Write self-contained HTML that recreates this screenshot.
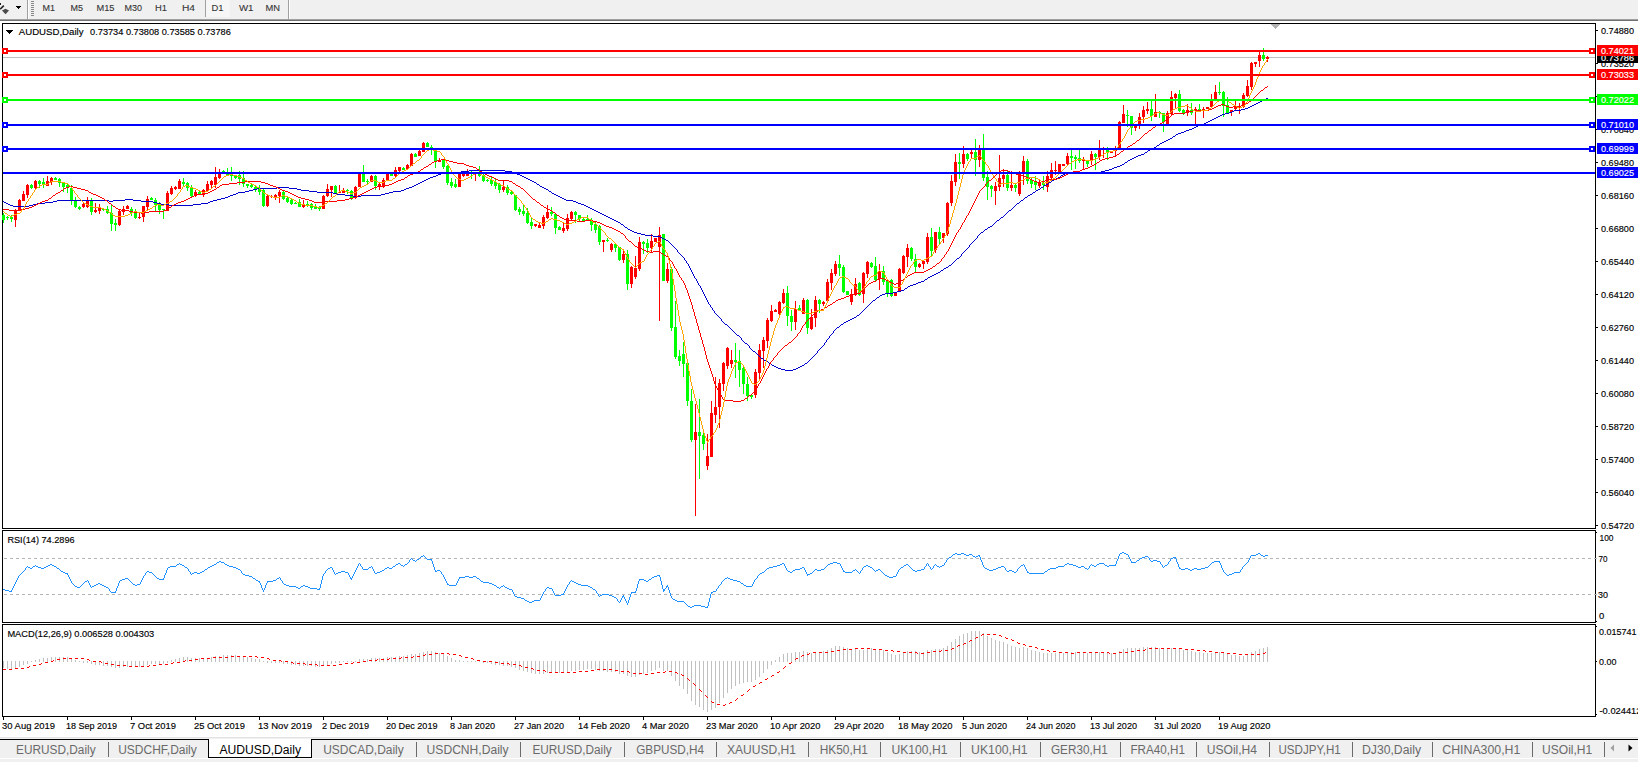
<!DOCTYPE html>
<html><head><meta charset="utf-8"><style>
html,body{margin:0;padding:0;background:#fff;overflow:hidden}
svg{display:block}
text{font-family:"Liberation Sans", sans-serif;stroke-width:0.15px;paint-order:stroke}
</style></head><body>
<svg width="1638" height="762" viewBox="0 0 1638 762" shape-rendering="crispEdges">
<rect x="0" y="0" width="1638" height="19" fill="#f0f0f0"/>
<rect x="0" y="19" width="1638" height="1" fill="#a0a0a0"/>
<rect x="0" y="20" width="1638" height="1" fill="#707070"/>
<path d="M0 2.5 L1.9 4.2 L0 4.8 Z" fill="#222"/>
<path d="M3.8 5.6 L0.2 9.2" stroke="#222" stroke-width="1.6" fill="none" shape-rendering="auto"/>
<path d="M2 10.6 L5.5 8.8 L9 10.6 L5.5 14.2 Z" fill="#4a4a4a" shape-rendering="auto"/>
<path d="M16 6 L21 6 L18.5 9 Z" fill="#000"/>
<rect x="27" y="0" width="1" height="19" fill="#a0a0a0"/>
<rect x="28" y="0" width="1" height="19" fill="#ffffff"/>
<rect x="31" y="1" width="3" height="1" fill="#888"/>
<rect x="31" y="3" width="3" height="1" fill="#888"/>
<rect x="31" y="5" width="3" height="1" fill="#888"/>
<rect x="31" y="7" width="3" height="1" fill="#888"/>
<rect x="31" y="9" width="3" height="1" fill="#888"/>
<rect x="31" y="11" width="3" height="1" fill="#888"/>
<rect x="31" y="13" width="3" height="1" fill="#888"/>
<rect x="31" y="15" width="3" height="1" fill="#888"/>
<rect x="205" y="0" width="1" height="17" fill="#a0a0a0"/>
<rect x="206" y="0" width="24" height="17" fill="#f6f6f6"/>
<rect x="288" y="0" width="1" height="19" fill="#a0a0a0"/>
<rect x="289" y="0" width="1" height="19" fill="#ffffff"/>
<text x="42.5" y="11" font-size="9.5" fill="#333" stroke="#333" textLength="12.5" lengthAdjust="spacingAndGlyphs" style="stroke-width:0.1px">M1</text>
<text x="70.5" y="11" font-size="9.5" fill="#333" stroke="#333" textLength="12.5" lengthAdjust="spacingAndGlyphs" style="stroke-width:0.1px">M5</text>
<text x="96.5" y="11" font-size="9.5" fill="#333" stroke="#333" textLength="18.0" lengthAdjust="spacingAndGlyphs" style="stroke-width:0.1px">M15</text>
<text x="124.5" y="11" font-size="9.5" fill="#333" stroke="#333" textLength="17.5" lengthAdjust="spacingAndGlyphs" style="stroke-width:0.1px">M30</text>
<text x="155" y="11" font-size="9.5" fill="#333" stroke="#333" textLength="12" lengthAdjust="spacingAndGlyphs" style="stroke-width:0.1px">H1</text>
<text x="182" y="11" font-size="9.5" fill="#333" stroke="#333" textLength="13" lengthAdjust="spacingAndGlyphs" style="stroke-width:0.1px">H4</text>
<text x="211.5" y="11" font-size="9.5" fill="#333" stroke="#333" textLength="12.0" lengthAdjust="spacingAndGlyphs" style="stroke-width:0.1px">D1</text>
<text x="239" y="11" font-size="9.5" fill="#333" stroke="#333" textLength="14.5" lengthAdjust="spacingAndGlyphs" style="stroke-width:0.1px">W1</text>
<text x="265.5" y="11" font-size="9.5" fill="#333" stroke="#333" textLength="14.5" lengthAdjust="spacingAndGlyphs" style="stroke-width:0.1px">MN</text>
<rect x="0" y="21" width="1638" height="716" fill="#ffffff"/>
<rect x="2" y="23" width="1594" height="1" fill="#000"/>
<rect x="2" y="528" width="1594" height="1" fill="#000"/>
<rect x="2" y="23" width="1" height="506" fill="#000"/>
<rect x="1595" y="23" width="1" height="506" fill="#000"/>
<rect x="2" y="530" width="1594" height="1" fill="#000"/>
<rect x="2" y="622" width="1594" height="1" fill="#000"/>
<rect x="2" y="530" width="1" height="93" fill="#000"/>
<rect x="1595" y="530" width="1" height="93" fill="#000"/>
<rect x="2" y="624" width="1594" height="1" fill="#000"/>
<rect x="2" y="716" width="1594" height="1" fill="#000"/>
<rect x="2" y="624" width="1" height="93" fill="#000"/>
<rect x="1595" y="624" width="1" height="93" fill="#000"/>
<rect x="1596" y="30" width="2" height="1" fill="#000"/>
<text x="1601" y="34" font-size="9.5" fill="#000" stroke="#000" textLength="33" lengthAdjust="spacingAndGlyphs" >0.74880</text>
<rect x="1596" y="63" width="2" height="1" fill="#000"/>
<text x="1601" y="67" font-size="9.5" fill="#000" stroke="#000" textLength="33" lengthAdjust="spacingAndGlyphs" >0.73520</text>
<rect x="1596" y="96" width="2" height="1" fill="#000"/>
<text x="1601" y="100" font-size="9.5" fill="#000" stroke="#000" textLength="33" lengthAdjust="spacingAndGlyphs" >0.72160</text>
<rect x="1596" y="129" width="2" height="1" fill="#000"/>
<text x="1601" y="133" font-size="9.5" fill="#000" stroke="#000" textLength="33" lengthAdjust="spacingAndGlyphs" >0.70840</text>
<rect x="1596" y="162" width="2" height="1" fill="#000"/>
<text x="1601" y="166" font-size="9.5" fill="#000" stroke="#000" textLength="33" lengthAdjust="spacingAndGlyphs" >0.69480</text>
<rect x="1596" y="195" width="2" height="1" fill="#000"/>
<text x="1601" y="199" font-size="9.5" fill="#000" stroke="#000" textLength="33" lengthAdjust="spacingAndGlyphs" >0.68160</text>
<rect x="1596" y="228" width="2" height="1" fill="#000"/>
<text x="1601" y="232" font-size="9.5" fill="#000" stroke="#000" textLength="33" lengthAdjust="spacingAndGlyphs" >0.66800</text>
<rect x="1596" y="261" width="2" height="1" fill="#000"/>
<text x="1601" y="265" font-size="9.5" fill="#000" stroke="#000" textLength="33" lengthAdjust="spacingAndGlyphs" >0.65440</text>
<rect x="1596" y="294" width="2" height="1" fill="#000"/>
<text x="1601" y="298" font-size="9.5" fill="#000" stroke="#000" textLength="33" lengthAdjust="spacingAndGlyphs" >0.64120</text>
<rect x="1596" y="327" width="2" height="1" fill="#000"/>
<text x="1601" y="331" font-size="9.5" fill="#000" stroke="#000" textLength="33" lengthAdjust="spacingAndGlyphs" >0.62760</text>
<rect x="1596" y="360" width="2" height="1" fill="#000"/>
<text x="1601" y="364" font-size="9.5" fill="#000" stroke="#000" textLength="33" lengthAdjust="spacingAndGlyphs" >0.61440</text>
<rect x="1596" y="393" width="2" height="1" fill="#000"/>
<text x="1601" y="397" font-size="9.5" fill="#000" stroke="#000" textLength="33" lengthAdjust="spacingAndGlyphs" >0.60080</text>
<rect x="1596" y="426" width="2" height="1" fill="#000"/>
<text x="1601" y="430" font-size="9.5" fill="#000" stroke="#000" textLength="33" lengthAdjust="spacingAndGlyphs" >0.58720</text>
<rect x="1596" y="459" width="2" height="1" fill="#000"/>
<text x="1601" y="463" font-size="9.5" fill="#000" stroke="#000" textLength="33" lengthAdjust="spacingAndGlyphs" >0.57400</text>
<rect x="1596" y="492" width="2" height="1" fill="#000"/>
<text x="1601" y="496" font-size="9.5" fill="#000" stroke="#000" textLength="33" lengthAdjust="spacingAndGlyphs" >0.56040</text>
<rect x="1596" y="525" width="2" height="1" fill="#000"/>
<text x="1601" y="529" font-size="9.5" fill="#000" stroke="#000" textLength="33" lengthAdjust="spacingAndGlyphs" >0.54720</text>
<rect x="1596" y="532" width="1" height="1" fill="#000"/>
<rect x="1596" y="558" width="1" height="1" fill="#000"/>
<rect x="1596" y="594" width="1" height="1" fill="#000"/>
<rect x="1596" y="621" width="1" height="1" fill="#000"/>
<text x="1599.5" y="541" font-size="9.5" fill="#000" stroke="#000" textLength="14" lengthAdjust="spacingAndGlyphs" >100</text>
<text x="1598.5" y="562" font-size="9.5" fill="#000" stroke="#000" textLength="9" lengthAdjust="spacingAndGlyphs" >70</text>
<text x="1598" y="598" font-size="9.5" fill="#000" stroke="#000" textLength="10" lengthAdjust="spacingAndGlyphs" >30</text>
<text x="1599" y="619" font-size="9.5" fill="#000" stroke="#000" textLength="5.3" lengthAdjust="spacingAndGlyphs" >0</text>
<rect x="1596" y="626" width="1" height="1" fill="#000"/>
<rect x="1596" y="661" width="1" height="1" fill="#000"/>
<rect x="1596" y="714" width="1" height="1" fill="#000"/>
<text x="1599.1" y="635" font-size="9.5" fill="#000" stroke="#000" textLength="37.5" lengthAdjust="spacingAndGlyphs" >0.015741</text>
<text x="1599.1" y="665" font-size="9.5" fill="#000" stroke="#000" textLength="17.4" lengthAdjust="spacingAndGlyphs" >0.00</text>
<text x="1599.5" y="713.5" font-size="9.5" fill="#000" stroke="#000" textLength="42" lengthAdjust="spacingAndGlyphs" >-0.024412</text>
<rect x="3" y="717" width="1" height="3" fill="#000"/>
<text x="2" y="729" font-size="9.5" fill="#000" stroke="#000" textLength="53" lengthAdjust="spacingAndGlyphs" >30 Aug 2019</text>
<rect x="67" y="717" width="1" height="3" fill="#000"/>
<text x="66" y="729" font-size="9.5" fill="#000" stroke="#000" textLength="51" lengthAdjust="spacingAndGlyphs" >18 Sep 2019</text>
<rect x="131" y="717" width="1" height="3" fill="#000"/>
<text x="130" y="729" font-size="9.5" fill="#000" stroke="#000" textLength="46" lengthAdjust="spacingAndGlyphs" >7 Oct 2019</text>
<rect x="195" y="717" width="1" height="3" fill="#000"/>
<text x="194" y="729" font-size="9.5" fill="#000" stroke="#000" textLength="51" lengthAdjust="spacingAndGlyphs" >25 Oct 2019</text>
<rect x="259" y="717" width="1" height="3" fill="#000"/>
<text x="258" y="729" font-size="9.5" fill="#000" stroke="#000" textLength="54" lengthAdjust="spacingAndGlyphs" >13 Nov 2019</text>
<rect x="323" y="717" width="1" height="3" fill="#000"/>
<text x="322" y="729" font-size="9.5" fill="#000" stroke="#000" textLength="47" lengthAdjust="spacingAndGlyphs" >2 Dec 2019</text>
<rect x="387" y="717" width="1" height="3" fill="#000"/>
<text x="386" y="729" font-size="9.5" fill="#000" stroke="#000" textLength="51.5" lengthAdjust="spacingAndGlyphs" >20 Dec 2019</text>
<rect x="451" y="717" width="1" height="3" fill="#000"/>
<text x="450" y="729" font-size="9.5" fill="#000" stroke="#000" textLength="45" lengthAdjust="spacingAndGlyphs" >8 Jan 2020</text>
<rect x="515" y="717" width="1" height="3" fill="#000"/>
<text x="514" y="729" font-size="9.5" fill="#000" stroke="#000" textLength="50" lengthAdjust="spacingAndGlyphs" >27 Jan 2020</text>
<rect x="579" y="717" width="1" height="3" fill="#000"/>
<text x="578" y="729" font-size="9.5" fill="#000" stroke="#000" textLength="52" lengthAdjust="spacingAndGlyphs" >14 Feb 2020</text>
<rect x="643" y="717" width="1" height="3" fill="#000"/>
<text x="642" y="729" font-size="9.5" fill="#000" stroke="#000" textLength="47" lengthAdjust="spacingAndGlyphs" >4 Mar 2020</text>
<rect x="707" y="717" width="1" height="3" fill="#000"/>
<text x="706" y="729" font-size="9.5" fill="#000" stroke="#000" textLength="52" lengthAdjust="spacingAndGlyphs" >23 Mar 2020</text>
<rect x="771" y="717" width="1" height="3" fill="#000"/>
<text x="770" y="729" font-size="9.5" fill="#000" stroke="#000" textLength="50.5" lengthAdjust="spacingAndGlyphs" >10 Apr 2020</text>
<rect x="835" y="717" width="1" height="3" fill="#000"/>
<text x="834" y="729" font-size="9.5" fill="#000" stroke="#000" textLength="50" lengthAdjust="spacingAndGlyphs" >29 Apr 2020</text>
<rect x="899" y="717" width="1" height="3" fill="#000"/>
<text x="898" y="729" font-size="9.5" fill="#000" stroke="#000" textLength="54.5" lengthAdjust="spacingAndGlyphs" >18 May 2020</text>
<rect x="963" y="717" width="1" height="3" fill="#000"/>
<text x="962" y="729" font-size="9.5" fill="#000" stroke="#000" textLength="45" lengthAdjust="spacingAndGlyphs" >5 Jun 2020</text>
<rect x="1027" y="717" width="1" height="3" fill="#000"/>
<text x="1026" y="729" font-size="9.5" fill="#000" stroke="#000" textLength="49.5" lengthAdjust="spacingAndGlyphs" >24 Jun 2020</text>
<rect x="1091" y="717" width="1" height="3" fill="#000"/>
<text x="1090" y="729" font-size="9.5" fill="#000" stroke="#000" textLength="47" lengthAdjust="spacingAndGlyphs" >13 Jul 2020</text>
<rect x="1155" y="717" width="1" height="3" fill="#000"/>
<text x="1154" y="729" font-size="9.5" fill="#000" stroke="#000" textLength="47" lengthAdjust="spacingAndGlyphs" >31 Jul 2020</text>
<rect x="1219" y="717" width="1" height="3" fill="#000"/>
<text x="1218" y="729" font-size="9.5" fill="#000" stroke="#000" textLength="52.5" lengthAdjust="spacingAndGlyphs" >19 Aug 2020</text>
<rect x="0" y="737" width="1638" height="1" fill="#e3e3e3"/>
<rect x="0" y="738" width="1638" height="1" fill="#f0f0f0"/>
<rect x="0" y="739" width="1638" height="1" fill="#000"/>
<rect x="0" y="740" width="1638" height="18" fill="#f0f0f0"/>
<rect x="0" y="758" width="1638" height="1" fill="#ffffff"/>
<rect x="0" y="759" width="1638" height="3" fill="#f0f0f0"/>
<rect x="208" y="739" width="104" height="19" fill="#ffffff"/>
<rect x="208" y="739" width="1" height="19" fill="#000"/>
<rect x="311" y="739" width="1" height="19" fill="#000"/>
<rect x="208" y="757" width="104" height="1" fill="#000"/>
<text x="16" y="754" font-size="12" fill="#6a6a6a" stroke="#6a6a6a" textLength="79.6" lengthAdjust="spacingAndGlyphs" style="stroke-width:0">EURUSD,Daily</text>
<text x="118.2" y="754" font-size="12" fill="#6a6a6a" stroke="#6a6a6a" textLength="78.6" lengthAdjust="spacingAndGlyphs" style="stroke-width:0">USDCHF,Daily</text>
<text x="219.5" y="754" font-size="12" fill="#000" stroke="#000" textLength="81.5" lengthAdjust="spacingAndGlyphs" style="stroke-width:0">AUDUSD,Daily</text>
<text x="323.2" y="754" font-size="12" fill="#6a6a6a" stroke="#6a6a6a" textLength="80.6" lengthAdjust="spacingAndGlyphs" style="stroke-width:0">USDCAD,Daily</text>
<text x="426.6" y="754" font-size="12" fill="#6a6a6a" stroke="#6a6a6a" textLength="82.0" lengthAdjust="spacingAndGlyphs" style="stroke-width:0">USDCNH,Daily</text>
<text x="532.5" y="754" font-size="12" fill="#6a6a6a" stroke="#6a6a6a" textLength="79.2" lengthAdjust="spacingAndGlyphs" style="stroke-width:0">EURUSD,Daily</text>
<text x="636.2" y="754" font-size="12" fill="#6a6a6a" stroke="#6a6a6a" textLength="67.8" lengthAdjust="spacingAndGlyphs" style="stroke-width:0">GBPUSD,H4</text>
<text x="726.9" y="754" font-size="12" fill="#6a6a6a" stroke="#6a6a6a" textLength="69.1" lengthAdjust="spacingAndGlyphs" style="stroke-width:0">XAUUSD,H1</text>
<text x="819.7" y="754" font-size="12" fill="#6a6a6a" stroke="#6a6a6a" textLength="48.3" lengthAdjust="spacingAndGlyphs" style="stroke-width:0">HK50,H1</text>
<text x="891.5" y="754" font-size="12" fill="#6a6a6a" stroke="#6a6a6a" textLength="56.0" lengthAdjust="spacingAndGlyphs" style="stroke-width:0">UK100,H1</text>
<text x="971.1" y="754" font-size="12" fill="#6a6a6a" stroke="#6a6a6a" textLength="56.5" lengthAdjust="spacingAndGlyphs" style="stroke-width:0">UK100,H1</text>
<text x="1051" y="754" font-size="12" fill="#6a6a6a" stroke="#6a6a6a" textLength="56.7" lengthAdjust="spacingAndGlyphs" style="stroke-width:0">GER30,H1</text>
<text x="1130.5" y="754" font-size="12" fill="#6a6a6a" stroke="#6a6a6a" textLength="54.4" lengthAdjust="spacingAndGlyphs" style="stroke-width:0">FRA40,H1</text>
<text x="1206.7" y="754" font-size="12" fill="#6a6a6a" stroke="#6a6a6a" textLength="50.4" lengthAdjust="spacingAndGlyphs" style="stroke-width:0">USOil,H4</text>
<text x="1278.5" y="754" font-size="12" fill="#6a6a6a" stroke="#6a6a6a" textLength="62.3" lengthAdjust="spacingAndGlyphs" style="stroke-width:0">USDJPY,H1</text>
<text x="1362" y="754" font-size="12" fill="#6a6a6a" stroke="#6a6a6a" textLength="59" lengthAdjust="spacingAndGlyphs" style="stroke-width:0">DJ30,Daily</text>
<text x="1442.3" y="754" font-size="12" fill="#6a6a6a" stroke="#6a6a6a" textLength="78.0" lengthAdjust="spacingAndGlyphs" style="stroke-width:0">CHINA300,H1</text>
<text x="1542" y="754" font-size="12" fill="#6a6a6a" stroke="#6a6a6a" textLength="50.3" lengthAdjust="spacingAndGlyphs" style="stroke-width:0">USOil,H1</text>
<rect x="108" y="742" width="1" height="15" fill="#6a6a6a"/>
<rect x="416" y="742" width="1" height="15" fill="#6a6a6a"/>
<rect x="520" y="742" width="1" height="15" fill="#6a6a6a"/>
<rect x="624" y="742" width="1" height="15" fill="#6a6a6a"/>
<rect x="716" y="742" width="1" height="15" fill="#6a6a6a"/>
<rect x="808" y="742" width="1" height="15" fill="#6a6a6a"/>
<rect x="880" y="742" width="1" height="15" fill="#6a6a6a"/>
<rect x="960" y="742" width="1" height="15" fill="#6a6a6a"/>
<rect x="1040" y="742" width="1" height="15" fill="#6a6a6a"/>
<rect x="1120" y="742" width="1" height="15" fill="#6a6a6a"/>
<rect x="1196" y="742" width="1" height="15" fill="#6a6a6a"/>
<rect x="1269" y="742" width="1" height="15" fill="#6a6a6a"/>
<rect x="1352" y="742" width="1" height="15" fill="#6a6a6a"/>
<rect x="1432" y="742" width="1" height="15" fill="#6a6a6a"/>
<rect x="1532" y="742" width="1" height="15" fill="#6a6a6a"/>
<rect x="1604" y="742" width="1" height="15" fill="#6a6a6a"/>
<path d="M1614 744.5 L1614 751.5 L1610.5 748 Z" fill="#a0a0a0" shape-rendering="auto"/>
<path d="M1628.5 744.5 L1628.5 751.5 L1632.5 748 Z" fill="#000" shape-rendering="auto"/>
<path d="M6 30 L13 30 L9.5 34 Z" fill="#000"/>
<text x="18.8" y="35" font-size="9.5" fill="#000" stroke="#000" textLength="64.7" lengthAdjust="spacingAndGlyphs" >AUDUSD,Daily</text>
<text x="90.1" y="35" font-size="9.5" fill="#000" stroke="#000" textLength="140.7" lengthAdjust="spacingAndGlyphs" >0.73734 0.73808 0.73585 0.73786</text>
<text x="7.4" y="543" font-size="9.5" fill="#000" stroke="#000" textLength="67.2" lengthAdjust="spacingAndGlyphs" >RSI(14) 74.2896</text>
<text x="7.4" y="637" font-size="9.5" fill="#000" stroke="#000" textLength="146.8" lengthAdjust="spacingAndGlyphs" >MACD(12,26,9) 0.006528 0.004303</text>
<path d="M1270 24 L1281 24 L1275.5 29 Z" fill="#b4b4b4"/>
<rect x="3" y="57" width="1592" height="1" fill="#c0c0c0"/>
<g id="candles">
<rect x="3" y="213" width="1" height="10" fill="#00ff00"/>
<rect x="2" y="215" width="3" height="5" fill="#00ff00"/>
<rect x="7" y="216" width="1" height="4" fill="#00ff00"/>
<rect x="6" y="217" width="3" height="1" fill="#00ff00"/>
<rect x="11" y="215" width="1" height="7" fill="#00ff00"/>
<rect x="10" y="217" width="3" height="2" fill="#00ff00"/>
<rect x="15" y="209" width="1" height="18" fill="#ff0000"/>
<rect x="14" y="210" width="3" height="10" fill="#ff0000"/>
<rect x="19" y="199" width="1" height="12" fill="#ff0000"/>
<rect x="18" y="200" width="3" height="10" fill="#ff0000"/>
<rect x="23" y="191" width="1" height="10" fill="#ff0000"/>
<rect x="22" y="194" width="3" height="7" fill="#ff0000"/>
<rect x="27" y="184" width="1" height="14" fill="#ff0000"/>
<rect x="26" y="185" width="3" height="10" fill="#ff0000"/>
<rect x="31" y="184" width="1" height="5" fill="#00ff00"/>
<rect x="30" y="185" width="3" height="3" fill="#00ff00"/>
<rect x="35" y="180" width="1" height="9" fill="#ff0000"/>
<rect x="34" y="181" width="3" height="7" fill="#ff0000"/>
<rect x="39" y="180" width="1" height="8" fill="#00ff00"/>
<rect x="38" y="181" width="3" height="3" fill="#00ff00"/>
<rect x="43" y="178" width="1" height="10" fill="#00ff00"/>
<rect x="42" y="182" width="3" height="3" fill="#00ff00"/>
<rect x="47" y="176" width="1" height="10" fill="#ff0000"/>
<rect x="46" y="181" width="3" height="5" fill="#ff0000"/>
<rect x="51" y="177" width="1" height="8" fill="#ff0000"/>
<rect x="50" y="178" width="3" height="4" fill="#ff0000"/>
<rect x="55" y="177" width="1" height="3" fill="#00ff00"/>
<rect x="54" y="178" width="3" height="2" fill="#00ff00"/>
<rect x="59" y="178" width="1" height="9" fill="#00ff00"/>
<rect x="58" y="179" width="3" height="4" fill="#00ff00"/>
<rect x="63" y="182" width="1" height="10" fill="#00ff00"/>
<rect x="62" y="183" width="3" height="4" fill="#00ff00"/>
<rect x="67" y="183" width="1" height="10" fill="#00ff00"/>
<rect x="66" y="185" width="3" height="3" fill="#00ff00"/>
<rect x="71" y="185" width="1" height="20" fill="#00ff00"/>
<rect x="70" y="188" width="3" height="12" fill="#00ff00"/>
<rect x="75" y="197" width="1" height="11" fill="#00ff00"/>
<rect x="74" y="200" width="3" height="7" fill="#00ff00"/>
<rect x="79" y="206" width="1" height="4" fill="#00ff00"/>
<rect x="78" y="207" width="3" height="2" fill="#00ff00"/>
<rect x="83" y="203" width="1" height="5" fill="#ff0000"/>
<rect x="82" y="204" width="3" height="3" fill="#ff0000"/>
<rect x="87" y="197" width="1" height="11" fill="#ff0000"/>
<rect x="86" y="201" width="3" height="6" fill="#ff0000"/>
<rect x="91" y="198" width="1" height="17" fill="#00ff00"/>
<rect x="90" y="201" width="3" height="11" fill="#00ff00"/>
<rect x="95" y="203" width="1" height="10" fill="#ff0000"/>
<rect x="94" y="210" width="3" height="2" fill="#ff0000"/>
<rect x="99" y="204" width="1" height="10" fill="#ff0000"/>
<rect x="98" y="208" width="3" height="3" fill="#ff0000"/>
<rect x="103" y="208" width="1" height="3" fill="#00ff00"/>
<rect x="102" y="209" width="3" height="1" fill="#00ff00"/>
<rect x="107" y="206" width="1" height="8" fill="#00ff00"/>
<rect x="106" y="209" width="3" height="4" fill="#00ff00"/>
<rect x="111" y="205" width="1" height="26" fill="#00ff00"/>
<rect x="110" y="213" width="3" height="11" fill="#00ff00"/>
<rect x="115" y="219" width="1" height="12" fill="#00ff00"/>
<rect x="114" y="223" width="3" height="2" fill="#00ff00"/>
<rect x="119" y="210" width="1" height="16" fill="#ff0000"/>
<rect x="118" y="211" width="3" height="14" fill="#ff0000"/>
<rect x="123" y="206" width="1" height="9" fill="#ff0000"/>
<rect x="122" y="209" width="3" height="3" fill="#ff0000"/>
<rect x="127" y="205" width="1" height="4" fill="#ff0000"/>
<rect x="126" y="206" width="3" height="3" fill="#ff0000"/>
<rect x="131" y="207" width="1" height="9" fill="#00ff00"/>
<rect x="130" y="209" width="3" height="4" fill="#00ff00"/>
<rect x="135" y="209" width="1" height="10" fill="#00ff00"/>
<rect x="134" y="213" width="3" height="5" fill="#00ff00"/>
<rect x="139" y="212" width="1" height="7" fill="#ff0000"/>
<rect x="138" y="217" width="3" height="1" fill="#ff0000"/>
<rect x="143" y="206" width="1" height="16" fill="#ff0000"/>
<rect x="142" y="206" width="3" height="11" fill="#ff0000"/>
<rect x="147" y="196" width="1" height="14" fill="#ff0000"/>
<rect x="146" y="199" width="3" height="8" fill="#ff0000"/>
<rect x="151" y="197" width="1" height="3" fill="#00ff00"/>
<rect x="150" y="198" width="3" height="2" fill="#00ff00"/>
<rect x="155" y="198" width="1" height="13" fill="#00ff00"/>
<rect x="154" y="200" width="3" height="5" fill="#00ff00"/>
<rect x="159" y="202" width="1" height="12" fill="#00ff00"/>
<rect x="158" y="204" width="3" height="6" fill="#00ff00"/>
<rect x="163" y="209" width="1" height="10" fill="#00ff00"/>
<rect x="162" y="209" width="3" height="1" fill="#00ff00"/>
<rect x="167" y="191" width="1" height="20" fill="#ff0000"/>
<rect x="166" y="193" width="3" height="18" fill="#ff0000"/>
<rect x="171" y="186" width="1" height="9" fill="#ff0000"/>
<rect x="170" y="188" width="3" height="6" fill="#ff0000"/>
<rect x="175" y="186" width="1" height="4" fill="#ff0000"/>
<rect x="174" y="187" width="3" height="2" fill="#ff0000"/>
<rect x="179" y="179" width="1" height="10" fill="#ff0000"/>
<rect x="178" y="181" width="3" height="8" fill="#ff0000"/>
<rect x="183" y="178" width="1" height="8" fill="#00ff00"/>
<rect x="182" y="182" width="3" height="2" fill="#00ff00"/>
<rect x="187" y="182" width="1" height="9" fill="#00ff00"/>
<rect x="186" y="183" width="3" height="5" fill="#00ff00"/>
<rect x="191" y="185" width="1" height="12" fill="#00ff00"/>
<rect x="190" y="188" width="3" height="8" fill="#00ff00"/>
<rect x="195" y="190" width="1" height="7" fill="#ff0000"/>
<rect x="194" y="192" width="3" height="4" fill="#ff0000"/>
<rect x="199" y="191" width="1" height="3" fill="#00ff00"/>
<rect x="198" y="192" width="3" height="2" fill="#00ff00"/>
<rect x="203" y="189" width="1" height="8" fill="#ff0000"/>
<rect x="202" y="190" width="3" height="5" fill="#ff0000"/>
<rect x="207" y="181" width="1" height="10" fill="#ff0000"/>
<rect x="206" y="184" width="3" height="7" fill="#ff0000"/>
<rect x="211" y="180" width="1" height="8" fill="#ff0000"/>
<rect x="210" y="181" width="3" height="4" fill="#ff0000"/>
<rect x="215" y="167" width="1" height="21" fill="#ff0000"/>
<rect x="214" y="177" width="3" height="8" fill="#ff0000"/>
<rect x="219" y="169" width="1" height="10" fill="#ff0000"/>
<rect x="218" y="172" width="3" height="6" fill="#ff0000"/>
<rect x="223" y="170" width="1" height="3" fill="#00ff00"/>
<rect x="222" y="171" width="3" height="2" fill="#00ff00"/>
<rect x="227" y="168" width="1" height="8" fill="#00ff00"/>
<rect x="226" y="174" width="3" height="1" fill="#00ff00"/>
<rect x="231" y="167" width="1" height="14" fill="#00ff00"/>
<rect x="230" y="175" width="3" height="1" fill="#00ff00"/>
<rect x="235" y="175" width="1" height="4" fill="#00ff00"/>
<rect x="234" y="176" width="3" height="2" fill="#00ff00"/>
<rect x="239" y="171" width="1" height="14" fill="#00ff00"/>
<rect x="238" y="175" width="3" height="4" fill="#00ff00"/>
<rect x="243" y="171" width="1" height="16" fill="#00ff00"/>
<rect x="242" y="178" width="3" height="6" fill="#00ff00"/>
<rect x="247" y="184" width="1" height="4" fill="#00ff00"/>
<rect x="246" y="184" width="3" height="2" fill="#00ff00"/>
<rect x="251" y="183" width="1" height="5" fill="#00ff00"/>
<rect x="250" y="185" width="3" height="2" fill="#00ff00"/>
<rect x="255" y="185" width="1" height="7" fill="#00ff00"/>
<rect x="254" y="187" width="3" height="3" fill="#00ff00"/>
<rect x="259" y="185" width="1" height="10" fill="#00ff00"/>
<rect x="258" y="189" width="3" height="3" fill="#00ff00"/>
<rect x="263" y="189" width="1" height="18" fill="#00ff00"/>
<rect x="262" y="190" width="3" height="16" fill="#00ff00"/>
<rect x="267" y="195" width="1" height="12" fill="#ff0000"/>
<rect x="266" y="196" width="3" height="10" fill="#ff0000"/>
<rect x="271" y="195" width="1" height="3" fill="#ff0000"/>
<rect x="270" y="196" width="3" height="1" fill="#ff0000"/>
<rect x="275" y="194" width="1" height="6" fill="#ff0000"/>
<rect x="274" y="195" width="3" height="2" fill="#ff0000"/>
<rect x="279" y="190" width="1" height="13" fill="#ff0000"/>
<rect x="278" y="192" width="3" height="4" fill="#ff0000"/>
<rect x="283" y="190" width="1" height="10" fill="#00ff00"/>
<rect x="282" y="192" width="3" height="7" fill="#00ff00"/>
<rect x="287" y="196" width="1" height="7" fill="#00ff00"/>
<rect x="286" y="198" width="3" height="4" fill="#00ff00"/>
<rect x="291" y="199" width="1" height="6" fill="#00ff00"/>
<rect x="290" y="200" width="3" height="4" fill="#00ff00"/>
<rect x="295" y="202" width="1" height="2" fill="#00ff00"/>
<rect x="294" y="203" width="3" height="1" fill="#00ff00"/>
<rect x="299" y="199" width="1" height="8" fill="#00ff00"/>
<rect x="298" y="202" width="3" height="5" fill="#00ff00"/>
<rect x="303" y="200" width="1" height="8" fill="#ff0000"/>
<rect x="302" y="204" width="3" height="3" fill="#ff0000"/>
<rect x="307" y="201" width="1" height="6" fill="#00ff00"/>
<rect x="306" y="204" width="3" height="1" fill="#00ff00"/>
<rect x="311" y="203" width="1" height="7" fill="#00ff00"/>
<rect x="310" y="204" width="3" height="4" fill="#00ff00"/>
<rect x="315" y="204" width="1" height="5" fill="#00ff00"/>
<rect x="314" y="207" width="3" height="2" fill="#00ff00"/>
<rect x="319" y="206" width="1" height="5" fill="#00ff00"/>
<rect x="318" y="207" width="3" height="2" fill="#00ff00"/>
<rect x="323" y="195" width="1" height="14" fill="#ff0000"/>
<rect x="322" y="196" width="3" height="13" fill="#ff0000"/>
<rect x="327" y="184" width="1" height="13" fill="#ff0000"/>
<rect x="326" y="189" width="3" height="7" fill="#ff0000"/>
<rect x="331" y="186" width="1" height="11" fill="#ff0000"/>
<rect x="330" y="186" width="3" height="4" fill="#ff0000"/>
<rect x="335" y="185" width="1" height="9" fill="#00ff00"/>
<rect x="334" y="186" width="3" height="8" fill="#00ff00"/>
<rect x="339" y="185" width="1" height="8" fill="#ff0000"/>
<rect x="338" y="192" width="3" height="1" fill="#ff0000"/>
<rect x="343" y="188" width="1" height="5" fill="#ff0000"/>
<rect x="342" y="190" width="3" height="3" fill="#ff0000"/>
<rect x="347" y="189" width="1" height="5" fill="#00ff00"/>
<rect x="346" y="190" width="3" height="1" fill="#00ff00"/>
<rect x="351" y="190" width="1" height="10" fill="#00ff00"/>
<rect x="350" y="191" width="3" height="7" fill="#00ff00"/>
<rect x="355" y="186" width="1" height="13" fill="#ff0000"/>
<rect x="354" y="187" width="3" height="11" fill="#ff0000"/>
<rect x="359" y="174" width="1" height="13" fill="#ff0000"/>
<rect x="358" y="174" width="3" height="13" fill="#ff0000"/>
<rect x="363" y="165" width="1" height="17" fill="#00ff00"/>
<rect x="362" y="174" width="3" height="8" fill="#00ff00"/>
<rect x="367" y="179" width="1" height="5" fill="#00ff00"/>
<rect x="366" y="181" width="3" height="1" fill="#00ff00"/>
<rect x="371" y="175" width="1" height="7" fill="#ff0000"/>
<rect x="370" y="176" width="3" height="6" fill="#ff0000"/>
<rect x="375" y="175" width="1" height="15" fill="#00ff00"/>
<rect x="374" y="176" width="3" height="10" fill="#00ff00"/>
<rect x="379" y="183" width="1" height="7" fill="#ff0000"/>
<rect x="378" y="184" width="3" height="2" fill="#ff0000"/>
<rect x="383" y="178" width="1" height="10" fill="#ff0000"/>
<rect x="382" y="180" width="3" height="6" fill="#ff0000"/>
<rect x="387" y="174" width="1" height="7" fill="#ff0000"/>
<rect x="386" y="174" width="3" height="6" fill="#ff0000"/>
<rect x="391" y="174" width="1" height="2" fill="#00ff00"/>
<rect x="390" y="174" width="3" height="2" fill="#00ff00"/>
<rect x="395" y="167" width="1" height="10" fill="#ff0000"/>
<rect x="394" y="170" width="3" height="6" fill="#ff0000"/>
<rect x="399" y="167" width="1" height="5" fill="#ff0000"/>
<rect x="398" y="167" width="3" height="4" fill="#ff0000"/>
<rect x="403" y="167" width="1" height="3" fill="#00ff00"/>
<rect x="402" y="168" width="3" height="2" fill="#00ff00"/>
<rect x="407" y="164" width="1" height="6" fill="#ff0000"/>
<rect x="406" y="165" width="3" height="4" fill="#ff0000"/>
<rect x="411" y="153" width="1" height="13" fill="#ff0000"/>
<rect x="410" y="154" width="3" height="12" fill="#ff0000"/>
<rect x="415" y="153" width="1" height="4" fill="#00ff00"/>
<rect x="414" y="154" width="3" height="3" fill="#00ff00"/>
<rect x="419" y="150" width="1" height="6" fill="#ff0000"/>
<rect x="418" y="151" width="3" height="5" fill="#ff0000"/>
<rect x="423" y="142" width="1" height="10" fill="#ff0000"/>
<rect x="422" y="143" width="3" height="9" fill="#ff0000"/>
<rect x="427" y="142" width="1" height="5" fill="#00ff00"/>
<rect x="426" y="143" width="3" height="4" fill="#00ff00"/>
<rect x="431" y="145" width="1" height="10" fill="#00ff00"/>
<rect x="430" y="147" width="3" height="1" fill="#00ff00"/>
<rect x="435" y="150" width="1" height="18" fill="#00ff00"/>
<rect x="434" y="150" width="3" height="11" fill="#00ff00"/>
<rect x="439" y="158" width="1" height="4" fill="#ff0000"/>
<rect x="438" y="160" width="3" height="2" fill="#ff0000"/>
<rect x="443" y="159" width="1" height="10" fill="#00ff00"/>
<rect x="442" y="160" width="3" height="7" fill="#00ff00"/>
<rect x="447" y="165" width="1" height="20" fill="#00ff00"/>
<rect x="446" y="166" width="3" height="17" fill="#00ff00"/>
<rect x="451" y="178" width="1" height="10" fill="#00ff00"/>
<rect x="450" y="182" width="3" height="4" fill="#00ff00"/>
<rect x="455" y="179" width="1" height="9" fill="#00ff00"/>
<rect x="454" y="184" width="3" height="3" fill="#00ff00"/>
<rect x="459" y="173" width="1" height="14" fill="#ff0000"/>
<rect x="458" y="174" width="3" height="13" fill="#ff0000"/>
<rect x="463" y="172" width="1" height="5" fill="#ff0000"/>
<rect x="462" y="173" width="3" height="3" fill="#ff0000"/>
<rect x="467" y="169" width="1" height="7" fill="#ff0000"/>
<rect x="466" y="171" width="3" height="5" fill="#ff0000"/>
<rect x="471" y="170" width="1" height="9" fill="#00ff00"/>
<rect x="470" y="172" width="3" height="2" fill="#00ff00"/>
<rect x="475" y="172" width="1" height="9" fill="#ff0000"/>
<rect x="474" y="172" width="3" height="2" fill="#ff0000"/>
<rect x="479" y="166" width="1" height="11" fill="#00ff00"/>
<rect x="478" y="172" width="3" height="4" fill="#00ff00"/>
<rect x="483" y="172" width="1" height="10" fill="#00ff00"/>
<rect x="482" y="175" width="3" height="6" fill="#00ff00"/>
<rect x="487" y="179" width="1" height="3" fill="#00ff00"/>
<rect x="486" y="180" width="3" height="1" fill="#00ff00"/>
<rect x="491" y="177" width="1" height="9" fill="#00ff00"/>
<rect x="490" y="180" width="3" height="4" fill="#00ff00"/>
<rect x="495" y="179" width="1" height="10" fill="#00ff00"/>
<rect x="494" y="182" width="3" height="4" fill="#00ff00"/>
<rect x="499" y="183" width="1" height="10" fill="#00ff00"/>
<rect x="498" y="184" width="3" height="6" fill="#00ff00"/>
<rect x="503" y="180" width="1" height="12" fill="#ff0000"/>
<rect x="502" y="187" width="3" height="3" fill="#ff0000"/>
<rect x="507" y="185" width="1" height="10" fill="#00ff00"/>
<rect x="506" y="187" width="3" height="6" fill="#00ff00"/>
<rect x="511" y="191" width="1" height="4" fill="#00ff00"/>
<rect x="510" y="192" width="3" height="2" fill="#00ff00"/>
<rect x="515" y="195" width="1" height="16" fill="#00ff00"/>
<rect x="514" y="195" width="3" height="15" fill="#00ff00"/>
<rect x="519" y="207" width="1" height="8" fill="#00ff00"/>
<rect x="518" y="209" width="3" height="3" fill="#00ff00"/>
<rect x="523" y="205" width="1" height="11" fill="#00ff00"/>
<rect x="522" y="211" width="3" height="3" fill="#00ff00"/>
<rect x="527" y="208" width="1" height="16" fill="#00ff00"/>
<rect x="526" y="213" width="3" height="10" fill="#00ff00"/>
<rect x="531" y="217" width="1" height="12" fill="#00ff00"/>
<rect x="530" y="222" width="3" height="4" fill="#00ff00"/>
<rect x="535" y="224" width="1" height="3" fill="#ff0000"/>
<rect x="534" y="224" width="3" height="2" fill="#ff0000"/>
<rect x="539" y="223" width="1" height="5" fill="#ff0000"/>
<rect x="538" y="225" width="3" height="3" fill="#ff0000"/>
<rect x="543" y="215" width="1" height="14" fill="#ff0000"/>
<rect x="542" y="217" width="3" height="9" fill="#ff0000"/>
<rect x="547" y="205" width="1" height="14" fill="#ff0000"/>
<rect x="546" y="212" width="3" height="6" fill="#ff0000"/>
<rect x="551" y="207" width="1" height="9" fill="#00ff00"/>
<rect x="550" y="212" width="3" height="2" fill="#00ff00"/>
<rect x="555" y="213" width="1" height="21" fill="#00ff00"/>
<rect x="554" y="214" width="3" height="14" fill="#00ff00"/>
<rect x="559" y="226" width="1" height="4" fill="#00ff00"/>
<rect x="558" y="227" width="3" height="3" fill="#00ff00"/>
<rect x="563" y="223" width="1" height="10" fill="#ff0000"/>
<rect x="562" y="228" width="3" height="3" fill="#ff0000"/>
<rect x="567" y="214" width="1" height="17" fill="#ff0000"/>
<rect x="566" y="218" width="3" height="11" fill="#ff0000"/>
<rect x="571" y="211" width="1" height="10" fill="#ff0000"/>
<rect x="570" y="212" width="3" height="7" fill="#ff0000"/>
<rect x="575" y="211" width="1" height="12" fill="#00ff00"/>
<rect x="574" y="212" width="3" height="3" fill="#00ff00"/>
<rect x="579" y="215" width="1" height="6" fill="#00ff00"/>
<rect x="578" y="215" width="3" height="4" fill="#00ff00"/>
<rect x="583" y="217" width="1" height="4" fill="#00ff00"/>
<rect x="582" y="219" width="3" height="2" fill="#00ff00"/>
<rect x="587" y="215" width="1" height="6" fill="#00ff00"/>
<rect x="586" y="219" width="3" height="1" fill="#00ff00"/>
<rect x="591" y="218" width="1" height="13" fill="#00ff00"/>
<rect x="590" y="220" width="3" height="5" fill="#00ff00"/>
<rect x="595" y="222" width="1" height="11" fill="#00ff00"/>
<rect x="594" y="224" width="3" height="6" fill="#00ff00"/>
<rect x="599" y="225" width="1" height="20" fill="#00ff00"/>
<rect x="598" y="226" width="3" height="16" fill="#00ff00"/>
<rect x="603" y="240" width="1" height="12" fill="#ff0000"/>
<rect x="602" y="240" width="3" height="2" fill="#ff0000"/>
<rect x="607" y="238" width="1" height="4" fill="#00ff00"/>
<rect x="606" y="240" width="3" height="1" fill="#00ff00"/>
<rect x="611" y="243" width="1" height="9" fill="#ff0000"/>
<rect x="610" y="244" width="3" height="6" fill="#ff0000"/>
<rect x="615" y="243" width="1" height="9" fill="#00ff00"/>
<rect x="614" y="244" width="3" height="4" fill="#00ff00"/>
<rect x="619" y="247" width="1" height="14" fill="#00ff00"/>
<rect x="618" y="247" width="3" height="13" fill="#00ff00"/>
<rect x="623" y="251" width="1" height="12" fill="#ff0000"/>
<rect x="622" y="254" width="3" height="6" fill="#ff0000"/>
<rect x="627" y="250" width="1" height="40" fill="#00ff00"/>
<rect x="626" y="254" width="3" height="30" fill="#00ff00"/>
<rect x="631" y="266" width="1" height="22" fill="#ff0000"/>
<rect x="630" y="267" width="3" height="17" fill="#ff0000"/>
<rect x="635" y="256" width="1" height="23" fill="#ff0000"/>
<rect x="634" y="268" width="3" height="9" fill="#ff0000"/>
<rect x="639" y="237" width="1" height="34" fill="#ff0000"/>
<rect x="638" y="242" width="3" height="27" fill="#ff0000"/>
<rect x="643" y="241" width="1" height="13" fill="#00ff00"/>
<rect x="642" y="242" width="3" height="2" fill="#00ff00"/>
<rect x="647" y="239" width="1" height="14" fill="#00ff00"/>
<rect x="646" y="243" width="3" height="5" fill="#00ff00"/>
<rect x="651" y="234" width="1" height="19" fill="#ff0000"/>
<rect x="650" y="241" width="3" height="7" fill="#ff0000"/>
<rect x="655" y="238" width="1" height="4" fill="#ff0000"/>
<rect x="654" y="238" width="3" height="4" fill="#ff0000"/>
<rect x="659" y="227" width="1" height="94" fill="#ff0000"/>
<rect x="658" y="235" width="3" height="12" fill="#ff0000"/>
<rect x="663" y="234" width="1" height="47" fill="#00ff00"/>
<rect x="662" y="234" width="3" height="47" fill="#00ff00"/>
<rect x="667" y="263" width="1" height="20" fill="#ff0000"/>
<rect x="666" y="269" width="3" height="12" fill="#ff0000"/>
<rect x="671" y="267" width="1" height="64" fill="#00ff00"/>
<rect x="670" y="269" width="3" height="59" fill="#00ff00"/>
<rect x="675" y="301" width="1" height="58" fill="#00ff00"/>
<rect x="674" y="327" width="3" height="30" fill="#00ff00"/>
<rect x="679" y="350" width="1" height="16" fill="#00ff00"/>
<rect x="678" y="356" width="3" height="5" fill="#00ff00"/>
<rect x="683" y="342" width="1" height="35" fill="#00ff00"/>
<rect x="682" y="354" width="3" height="10" fill="#00ff00"/>
<rect x="687" y="363" width="1" height="43" fill="#00ff00"/>
<rect x="686" y="363" width="3" height="38" fill="#00ff00"/>
<rect x="691" y="389" width="1" height="53" fill="#00ff00"/>
<rect x="690" y="401" width="3" height="39" fill="#00ff00"/>
<rect x="695" y="404" width="1" height="112" fill="#ff0000"/>
<rect x="694" y="432" width="3" height="8" fill="#ff0000"/>
<rect x="699" y="399" width="1" height="80" fill="#00ff00"/>
<rect x="698" y="432" width="3" height="4" fill="#00ff00"/>
<rect x="703" y="432" width="1" height="18" fill="#00ff00"/>
<rect x="702" y="435" width="3" height="9" fill="#00ff00"/>
<rect x="707" y="434" width="1" height="36" fill="#ff0000"/>
<rect x="706" y="456" width="3" height="10" fill="#ff0000"/>
<rect x="711" y="401" width="1" height="56" fill="#ff0000"/>
<rect x="710" y="413" width="3" height="44" fill="#ff0000"/>
<rect x="715" y="377" width="1" height="46" fill="#ff0000"/>
<rect x="714" y="407" width="3" height="8" fill="#ff0000"/>
<rect x="719" y="379" width="1" height="49" fill="#ff0000"/>
<rect x="718" y="383" width="3" height="24" fill="#ff0000"/>
<rect x="723" y="362" width="1" height="29" fill="#ff0000"/>
<rect x="722" y="363" width="3" height="21" fill="#ff0000"/>
<rect x="727" y="347" width="1" height="22" fill="#ff0000"/>
<rect x="726" y="348" width="3" height="18" fill="#ff0000"/>
<rect x="731" y="350" width="1" height="18" fill="#ff0000"/>
<rect x="730" y="360" width="3" height="4" fill="#ff0000"/>
<rect x="735" y="343" width="1" height="35" fill="#00ff00"/>
<rect x="734" y="360" width="3" height="2" fill="#00ff00"/>
<rect x="739" y="350" width="1" height="37" fill="#00ff00"/>
<rect x="738" y="361" width="3" height="9" fill="#00ff00"/>
<rect x="743" y="367" width="1" height="27" fill="#00ff00"/>
<rect x="742" y="368" width="3" height="16" fill="#00ff00"/>
<rect x="747" y="377" width="1" height="24" fill="#00ff00"/>
<rect x="746" y="384" width="3" height="12" fill="#00ff00"/>
<rect x="751" y="395" width="1" height="4" fill="#00ff00"/>
<rect x="750" y="395" width="3" height="2" fill="#00ff00"/>
<rect x="755" y="369" width="1" height="29" fill="#ff0000"/>
<rect x="754" y="372" width="3" height="23" fill="#ff0000"/>
<rect x="759" y="344" width="1" height="35" fill="#ff0000"/>
<rect x="758" y="350" width="3" height="23" fill="#ff0000"/>
<rect x="763" y="337" width="1" height="31" fill="#ff0000"/>
<rect x="762" y="340" width="3" height="11" fill="#ff0000"/>
<rect x="767" y="318" width="1" height="30" fill="#ff0000"/>
<rect x="766" y="320" width="3" height="21" fill="#ff0000"/>
<rect x="771" y="305" width="1" height="17" fill="#ff0000"/>
<rect x="770" y="311" width="3" height="10" fill="#ff0000"/>
<rect x="775" y="309" width="1" height="3" fill="#ff0000"/>
<rect x="774" y="310" width="3" height="2" fill="#ff0000"/>
<rect x="779" y="301" width="1" height="14" fill="#ff0000"/>
<rect x="778" y="302" width="3" height="12" fill="#ff0000"/>
<rect x="783" y="289" width="1" height="15" fill="#ff0000"/>
<rect x="782" y="293" width="3" height="10" fill="#ff0000"/>
<rect x="787" y="286" width="1" height="40" fill="#00ff00"/>
<rect x="786" y="293" width="3" height="23" fill="#00ff00"/>
<rect x="791" y="310" width="1" height="21" fill="#00ff00"/>
<rect x="790" y="316" width="3" height="6" fill="#00ff00"/>
<rect x="795" y="301" width="1" height="29" fill="#ff0000"/>
<rect x="794" y="309" width="3" height="13" fill="#ff0000"/>
<rect x="799" y="305" width="1" height="6" fill="#00ff00"/>
<rect x="798" y="308" width="3" height="2" fill="#00ff00"/>
<rect x="803" y="298" width="1" height="16" fill="#ff0000"/>
<rect x="802" y="300" width="3" height="14" fill="#ff0000"/>
<rect x="807" y="299" width="1" height="35" fill="#00ff00"/>
<rect x="806" y="300" width="3" height="28" fill="#00ff00"/>
<rect x="811" y="309" width="1" height="21" fill="#ff0000"/>
<rect x="810" y="317" width="3" height="12" fill="#ff0000"/>
<rect x="815" y="296" width="1" height="31" fill="#ff0000"/>
<rect x="814" y="300" width="3" height="18" fill="#ff0000"/>
<rect x="819" y="299" width="1" height="14" fill="#00ff00"/>
<rect x="818" y="300" width="3" height="4" fill="#00ff00"/>
<rect x="823" y="301" width="1" height="5" fill="#ff0000"/>
<rect x="822" y="302" width="3" height="2" fill="#ff0000"/>
<rect x="827" y="279" width="1" height="23" fill="#ff0000"/>
<rect x="826" y="282" width="3" height="19" fill="#ff0000"/>
<rect x="831" y="269" width="1" height="21" fill="#ff0000"/>
<rect x="830" y="273" width="3" height="10" fill="#ff0000"/>
<rect x="835" y="261" width="1" height="15" fill="#ff0000"/>
<rect x="834" y="264" width="3" height="10" fill="#ff0000"/>
<rect x="839" y="255" width="1" height="21" fill="#00ff00"/>
<rect x="838" y="264" width="3" height="4" fill="#00ff00"/>
<rect x="843" y="265" width="1" height="28" fill="#00ff00"/>
<rect x="842" y="267" width="3" height="25" fill="#00ff00"/>
<rect x="847" y="291" width="1" height="4" fill="#00ff00"/>
<rect x="846" y="291" width="3" height="4" fill="#00ff00"/>
<rect x="851" y="289" width="1" height="16" fill="#ff0000"/>
<rect x="850" y="294" width="3" height="8" fill="#ff0000"/>
<rect x="855" y="278" width="1" height="18" fill="#ff0000"/>
<rect x="854" y="284" width="3" height="11" fill="#ff0000"/>
<rect x="859" y="282" width="1" height="14" fill="#00ff00"/>
<rect x="858" y="283" width="3" height="12" fill="#00ff00"/>
<rect x="863" y="272" width="1" height="31" fill="#ff0000"/>
<rect x="862" y="273" width="3" height="21" fill="#ff0000"/>
<rect x="867" y="261" width="1" height="17" fill="#ff0000"/>
<rect x="866" y="262" width="3" height="12" fill="#ff0000"/>
<rect x="871" y="262" width="1" height="6" fill="#00ff00"/>
<rect x="870" y="263" width="3" height="4" fill="#00ff00"/>
<rect x="875" y="257" width="1" height="25" fill="#00ff00"/>
<rect x="874" y="266" width="3" height="14" fill="#00ff00"/>
<rect x="879" y="264" width="1" height="26" fill="#ff0000"/>
<rect x="878" y="271" width="3" height="8" fill="#ff0000"/>
<rect x="883" y="266" width="1" height="19" fill="#00ff00"/>
<rect x="882" y="271" width="3" height="11" fill="#00ff00"/>
<rect x="887" y="279" width="1" height="18" fill="#00ff00"/>
<rect x="886" y="280" width="3" height="14" fill="#00ff00"/>
<rect x="891" y="279" width="1" height="18" fill="#00ff00"/>
<rect x="890" y="280" width="3" height="16" fill="#00ff00"/>
<rect x="895" y="293" width="1" height="3" fill="#ff0000"/>
<rect x="894" y="293" width="3" height="3" fill="#ff0000"/>
<rect x="899" y="268" width="1" height="24" fill="#ff0000"/>
<rect x="898" y="269" width="3" height="23" fill="#ff0000"/>
<rect x="903" y="255" width="1" height="19" fill="#ff0000"/>
<rect x="902" y="256" width="3" height="17" fill="#ff0000"/>
<rect x="907" y="244" width="1" height="23" fill="#ff0000"/>
<rect x="906" y="248" width="3" height="9" fill="#ff0000"/>
<rect x="911" y="247" width="1" height="14" fill="#00ff00"/>
<rect x="910" y="248" width="3" height="11" fill="#00ff00"/>
<rect x="915" y="254" width="1" height="18" fill="#00ff00"/>
<rect x="914" y="259" width="3" height="8" fill="#00ff00"/>
<rect x="919" y="263" width="1" height="5" fill="#ff0000"/>
<rect x="918" y="264" width="3" height="3" fill="#ff0000"/>
<rect x="923" y="260" width="1" height="9" fill="#ff0000"/>
<rect x="922" y="261" width="3" height="3" fill="#ff0000"/>
<rect x="927" y="233" width="1" height="31" fill="#ff0000"/>
<rect x="926" y="237" width="3" height="25" fill="#ff0000"/>
<rect x="931" y="228" width="1" height="28" fill="#00ff00"/>
<rect x="930" y="237" width="3" height="14" fill="#00ff00"/>
<rect x="935" y="232" width="1" height="21" fill="#ff0000"/>
<rect x="934" y="232" width="3" height="18" fill="#ff0000"/>
<rect x="939" y="227" width="1" height="17" fill="#00ff00"/>
<rect x="938" y="232" width="3" height="7" fill="#00ff00"/>
<rect x="943" y="233" width="1" height="10" fill="#ff0000"/>
<rect x="942" y="233" width="3" height="5" fill="#ff0000"/>
<rect x="947" y="202" width="1" height="34" fill="#ff0000"/>
<rect x="946" y="203" width="3" height="31" fill="#ff0000"/>
<rect x="951" y="175" width="1" height="31" fill="#ff0000"/>
<rect x="950" y="181" width="3" height="22" fill="#ff0000"/>
<rect x="955" y="154" width="1" height="32" fill="#ff0000"/>
<rect x="954" y="162" width="3" height="20" fill="#ff0000"/>
<rect x="959" y="153" width="1" height="26" fill="#00ff00"/>
<rect x="958" y="162" width="3" height="2" fill="#00ff00"/>
<rect x="963" y="146" width="1" height="22" fill="#ff0000"/>
<rect x="962" y="154" width="3" height="10" fill="#ff0000"/>
<rect x="967" y="153" width="1" height="8" fill="#00ff00"/>
<rect x="966" y="154" width="3" height="5" fill="#00ff00"/>
<rect x="971" y="150" width="1" height="8" fill="#ff0000"/>
<rect x="970" y="152" width="3" height="2" fill="#ff0000"/>
<rect x="975" y="139" width="1" height="37" fill="#00ff00"/>
<rect x="974" y="152" width="3" height="8" fill="#00ff00"/>
<rect x="979" y="145" width="1" height="22" fill="#ff0000"/>
<rect x="978" y="150" width="3" height="10" fill="#ff0000"/>
<rect x="983" y="134" width="1" height="47" fill="#00ff00"/>
<rect x="982" y="150" width="3" height="28" fill="#00ff00"/>
<rect x="987" y="171" width="1" height="29" fill="#00ff00"/>
<rect x="986" y="177" width="3" height="10" fill="#00ff00"/>
<rect x="991" y="185" width="1" height="12" fill="#00ff00"/>
<rect x="990" y="186" width="3" height="3" fill="#00ff00"/>
<rect x="995" y="182" width="1" height="23" fill="#ff0000"/>
<rect x="994" y="186" width="3" height="5" fill="#ff0000"/>
<rect x="999" y="155" width="1" height="36" fill="#ff0000"/>
<rect x="998" y="178" width="3" height="9" fill="#ff0000"/>
<rect x="1003" y="169" width="1" height="18" fill="#ff0000"/>
<rect x="1002" y="175" width="3" height="4" fill="#ff0000"/>
<rect x="1007" y="170" width="1" height="21" fill="#00ff00"/>
<rect x="1006" y="175" width="3" height="13" fill="#00ff00"/>
<rect x="1011" y="171" width="1" height="20" fill="#ff0000"/>
<rect x="1010" y="185" width="3" height="3" fill="#ff0000"/>
<rect x="1015" y="183" width="1" height="9" fill="#00ff00"/>
<rect x="1014" y="185" width="3" height="3" fill="#00ff00"/>
<rect x="1019" y="171" width="1" height="25" fill="#ff0000"/>
<rect x="1018" y="173" width="3" height="21" fill="#ff0000"/>
<rect x="1023" y="156" width="1" height="29" fill="#ff0000"/>
<rect x="1022" y="161" width="3" height="13" fill="#ff0000"/>
<rect x="1027" y="159" width="1" height="25" fill="#00ff00"/>
<rect x="1026" y="161" width="3" height="20" fill="#00ff00"/>
<rect x="1031" y="177" width="1" height="11" fill="#00ff00"/>
<rect x="1030" y="180" width="3" height="4" fill="#00ff00"/>
<rect x="1035" y="176" width="1" height="14" fill="#00ff00"/>
<rect x="1034" y="182" width="3" height="3" fill="#00ff00"/>
<rect x="1039" y="180" width="1" height="8" fill="#ff0000"/>
<rect x="1038" y="183" width="3" height="3" fill="#ff0000"/>
<rect x="1043" y="176" width="1" height="14" fill="#00ff00"/>
<rect x="1042" y="183" width="3" height="2" fill="#00ff00"/>
<rect x="1047" y="171" width="1" height="21" fill="#ff0000"/>
<rect x="1046" y="176" width="3" height="11" fill="#ff0000"/>
<rect x="1051" y="163" width="1" height="18" fill="#ff0000"/>
<rect x="1050" y="170" width="3" height="8" fill="#ff0000"/>
<rect x="1055" y="161" width="1" height="14" fill="#ff0000"/>
<rect x="1054" y="170" width="3" height="1" fill="#ff0000"/>
<rect x="1059" y="164" width="1" height="8" fill="#ff0000"/>
<rect x="1058" y="164" width="3" height="8" fill="#ff0000"/>
<rect x="1063" y="164" width="1" height="2" fill="#ff0000"/>
<rect x="1062" y="164" width="3" height="2" fill="#ff0000"/>
<rect x="1067" y="153" width="1" height="12" fill="#ff0000"/>
<rect x="1066" y="156" width="3" height="8" fill="#ff0000"/>
<rect x="1071" y="150" width="1" height="20" fill="#00ff00"/>
<rect x="1070" y="156" width="3" height="2" fill="#00ff00"/>
<rect x="1075" y="155" width="1" height="14" fill="#00ff00"/>
<rect x="1074" y="157" width="3" height="2" fill="#00ff00"/>
<rect x="1079" y="150" width="1" height="13" fill="#00ff00"/>
<rect x="1078" y="158" width="3" height="3" fill="#00ff00"/>
<rect x="1083" y="157" width="1" height="12" fill="#ff0000"/>
<rect x="1082" y="160" width="3" height="1" fill="#ff0000"/>
<rect x="1087" y="160" width="1" height="7" fill="#00ff00"/>
<rect x="1086" y="161" width="3" height="3" fill="#00ff00"/>
<rect x="1091" y="151" width="1" height="14" fill="#ff0000"/>
<rect x="1090" y="154" width="3" height="6" fill="#ff0000"/>
<rect x="1095" y="153" width="1" height="17" fill="#00ff00"/>
<rect x="1094" y="154" width="3" height="3" fill="#00ff00"/>
<rect x="1099" y="140" width="1" height="20" fill="#ff0000"/>
<rect x="1098" y="148" width="3" height="9" fill="#ff0000"/>
<rect x="1103" y="147" width="1" height="11" fill="#ff0000"/>
<rect x="1102" y="148" width="3" height="2" fill="#ff0000"/>
<rect x="1107" y="147" width="1" height="13" fill="#00ff00"/>
<rect x="1106" y="148" width="3" height="4" fill="#00ff00"/>
<rect x="1111" y="151" width="1" height="2" fill="#ff0000"/>
<rect x="1110" y="151" width="3" height="2" fill="#ff0000"/>
<rect x="1115" y="146" width="1" height="11" fill="#ff0000"/>
<rect x="1114" y="150" width="3" height="1" fill="#ff0000"/>
<rect x="1119" y="121" width="1" height="29" fill="#ff0000"/>
<rect x="1118" y="122" width="3" height="27" fill="#ff0000"/>
<rect x="1123" y="105" width="1" height="18" fill="#ff0000"/>
<rect x="1122" y="114" width="3" height="9" fill="#ff0000"/>
<rect x="1127" y="110" width="1" height="17" fill="#00ff00"/>
<rect x="1126" y="115" width="3" height="1" fill="#00ff00"/>
<rect x="1131" y="116" width="1" height="19" fill="#00ff00"/>
<rect x="1130" y="116" width="3" height="12" fill="#00ff00"/>
<rect x="1135" y="124" width="1" height="7" fill="#ff0000"/>
<rect x="1134" y="126" width="3" height="2" fill="#ff0000"/>
<rect x="1139" y="113" width="1" height="16" fill="#ff0000"/>
<rect x="1138" y="117" width="3" height="9" fill="#ff0000"/>
<rect x="1143" y="106" width="1" height="17" fill="#ff0000"/>
<rect x="1142" y="110" width="3" height="7" fill="#ff0000"/>
<rect x="1147" y="102" width="1" height="12" fill="#ff0000"/>
<rect x="1146" y="109" width="3" height="2" fill="#ff0000"/>
<rect x="1151" y="100" width="1" height="21" fill="#00ff00"/>
<rect x="1150" y="109" width="3" height="7" fill="#00ff00"/>
<rect x="1155" y="94" width="1" height="23" fill="#ff0000"/>
<rect x="1154" y="112" width="3" height="5" fill="#ff0000"/>
<rect x="1159" y="111" width="1" height="7" fill="#00ff00"/>
<rect x="1158" y="112" width="3" height="1" fill="#00ff00"/>
<rect x="1163" y="113" width="1" height="19" fill="#00ff00"/>
<rect x="1162" y="113" width="3" height="9" fill="#00ff00"/>
<rect x="1167" y="111" width="1" height="13" fill="#ff0000"/>
<rect x="1166" y="113" width="3" height="11" fill="#ff0000"/>
<rect x="1171" y="91" width="1" height="24" fill="#ff0000"/>
<rect x="1170" y="97" width="3" height="17" fill="#ff0000"/>
<rect x="1175" y="93" width="1" height="15" fill="#ff0000"/>
<rect x="1174" y="94" width="3" height="4" fill="#ff0000"/>
<rect x="1179" y="90" width="1" height="22" fill="#00ff00"/>
<rect x="1178" y="94" width="3" height="17" fill="#00ff00"/>
<rect x="1183" y="109" width="1" height="6" fill="#00ff00"/>
<rect x="1182" y="110" width="3" height="3" fill="#00ff00"/>
<rect x="1187" y="104" width="1" height="12" fill="#ff0000"/>
<rect x="1186" y="110" width="3" height="3" fill="#ff0000"/>
<rect x="1191" y="103" width="1" height="12" fill="#00ff00"/>
<rect x="1190" y="110" width="3" height="3" fill="#00ff00"/>
<rect x="1195" y="107" width="1" height="17" fill="#ff0000"/>
<rect x="1194" y="109" width="3" height="2" fill="#ff0000"/>
<rect x="1199" y="104" width="1" height="7" fill="#00ff00"/>
<rect x="1198" y="109" width="3" height="2" fill="#00ff00"/>
<rect x="1203" y="107" width="1" height="11" fill="#ff0000"/>
<rect x="1202" y="109" width="3" height="1" fill="#ff0000"/>
<rect x="1207" y="107" width="1" height="2" fill="#ff0000"/>
<rect x="1206" y="107" width="3" height="2" fill="#ff0000"/>
<rect x="1211" y="94" width="1" height="14" fill="#ff0000"/>
<rect x="1210" y="99" width="3" height="8" fill="#ff0000"/>
<rect x="1215" y="85" width="1" height="15" fill="#ff0000"/>
<rect x="1214" y="92" width="3" height="7" fill="#ff0000"/>
<rect x="1219" y="82" width="1" height="13" fill="#00ff00"/>
<rect x="1218" y="92" width="3" height="1" fill="#00ff00"/>
<rect x="1223" y="91" width="1" height="26" fill="#00ff00"/>
<rect x="1222" y="92" width="3" height="14" fill="#00ff00"/>
<rect x="1227" y="97" width="1" height="17" fill="#00ff00"/>
<rect x="1226" y="105" width="3" height="8" fill="#00ff00"/>
<rect x="1231" y="110" width="1" height="6" fill="#ff0000"/>
<rect x="1230" y="110" width="3" height="2" fill="#ff0000"/>
<rect x="1235" y="101" width="1" height="9" fill="#ff0000"/>
<rect x="1234" y="107" width="3" height="2" fill="#ff0000"/>
<rect x="1239" y="103" width="1" height="11" fill="#ff0000"/>
<rect x="1238" y="107" width="3" height="1" fill="#ff0000"/>
<rect x="1243" y="93" width="1" height="15" fill="#ff0000"/>
<rect x="1242" y="95" width="3" height="12" fill="#ff0000"/>
<rect x="1247" y="80" width="1" height="17" fill="#ff0000"/>
<rect x="1246" y="86" width="3" height="10" fill="#ff0000"/>
<rect x="1251" y="62" width="1" height="28" fill="#ff0000"/>
<rect x="1250" y="63" width="3" height="24" fill="#ff0000"/>
<rect x="1255" y="62" width="1" height="5" fill="#ff0000"/>
<rect x="1254" y="62" width="3" height="2" fill="#ff0000"/>
<rect x="1259" y="52" width="1" height="15" fill="#ff0000"/>
<rect x="1258" y="55" width="3" height="6" fill="#ff0000"/>
<rect x="1263" y="48" width="1" height="13" fill="#00ff00"/>
<rect x="1262" y="55" width="3" height="4" fill="#00ff00"/>
<rect x="1267" y="56" width="1" height="6" fill="#ff0000"/>
<rect x="1266" y="57" width="3" height="2" fill="#ff0000"/>
</g>
<path d="M3 201h1v1h-1zM4 202h2v1h-2zM6 203h2v1h-2zM8 204h2v1h-2zM10 205h3v1h-3zM13 206h16v1h-16zM29 205h4v1h-4zM33 204h4v1h-4zM37 203h8v1h-8zM45 202h8v1h-8zM53 201h4v1h-4zM57 200h52v1h-52zM109 201h4v1h-4zM113 200h12v1h-12zM125 199h8v1h-8zM133 200h8v1h-8zM141 201h12v1h-12zM153 202h4v1h-4zM157 203h4v1h-4zM161 204h8v1h-8zM169 205h24v1h-24zM193 204h8v1h-8zM201 203h7v1h-7zM208 202h2v1h-2zM210 201h3v1h-3zM213 200h4v1h-4zM217 199h4v1h-4zM221 198h4v1h-4zM225 197h3v1h-3zM228 196h2v1h-2zM230 195h3v1h-3zM233 194h3v1h-3zM236 193h2v1h-2zM238 192h7v1h-7zM245 191h4v1h-4zM249 190h4v1h-4zM253 189h4v1h-4zM257 188h20v1h-20zM277 187h12v1h-12zM289 188h8v1h-8zM297 189h4v1h-4zM301 190h8v1h-8zM309 191h8v1h-8zM317 192h16v1h-16zM333 193h4v1h-4zM337 194h8v1h-8zM345 195h8v1h-8zM353 196h8v1h-8zM361 195h20v1h-20zM381 194h4v1h-4zM385 193h4v1h-4zM389 192h4v1h-4zM393 191h8v1h-8zM401 190h3v1h-3zM404 189h2v1h-2zM406 188h3v1h-3zM409 187h3v1h-3zM412 186h2v1h-2zM414 185h2v1h-2zM416 184h2v1h-2zM418 183h2v1h-2zM420 182h2v1h-2zM422 181h2v1h-2zM424 180h2v1h-2zM426 179h2v1h-2zM428 178h2v1h-2zM430 177h3v1h-3zM433 176h3v1h-3zM436 175h2v1h-2zM438 174h3v1h-3zM441 173h16v1h-16zM457 172h4v1h-4zM461 171h8v1h-8zM469 170h36v1h-36zM505 171h7v1h-7zM512 172h2v1h-2zM514 173h3v1h-3zM517 174h3v1h-3zM520 175h2v1h-2zM522 176h2v1h-2zM524 177h2v1h-2zM526 178h2v1h-2zM528 179h2v1h-2zM530 180h2v1h-2zM532 181h2v1h-2zM534 182h2v1h-2zM536 183h1v1h-1zM537 184h2v1h-2zM539 185h1v1h-1zM540 186h2v1h-2zM542 187h2v1h-2zM544 188h2v1h-2zM546 189h2v1h-2zM548 190h1v1h-1zM549 191h2v1h-2zM551 192h1v1h-1zM552 193h2v1h-2zM554 194h2v1h-2zM556 195h2v1h-2zM558 196h2v1h-2zM560 197h2v1h-2zM562 198h2v1h-2zM564 199h2v1h-2zM566 200h7v1h-7zM573 201h3v1h-3zM576 202h2v1h-2zM578 203h3v1h-3zM581 204h3v1h-3zM584 205h2v1h-2zM586 206h2v1h-2zM588 207h2v1h-2zM590 208h2v1h-2zM592 209h2v1h-2zM594 210h2v1h-2zM596 211h2v1h-2zM598 212h2v1h-2zM600 213h2v1h-2zM602 214h2v1h-2zM604 215h2v1h-2zM606 216h2v1h-2zM608 217h2v1h-2zM610 218h2v1h-2zM612 219h2v1h-2zM614 220h2v1h-2zM616 221h2v1h-2zM618 222h2v1h-2zM620 223h1v1h-1zM621 224h2v1h-2zM623 225h1v1h-1zM624 226h1v1h-1zM625 227h2v1h-2zM627 228h1v1h-1zM628 229h2v1h-2zM630 230h2v1h-2zM632 231h2v1h-2zM634 232h3v1h-3zM637 233h4v1h-4zM641 234h4v1h-4zM645 235h8v1h-8zM653 236h7v1h-7zM660 237h2v1h-2zM662 238h2v1h-2zM664 239h2v1h-2zM666 240h2v1h-2zM668 241h1v1h-1zM669 242h1v1h-1zM670 243h1v1h-1zM671 244h1v1h-1zM672 245h1v1h-1zM673 246h1v1h-1zM674 247h1v1h-1zM675 248h1v1h-1zM676 249h1v1h-1zM677 250h1v2h-1zM678 252h1v1h-1zM679 253h1v1h-1zM680 254h1v1h-1zM681 255h1v1h-1zM682 256h1v1h-1zM683 257h1v1h-1zM684 258h1v2h-1zM685 260h1v1h-1zM686 261h1v2h-1zM687 263h1v1h-1zM688 264h1v2h-1zM689 266h1v2h-1zM690 268h1v2h-1zM691 270h1v2h-1zM692 272h1v2h-1zM693 274h1v2h-1zM694 276h1v2h-1zM695 278h1v1h-1zM696 279h1v2h-1zM697 281h1v2h-1zM698 283h1v2h-1zM699 285h1v1h-1zM700 286h1v2h-1zM701 288h1v2h-1zM702 290h1v2h-1zM703 292h1v2h-1zM704 294h1v2h-1zM705 296h1v2h-1zM706 298h1v2h-1zM707 300h1v2h-1zM708 302h1v2h-1zM709 304h1v1h-1zM710 305h1v2h-1zM711 307h1v1h-1zM712 308h1v2h-1zM713 310h1v1h-1zM714 311h1v2h-1zM715 313h1v1h-1zM716 314h1v1h-1zM717 315h1v1h-1zM718 316h1v1h-1zM719 317h1v1h-1zM720 318h1v1h-1zM721 319h1v2h-1zM722 321h1v1h-1zM723 322h1v1h-1zM724 323h1v1h-1zM725 324h2v1h-2zM727 325h1v1h-1zM728 326h1v1h-1zM729 327h1v1h-1zM730 328h1v1h-1zM731 329h1v1h-1zM732 330h1v1h-1zM733 331h1v1h-1zM734 332h1v1h-1zM735 333h1v1h-1zM736 334h1v1h-1zM737 335h2v1h-2zM739 336h1v1h-1zM740 337h1v1h-1zM741 338h1v2h-1zM742 340h1v1h-1zM743 341h1v1h-1zM744 342h1v1h-1zM745 343h2v1h-2zM747 344h1v1h-1zM748 345h1v1h-1zM749 346h1v2h-1zM750 348h1v1h-1zM751 349h1v1h-1zM752 350h1v1h-1zM753 351h2v1h-2zM755 352h1v1h-1zM756 353h1v1h-1zM757 354h1v1h-1zM758 355h1v1h-1zM759 356h1v1h-1zM760 357h1v1h-1zM761 358h2v1h-2zM763 359h1v1h-1zM764 360h2v1h-2zM766 361h2v1h-2zM768 362h1v1h-1zM769 363h2v1h-2zM771 364h1v1h-1zM772 365h2v1h-2zM774 366h2v1h-2zM776 367h2v1h-2zM778 368h3v1h-3zM781 369h4v1h-4zM785 370h8v1h-8zM793 369h3v1h-3zM796 368h2v1h-2zM798 367h2v1h-2zM800 366h2v1h-2zM802 365h2v1h-2zM804 364h1v1h-1zM805 363h2v1h-2zM807 362h1v1h-1zM808 361h1v1h-1zM809 360h1v1h-1zM810 359h1v1h-1zM811 358h1v1h-1zM812 357h1v1h-1zM813 356h1v1h-1zM814 355h1v1h-1zM815 354h1v1h-1zM816 353h1v1h-1zM817 351h1v2h-1zM818 350h1v1h-1zM819 349h1v1h-1zM820 348h1v1h-1zM821 347h1v1h-1zM822 346h1v1h-1zM823 345h1v1h-1zM824 343h1v2h-1zM825 342h1v1h-1zM826 340h1v2h-1zM827 339h1v1h-1zM828 338h1v1h-1zM829 336h1v2h-1zM830 335h1v1h-1zM831 334h1v1h-1zM832 333h1v1h-1zM833 331h1v2h-1zM834 330h1v1h-1zM835 329h1v1h-1zM836 328h1v1h-1zM837 327h2v1h-2zM839 326h1v1h-1zM840 325h1v1h-1zM841 324h2v1h-2zM843 323h1v1h-1zM844 322h2v1h-2zM846 321h2v1h-2zM848 320h2v1h-2zM850 319h2v1h-2zM852 318h2v1h-2zM854 317h2v1h-2zM856 316h1v1h-1zM857 315h2v1h-2zM859 314h1v1h-1zM860 313h1v1h-1zM861 312h1v1h-1zM862 311h1v1h-1zM863 310h1v1h-1zM864 309h1v1h-1zM865 308h1v1h-1zM866 307h1v1h-1zM867 306h1v1h-1zM868 305h1v1h-1zM869 304h1v1h-1zM870 303h1v1h-1zM871 302h1v1h-1zM872 301h1v1h-1zM873 300h2v1h-2zM875 299h1v1h-1zM876 298h1v1h-1zM877 297h2v1h-2zM879 296h1v1h-1zM880 295h2v1h-2zM882 294h3v1h-3zM885 293h8v1h-8zM893 292h4v1h-4zM897 291h4v1h-4zM901 290h3v1h-3zM904 289h1v1h-1zM905 288h2v1h-2zM907 287h1v1h-1zM908 286h2v1h-2zM910 285h3v1h-3zM913 284h3v1h-3zM916 283h2v1h-2zM918 282h3v1h-3zM921 281h3v1h-3zM924 280h1v1h-1zM925 279h2v1h-2zM927 278h1v1h-1zM928 277h2v1h-2zM930 276h2v1h-2zM932 275h2v1h-2zM934 274h2v1h-2zM936 273h2v1h-2zM938 272h2v1h-2zM940 271h1v1h-1zM941 270h2v1h-2zM943 269h1v1h-1zM944 268h2v1h-2zM946 267h2v1h-2zM948 266h1v1h-1zM949 265h2v1h-2zM951 264h1v1h-1zM952 263h1v1h-1zM953 262h1v1h-1zM954 261h1v1h-1zM955 260h1v1h-1zM956 259h1v1h-1zM957 258h2v1h-2zM959 257h1v1h-1zM960 256h1v1h-1zM961 254h1v2h-1zM962 253h1v1h-1zM963 252h1v1h-1zM964 251h1v1h-1zM965 250h1v1h-1zM966 249h1v1h-1zM967 248h1v1h-1zM968 247h1v1h-1zM969 245h1v2h-1zM970 244h1v1h-1zM971 243h1v1h-1zM972 242h1v1h-1zM973 241h1v1h-1zM974 240h1v1h-1zM975 239h1v1h-1zM976 238h1v1h-1zM977 236h1v2h-1zM978 235h1v1h-1zM979 234h1v1h-1zM980 233h1v1h-1zM981 232h2v1h-2zM983 231h1v1h-1zM984 230h1v1h-1zM985 229h2v1h-2zM987 228h1v1h-1zM988 227h2v1h-2zM990 226h2v1h-2zM992 225h1v1h-1zM993 224h1v1h-1zM994 223h1v1h-1zM995 222h1v1h-1zM996 221h1v1h-1zM997 220h2v1h-2zM999 219h1v1h-1zM1000 218h1v1h-1zM1001 217h2v1h-2zM1003 216h1v1h-1zM1004 215h1v1h-1zM1005 214h1v1h-1zM1006 213h1v1h-1zM1007 212h1v1h-1zM1008 211h1v1h-1zM1009 210h2v1h-2zM1011 209h1v1h-1zM1012 208h1v1h-1zM1013 207h1v1h-1zM1014 206h1v1h-1zM1015 205h1v1h-1zM1016 204h1v1h-1zM1017 203h2v1h-2zM1019 202h1v1h-1zM1020 201h1v1h-1zM1021 200h2v1h-2zM1023 199h1v1h-1zM1024 198h1v1h-1zM1025 197h2v1h-2zM1027 196h1v1h-1zM1028 195h2v1h-2zM1030 194h2v1h-2zM1032 193h1v1h-1zM1033 192h2v1h-2zM1035 191h1v1h-1zM1036 190h2v1h-2zM1038 189h2v1h-2zM1040 188h1v1h-1zM1041 187h2v1h-2zM1043 186h1v1h-1zM1044 185h2v1h-2zM1046 184h2v1h-2zM1048 183h1v1h-1zM1049 182h2v1h-2zM1051 181h1v1h-1zM1052 180h2v1h-2zM1054 179h2v1h-2zM1056 178h2v1h-2zM1058 177h2v1h-2zM1060 176h1v1h-1zM1061 175h2v1h-2zM1063 174h2v1h-2zM1065 173h4v1h-4zM1069 172h32v1h-32zM1101 171h4v1h-4zM1105 170h4v1h-4zM1109 169h3v1h-3zM1112 168h2v1h-2zM1114 167h3v1h-3zM1117 166h3v1h-3zM1120 165h2v1h-2zM1122 164h2v1h-2zM1124 163h1v1h-1zM1125 162h2v1h-2zM1127 161h1v1h-1zM1128 160h2v1h-2zM1130 159h2v1h-2zM1132 158h2v1h-2zM1134 157h2v1h-2zM1136 156h2v1h-2zM1138 155h3v1h-3zM1141 154h3v1h-3zM1144 153h1v1h-1zM1145 152h2v1h-2zM1147 151h1v1h-1zM1148 150h2v1h-2zM1150 149h2v1h-2zM1152 148h2v1h-2zM1154 147h2v1h-2zM1156 146h1v1h-1zM1157 145h2v1h-2zM1159 144h1v1h-1zM1160 143h2v1h-2zM1162 142h2v1h-2zM1164 141h2v1h-2zM1166 140h2v1h-2zM1168 139h2v1h-2zM1170 138h2v1h-2zM1172 137h1v1h-1zM1173 136h2v1h-2zM1175 135h1v1h-1zM1176 134h2v1h-2zM1178 133h3v1h-3zM1181 132h3v1h-3zM1184 131h2v1h-2zM1186 130h3v1h-3zM1189 129h3v1h-3zM1192 128h2v1h-2zM1194 127h2v1h-2zM1196 126h2v1h-2zM1198 125h3v1h-3zM1201 124h3v1h-3zM1204 123h2v1h-2zM1206 122h2v1h-2zM1208 121h2v1h-2zM1210 120h2v1h-2zM1212 119h2v1h-2zM1214 118h2v1h-2zM1216 117h2v1h-2zM1218 116h2v1h-2zM1220 115h2v1h-2zM1222 114h3v1h-3zM1225 113h4v1h-4zM1229 112h3v1h-3zM1232 111h2v1h-2zM1234 110h7v1h-7zM1241 109h4v1h-4zM1245 108h3v1h-3zM1248 107h2v1h-2zM1250 106h2v1h-2zM1252 105h2v1h-2zM1254 104h2v1h-2zM1256 103h2v1h-2zM1258 102h2v1h-2zM1260 101h2v1h-2zM1262 100h2v1h-2zM1264 99h2v1h-2zM1266 98h2v1h-2z" fill="#0000cd"/>
<path d="M3 209h6v1h-6zM9 210h12v1h-12zM21 209h4v1h-4zM25 208h4v1h-4zM29 207h3v1h-3zM32 206h2v1h-2zM34 205h2v1h-2zM36 204h2v1h-2zM38 203h2v1h-2zM40 202h2v1h-2zM42 201h3v1h-3zM45 200h3v1h-3zM48 199h1v1h-1zM49 198h2v1h-2zM51 197h1v1h-1zM52 196h1v1h-1zM53 195h2v1h-2zM55 194h1v1h-1zM56 193h2v1h-2zM58 192h2v1h-2zM60 191h1v1h-1zM61 190h2v1h-2zM63 189h1v1h-1zM64 188h2v1h-2zM66 187h3v1h-3zM69 186h4v1h-4zM73 187h4v1h-4zM77 188h4v1h-4zM81 189h4v1h-4zM85 190h3v1h-3zM88 191h1v1h-1zM89 192h2v1h-2zM91 193h2v1h-2zM93 194h3v1h-3zM96 195h2v1h-2zM98 196h2v1h-2zM100 197h2v1h-2zM102 198h2v1h-2zM104 199h1v1h-1zM105 200h2v1h-2zM107 201h1v1h-1zM108 202h1v1h-1zM109 203h2v1h-2zM111 204h1v1h-1zM112 205h1v1h-1zM113 206h2v1h-2zM115 207h1v1h-1zM116 208h2v1h-2zM118 209h3v1h-3zM121 210h8v1h-8zM129 211h4v1h-4zM133 212h8v1h-8zM141 213h4v1h-4zM145 212h4v1h-4zM149 211h15v1h-15zM164 210h2v1h-2zM166 209h2v1h-2zM168 208h1v1h-1zM169 207h2v1h-2zM171 206h1v1h-1zM172 205h2v1h-2zM174 204h2v1h-2zM176 203h2v1h-2zM178 202h3v1h-3zM181 201h3v1h-3zM184 200h2v1h-2zM186 199h2v1h-2zM188 198h2v1h-2zM190 197h2v1h-2zM192 196h2v1h-2zM194 195h3v1h-3zM197 194h8v1h-8zM205 193h3v1h-3zM208 192h2v1h-2zM210 191h2v1h-2zM212 190h2v1h-2zM214 189h2v1h-2zM216 188h1v1h-1zM217 187h2v1h-2zM219 186h1v1h-1zM220 185h2v1h-2zM222 184h7v1h-7zM229 183h8v1h-8zM237 182h8v1h-8zM245 181h16v1h-16zM261 182h4v1h-4zM265 183h3v1h-3zM268 184h2v1h-2zM270 185h3v1h-3zM273 186h3v1h-3zM276 187h2v1h-2zM278 188h2v1h-2zM280 189h2v1h-2zM282 190h3v1h-3zM285 191h3v1h-3zM288 192h2v1h-2zM290 193h2v1h-2zM292 194h2v1h-2zM294 195h2v1h-2zM296 196h2v1h-2zM298 197h3v1h-3zM301 198h4v1h-4zM305 199h4v1h-4zM309 200h3v1h-3zM312 201h2v1h-2zM314 202h11v1h-11zM325 201h12v1h-12zM337 200h8v1h-8zM345 199h4v1h-4zM349 198h4v1h-4zM353 197h3v1h-3zM356 196h2v1h-2zM358 195h2v1h-2zM360 194h2v1h-2zM362 193h2v1h-2zM364 192h2v1h-2zM366 191h2v1h-2zM368 190h2v1h-2zM370 189h2v1h-2zM372 188h2v1h-2zM374 187h3v1h-3zM377 186h8v1h-8zM385 185h4v1h-4zM389 184h3v1h-3zM392 183h2v1h-2zM394 182h2v1h-2zM396 181h2v1h-2zM398 180h3v1h-3zM401 179h3v1h-3zM404 178h1v1h-1zM405 177h2v1h-2zM407 176h1v1h-1zM408 175h2v1h-2zM410 174h3v1h-3zM413 173h3v1h-3zM416 172h2v1h-2zM418 171h2v1h-2zM420 170h1v1h-1zM421 169h2v1h-2zM423 168h1v1h-1zM424 167h2v1h-2zM426 166h2v1h-2zM428 165h1v1h-1zM429 164h2v1h-2zM431 163h1v1h-1zM432 162h2v1h-2zM434 161h3v1h-3zM437 160h4v1h-4zM441 159h4v1h-4zM445 160h4v1h-4zM449 161h4v1h-4zM453 162h4v1h-4zM457 163h7v1h-7zM464 164h2v1h-2zM466 165h3v1h-3zM469 166h4v1h-4zM473 167h3v1h-3zM476 168h1v1h-1zM477 169h2v1h-2zM479 170h1v1h-1zM480 171h2v1h-2zM482 172h2v1h-2zM484 173h1v1h-1zM485 174h2v1h-2zM487 175h2v1h-2zM489 176h3v1h-3zM492 177h2v1h-2zM494 178h2v1h-2zM496 179h2v1h-2zM498 180h11v1h-11zM509 181h3v1h-3zM512 182h1v1h-1zM513 183h2v1h-2zM515 184h1v1h-1zM516 185h2v1h-2zM518 186h2v1h-2zM520 187h1v1h-1zM521 188h2v1h-2zM523 189h1v1h-1zM524 190h1v1h-1zM525 191h1v1h-1zM526 192h1v1h-1zM527 193h1v1h-1zM528 194h1v1h-1zM529 195h1v1h-1zM530 196h1v1h-1zM531 197h1v1h-1zM532 198h1v1h-1zM533 199h2v1h-2zM535 200h1v1h-1zM536 201h1v1h-1zM537 202h2v1h-2zM539 203h1v1h-1zM540 204h1v1h-1zM541 205h2v1h-2zM543 206h1v1h-1zM544 207h2v1h-2zM546 208h2v1h-2zM548 209h2v1h-2zM550 210h2v1h-2zM552 211h1v1h-1zM553 212h2v1h-2zM555 213h1v1h-1zM556 214h1v1h-1zM557 215h2v1h-2zM559 216h1v1h-1zM560 217h2v1h-2zM562 218h2v1h-2zM564 219h2v1h-2zM566 220h11v1h-11zM577 221h8v1h-8zM585 220h8v1h-8zM593 221h4v1h-4zM597 222h3v1h-3zM600 223h2v1h-2zM602 224h2v1h-2zM604 225h2v1h-2zM606 226h3v1h-3zM609 227h3v1h-3zM612 228h2v1h-2zM614 229h2v1h-2zM616 230h2v1h-2zM618 231h2v1h-2zM620 232h1v1h-1zM621 233h2v1h-2zM623 234h1v1h-1zM624 235h1v1h-1zM625 236h1v2h-1zM626 238h1v1h-1zM627 239h1v1h-1zM628 240h1v1h-1zM629 241h2v1h-2zM631 242h1v1h-1zM632 243h1v1h-1zM633 244h1v1h-1zM634 245h1v1h-1zM635 246h2v1h-2zM637 247h3v1h-3zM640 248h2v1h-2zM642 249h2v1h-2zM644 250h2v1h-2zM646 251h3v1h-3zM649 252h4v1h-4zM653 251h7v1h-7zM660 252h1v1h-1zM661 253h2v1h-2zM663 254h1v1h-1zM664 255h2v1h-2zM666 256h2v1h-2zM668 257h1v1h-1zM669 258h1v2h-1zM670 260h1v1h-1zM671 261h1v1h-1zM672 262h1v2h-1zM673 264h1v2h-1zM674 266h1v2h-1zM675 268h1v1h-1zM676 269h1v2h-1zM677 271h1v2h-1zM678 273h1v2h-1zM679 275h1v2h-1zM680 277h1v1h-1zM681 278h1v2h-1zM682 280h1v1h-1zM683 281h1v2h-1zM684 283h1v2h-1zM685 285h1v3h-1zM686 288h1v2h-1zM687 290h1v3h-1zM688 293h1v3h-1zM689 296h1v3h-1zM690 299h1v3h-1zM691 302h1v3h-1zM692 305h1v4h-1zM693 309h1v3h-1zM694 312h1v4h-1zM695 316h1v3h-1zM696 319h1v4h-1zM697 323h1v3h-1zM698 326h1v4h-1zM699 330h1v3h-1zM700 333h1v4h-1zM701 337h1v3h-1zM702 340h1v4h-1zM703 344h1v3h-1zM704 347h1v4h-1zM705 351h1v4h-1zM706 355h1v4h-1zM707 359h1v3h-1zM708 362h1v3h-1zM709 365h1v3h-1zM710 368h1v3h-1zM711 371h1v3h-1zM712 374h1v3h-1zM713 377h1v4h-1zM714 381h1v3h-1zM715 384h1v2h-1zM716 386h1v2h-1zM717 388h1v2h-1zM718 390h1v2h-1zM719 392h1v1h-1zM720 393h1v2h-1zM721 395h1v2h-1zM722 397h1v2h-1zM723 399h2v1h-2zM725 400h8v1h-8zM733 401h8v1h-8zM741 400h3v1h-3zM744 399h1v1h-1zM745 398h2v1h-2zM747 397h1v1h-1zM748 396h1v1h-1zM749 395h2v1h-2zM751 394h1v1h-1zM752 393h1v1h-1zM753 392h1v1h-1zM754 391h1v1h-1zM755 390h1v1h-1zM756 388h1v2h-1zM757 386h1v2h-1zM758 384h1v2h-1zM759 383h1v1h-1zM760 381h1v2h-1zM761 379h1v2h-1zM762 377h1v2h-1zM763 375h1v2h-1zM764 373h1v2h-1zM765 371h1v2h-1zM766 369h1v2h-1zM767 368h1v1h-1zM768 366h1v2h-1zM769 364h1v2h-1zM770 362h1v2h-1zM771 361h1v1h-1zM772 360h1v1h-1zM773 358h1v2h-1zM774 357h1v1h-1zM775 356h1v1h-1zM776 355h1v1h-1zM777 353h1v2h-1zM778 352h1v1h-1zM779 351h1v1h-1zM780 350h1v1h-1zM781 349h1v1h-1zM782 348h1v1h-1zM783 347h1v1h-1zM784 346h1v1h-1zM785 345h2v1h-2zM787 344h1v1h-1zM788 343h1v1h-1zM789 342h2v1h-2zM791 341h1v1h-1zM792 340h1v1h-1zM793 339h1v1h-1zM794 338h1v1h-1zM795 337h1v1h-1zM796 336h1v1h-1zM797 334h1v2h-1zM798 333h1v1h-1zM799 332h1v1h-1zM800 330h1v2h-1zM801 328h1v2h-1zM802 326h1v2h-1zM803 325h1v1h-1zM804 324h1v1h-1zM805 322h1v2h-1zM806 321h1v1h-1zM807 320h1v1h-1zM808 319h1v1h-1zM809 318h1v1h-1zM810 317h1v1h-1zM811 316h1v1h-1zM812 315h1v1h-1zM813 314h1v1h-1zM814 313h1v1h-1zM815 312h1v1h-1zM816 311h2v1h-2zM818 310h3v1h-3zM821 309h3v1h-3zM824 308h1v1h-1zM825 307h2v1h-2zM827 306h1v1h-1zM828 305h2v1h-2zM830 304h2v1h-2zM832 303h1v1h-1zM833 302h2v1h-2zM835 301h1v1h-1zM836 300h2v1h-2zM838 299h3v1h-3zM841 298h3v1h-3zM844 297h2v1h-2zM846 296h3v1h-3zM849 295h3v1h-3zM852 294h2v1h-2zM854 293h6v1h-6zM860 292h1v1h-1zM861 291h1v1h-1zM862 290h1v1h-1zM863 289h1v1h-1zM864 288h1v1h-1zM865 287h1v1h-1zM866 286h1v1h-1zM867 285h1v1h-1zM868 284h1v1h-1zM869 283h2v1h-2zM871 282h2v1h-2zM873 281h3v1h-3zM876 280h1v1h-1zM877 279h2v1h-2zM879 278h5v1h-5zM884 279h2v1h-2zM886 280h2v1h-2zM888 281h2v1h-2zM890 282h2v1h-2zM892 283h2v1h-2zM894 284h2v1h-2zM896 283h2v1h-2zM898 282h2v1h-2zM900 281h1v1h-1zM901 280h2v1h-2zM903 279h1v1h-1zM904 278h1v1h-1zM905 277h2v1h-2zM907 276h1v1h-1zM908 275h2v1h-2zM910 274h2v1h-2zM912 273h2v1h-2zM914 272h10v1h-10zM924 271h2v1h-2zM926 270h2v1h-2zM928 269h2v1h-2zM930 268h2v1h-2zM932 267h1v1h-1zM933 266h2v1h-2zM935 265h1v1h-1zM936 264h1v1h-1zM937 263h2v1h-2zM939 262h1v1h-1zM940 261h1v1h-1zM941 259h1v2h-1zM942 258h1v1h-1zM943 257h1v1h-1zM944 255h1v2h-1zM945 254h1v1h-1zM946 252h1v2h-1zM947 251h1v1h-1zM948 249h1v2h-1zM949 247h1v2h-1zM950 245h1v2h-1zM951 243h1v2h-1zM952 241h1v2h-1zM953 239h1v2h-1zM954 237h1v2h-1zM955 235h1v2h-1zM956 233h1v2h-1zM957 232h1v1h-1zM958 230h1v2h-1zM959 229h1v1h-1zM960 227h1v2h-1zM961 225h1v2h-1zM962 223h1v2h-1zM963 222h1v1h-1zM964 220h1v2h-1zM965 218h1v2h-1zM966 216h1v2h-1zM967 215h1v1h-1zM968 213h1v2h-1zM969 211h1v2h-1zM970 209h1v2h-1zM971 207h1v2h-1zM972 205h1v2h-1zM973 203h1v2h-1zM974 201h1v2h-1zM975 199h1v2h-1zM976 197h1v2h-1zM977 195h1v2h-1zM978 193h1v2h-1zM979 191h1v2h-1zM980 190h1v1h-1zM981 189h1v1h-1zM982 188h1v1h-1zM983 187h1v1h-1zM984 186h1v1h-1zM985 184h1v2h-1zM986 183h1v1h-1zM987 182h1v1h-1zM988 181h1v1h-1zM989 180h2v1h-2zM991 179h1v1h-1zM992 178h1v1h-1zM993 177h1v1h-1zM994 176h1v1h-1zM995 175h1v1h-1zM996 174h1v1h-1zM997 173h1v1h-1zM998 172h1v1h-1zM999 171h2v1h-2zM1001 170h7v1h-7zM1008 171h2v1h-2zM1010 172h3v1h-3zM1013 173h3v1h-3zM1016 174h2v1h-2zM1018 175h6v1h-6zM1024 176h2v1h-2zM1026 177h2v1h-2zM1028 178h2v1h-2zM1030 179h2v1h-2zM1032 180h2v1h-2zM1034 181h3v1h-3zM1037 182h4v1h-4zM1041 181h4v1h-4zM1045 180h4v1h-4zM1049 179h8v1h-8zM1057 178h3v1h-3zM1060 177h2v1h-2zM1062 176h2v1h-2zM1064 175h2v1h-2zM1066 174h2v1h-2zM1068 173h2v1h-2zM1070 172h3v1h-3zM1073 171h7v1h-7zM1080 170h2v1h-2zM1082 169h3v1h-3zM1085 168h3v1h-3zM1088 167h2v1h-2zM1090 166h2v1h-2zM1092 165h2v1h-2zM1094 164h2v1h-2zM1096 163h1v1h-1zM1097 162h2v1h-2zM1099 161h1v1h-1zM1100 160h2v1h-2zM1102 159h3v1h-3zM1105 158h4v1h-4zM1109 157h4v1h-4zM1113 156h3v1h-3zM1116 155h1v1h-1zM1117 154h2v1h-2zM1119 153h1v1h-1zM1120 152h1v1h-1zM1121 151h2v1h-2zM1123 150h1v1h-1zM1124 149h1v1h-1zM1125 148h2v1h-2zM1127 147h1v1h-1zM1128 146h2v1h-2zM1130 145h2v1h-2zM1132 144h1v1h-1zM1133 143h2v1h-2zM1135 142h1v1h-1zM1136 141h1v1h-1zM1137 140h2v1h-2zM1139 139h1v1h-1zM1140 138h1v1h-1zM1141 137h1v1h-1zM1142 136h1v1h-1zM1143 135h1v1h-1zM1144 134h1v1h-1zM1145 133h2v1h-2zM1147 132h1v1h-1zM1148 131h1v1h-1zM1149 130h2v1h-2zM1151 129h1v1h-1zM1152 128h1v1h-1zM1153 127h2v1h-2zM1155 126h1v1h-1zM1156 125h2v1h-2zM1158 124h2v1h-2zM1160 123h2v1h-2zM1162 122h2v1h-2zM1164 121h1v1h-1zM1165 120h2v1h-2zM1167 119h1v1h-1zM1168 118h1v1h-1zM1169 117h1v1h-1zM1170 116h1v1h-1zM1171 115h1v1h-1zM1172 114h2v1h-2zM1174 113h11v1h-11zM1185 112h4v1h-4zM1189 111h4v1h-4zM1193 110h16v1h-16zM1209 109h3v1h-3zM1212 108h2v1h-2zM1214 107h2v1h-2zM1216 106h2v1h-2zM1218 105h3v1h-3zM1221 104h3v1h-3zM1224 105h2v1h-2zM1226 106h3v1h-3zM1229 107h4v1h-4zM1233 106h8v1h-8zM1241 105h3v1h-3zM1244 104h2v1h-2zM1246 103h2v1h-2zM1248 102h1v1h-1zM1249 101h2v1h-2zM1251 100h1v1h-1zM1252 99h1v1h-1zM1253 98h1v1h-1zM1254 97h1v1h-1zM1255 96h1v1h-1zM1256 95h1v1h-1zM1257 94h1v1h-1zM1258 93h1v1h-1zM1259 92h1v1h-1zM1260 91h1v1h-1zM1261 90h2v1h-2zM1263 89h1v1h-1zM1264 88h1v1h-1zM1265 87h2v1h-2zM1267 86h1v1h-1z" fill="#ff0000"/>
<path d="M3 211h1v1h-1zM4 212h1v1h-1zM5 213h2v1h-2zM7 214h1v1h-1zM8 215h2v1h-2zM10 216h2v1h-2zM12 215h2v1h-2zM14 214h3v1h-3zM17 213h3v1h-3zM20 212h1v1h-1zM21 210h1v2h-1zM22 209h1v1h-1zM23 208h1v1h-1zM24 206h1v2h-1zM25 204h1v2h-1zM26 202h1v2h-1zM27 201h1v1h-1zM28 199h1v2h-1zM29 198h1v1h-1zM30 196h1v2h-1zM31 195h1v1h-1zM32 193h1v2h-1zM33 192h1v1h-1zM34 190h1v2h-1zM35 189h1v1h-1zM36 188h1v1h-1zM37 187h2v1h-2zM39 186h1v1h-1zM40 185h2v1h-2zM42 184h6v1h-6zM48 183h1v1h-1zM49 182h2v1h-2zM51 181h10v1h-10zM61 182h4v1h-4zM65 183h3v1h-3zM68 184h1v1h-1zM69 185h1v1h-1zM70 186h1v1h-1zM71 187h1v1h-1zM72 188h1v2h-1zM73 190h1v1h-1zM74 191h1v2h-1zM75 193h1v1h-1zM76 194h1v1h-1zM77 195h1v2h-1zM78 197h1v1h-1zM79 198h1v1h-1zM80 199h1v1h-1zM81 200h1v1h-1zM82 201h1v1h-1zM83 202h1v1h-1zM84 203h2v1h-2zM86 204h2v1h-2zM88 205h2v1h-2zM90 206h3v1h-3zM93 207h8v1h-8zM101 208h3v1h-3zM104 209h2v1h-2zM106 210h2v1h-2zM108 211h1v1h-1zM109 212h2v1h-2zM111 213h1v1h-1zM112 214h1v1h-1zM113 215h2v1h-2zM115 216h10v1h-10zM125 215h3v1h-3zM128 214h2v1h-2zM130 213h2v1h-2zM132 212h2v1h-2zM134 211h3v1h-3zM137 212h7v1h-7zM144 211h2v1h-2zM146 210h2v1h-2zM148 209h2v1h-2zM150 208h2v1h-2zM152 207h1v1h-1zM153 206h2v1h-2zM155 205h2v1h-2zM157 204h4v1h-4zM161 205h3v1h-3zM164 204h2v1h-2zM166 203h2v1h-2zM168 202h2v1h-2zM170 201h2v1h-2zM172 200h1v1h-1zM173 199h1v1h-1zM174 198h1v1h-1zM175 197h1v1h-1zM176 196h1v1h-1zM177 194h1v2h-1zM178 193h1v1h-1zM179 192h1v1h-1zM180 190h1v2h-1zM181 189h1v1h-1zM182 187h1v2h-1zM183 186h2v1h-2zM185 185h3v1h-3zM188 186h2v1h-2zM190 187h3v1h-3zM193 188h3v1h-3zM196 189h2v1h-2zM198 190h2v1h-2zM200 191h2v1h-2zM202 192h3v1h-3zM205 191h3v1h-3zM208 190h1v1h-1zM209 189h2v1h-2zM211 188h1v1h-1zM212 187h1v1h-1zM213 186h2v1h-2zM215 185h1v1h-1zM216 184h1v1h-1zM217 183h1v1h-1zM218 182h1v1h-1zM219 181h1v1h-1zM220 180h1v1h-1zM221 179h1v1h-1zM222 178h1v1h-1zM223 177h1v1h-1zM224 176h2v1h-2zM226 175h3v1h-3zM229 174h4v1h-4zM233 175h4v1h-4zM237 176h3v1h-3zM240 177h2v1h-2zM242 178h2v1h-2zM244 179h1v1h-1zM245 180h2v1h-2zM247 181h1v1h-1zM248 182h2v1h-2zM250 183h2v1h-2zM252 184h2v1h-2zM254 185h2v1h-2zM256 186h1v1h-1zM257 187h2v1h-2zM259 188h1v1h-1zM260 189h1v1h-1zM261 190h1v1h-1zM262 191h1v1h-1zM263 192h1v1h-1zM264 193h2v1h-2zM266 194h2v1h-2zM268 195h2v1h-2zM270 196h3v1h-3zM273 197h7v1h-7zM280 196h2v1h-2zM282 195h3v1h-3zM285 196h3v1h-3zM288 197h2v1h-2zM290 198h2v1h-2zM292 199h2v1h-2zM294 200h2v1h-2zM296 201h1v1h-1zM297 202h2v1h-2zM299 203h2v1h-2zM301 204h4v1h-4zM305 205h8v1h-8zM313 206h4v1h-4zM317 207h3v1h-3zM320 206h2v1h-2zM322 205h2v1h-2zM324 204h1v1h-1zM325 203h2v1h-2zM327 202h1v1h-1zM328 201h1v1h-1zM329 200h1v1h-1zM330 199h1v1h-1zM331 198h1v1h-1zM332 197h1v1h-1zM333 196h2v1h-2zM335 195h1v1h-1zM336 194h1v1h-1zM337 193h1v1h-1zM338 192h1v1h-1zM339 191h2v1h-2zM341 190h4v1h-4zM345 191h3v1h-3zM348 192h2v1h-2zM350 193h3v1h-3zM353 192h3v1h-3zM356 191h1v1h-1zM357 190h1v1h-1zM358 189h1v1h-1zM359 188h1v1h-1zM360 187h2v1h-2zM362 186h2v1h-2zM364 185h2v1h-2zM366 184h2v1h-2zM368 183h1v1h-1zM369 182h1v1h-1zM370 181h1v1h-1zM371 180h5v1h-5zM376 181h2v1h-2zM378 182h6v1h-6zM384 181h2v1h-2zM386 180h6v1h-6zM392 179h1v1h-1zM393 178h2v1h-2zM395 177h1v1h-1zM396 176h1v1h-1zM397 175h1v1h-1zM398 174h1v1h-1zM399 173h1v1h-1zM400 172h2v1h-2zM402 171h2v1h-2zM404 170h2v1h-2zM406 169h2v1h-2zM408 168h1v1h-1zM409 167h1v1h-1zM410 166h1v1h-1zM411 165h1v1h-1zM412 164h1v1h-1zM413 163h2v1h-2zM415 162h1v1h-1zM416 161h1v1h-1zM417 160h2v1h-2zM419 159h1v1h-1zM420 158h1v1h-1zM421 156h1v2h-1zM422 155h1v1h-1zM423 154h1v1h-1zM424 153h1v1h-1zM425 152h1v1h-1zM426 151h1v1h-1zM427 150h2v1h-2zM429 149h4v1h-4zM433 150h4v1h-4zM437 151h3v1h-3zM440 152h1v1h-1zM441 153h1v2h-1zM442 155h1v1h-1zM443 156h1v1h-1zM444 157h1v2h-1zM445 159h1v2h-1zM446 161h1v2h-1zM447 163h1v1h-1zM448 164h1v2h-1zM449 166h1v2h-1zM450 168h1v2h-1zM451 170h1v2h-1zM452 172h1v1h-1zM453 173h1v2h-1zM454 175h1v1h-1zM455 176h1v1h-1zM456 177h1v1h-1zM457 178h2v1h-2zM459 179h2v1h-2zM461 180h3v1h-3zM464 179h2v1h-2zM466 178h2v1h-2zM468 177h2v1h-2zM470 176h2v1h-2zM472 175h1v1h-1zM473 174h2v1h-2zM475 173h5v1h-5zM480 174h2v1h-2zM482 175h2v1h-2zM484 176h2v1h-2zM486 177h2v1h-2zM488 178h2v1h-2zM490 179h2v1h-2zM492 180h2v1h-2zM494 181h2v1h-2zM496 182h1v1h-1zM497 183h2v1h-2zM499 184h2v1h-2zM501 185h3v1h-3zM504 186h1v1h-1zM505 187h2v1h-2zM507 188h1v1h-1zM508 189h2v1h-2zM510 190h2v1h-2zM512 191h1v1h-1zM513 192h1v2h-1zM514 194h1v1h-1zM515 195h1v1h-1zM516 196h1v1h-1zM517 197h1v1h-1zM518 198h1v1h-1zM519 199h1v1h-1zM520 200h1v1h-1zM521 201h1v2h-1zM522 203h1v1h-1zM523 204h1v1h-1zM524 205h1v2h-1zM525 207h1v1h-1zM526 208h1v2h-1zM527 210h1v1h-1zM528 211h1v2h-1zM529 213h1v2h-1zM530 215h1v2h-1zM531 217h1v1h-1zM532 218h1v1h-1zM533 219h2v1h-2zM535 220h1v1h-1zM536 221h2v1h-2zM538 222h3v1h-3zM541 223h3v1h-3zM544 222h2v1h-2zM546 221h2v1h-2zM548 220h1v1h-1zM549 219h2v1h-2zM551 218h2v1h-2zM553 219h4v1h-4zM557 220h3v1h-3zM560 221h2v1h-2zM562 222h2v1h-2zM564 223h2v1h-2zM566 224h3v1h-3zM569 223h3v1h-3zM572 222h2v1h-2zM574 221h2v1h-2zM576 220h1v1h-1zM577 219h2v1h-2zM579 218h2v1h-2zM581 217h7v1h-7zM588 218h1v1h-1zM589 219h2v1h-2zM591 220h1v1h-1zM592 221h1v1h-1zM593 222h2v1h-2zM595 223h1v1h-1zM596 224h1v1h-1zM597 225h1v1h-1zM598 226h1v1h-1zM599 227h1v1h-1zM600 228h1v1h-1zM601 229h1v1h-1zM602 230h1v1h-1zM603 231h1v1h-1zM604 232h1v1h-1zM605 233h1v2h-1zM606 235h1v1h-1zM607 236h1v1h-1zM608 237h1v1h-1zM609 238h2v1h-2zM611 239h1v1h-1zM612 240h1v1h-1zM613 241h1v1h-1zM614 242h1v1h-1zM615 243h1v1h-1zM616 244h1v1h-1zM617 245h1v1h-1zM618 246h1v1h-1zM619 247h1v1h-1zM620 248h2v1h-2zM622 249h1v1h-1zM623 249h1v2h-1zM624 251h1v2h-1zM625 253h1v2h-1zM626 255h1v2h-1zM627 257h1v2h-1zM628 259h1v1h-1zM629 260h1v2h-1zM630 262h1v1h-1zM631 263h1v1h-1zM632 264h1v1h-1zM633 265h1v1h-1zM634 266h1v1h-1zM635 267h1v1h-1zM636 266h1v1h-1zM637 265h1v1h-1zM638 264h1v1h-1zM639 263h1v1h-1zM640 262h2v1h-2zM642 261h2v1h-2zM644 259h1v2h-1zM645 257h1v2h-1zM646 255h1v2h-1zM647 254h1v1h-1zM648 253h1v1h-1zM649 251h1v2h-1zM650 250h1v1h-1zM651 249h1v1h-1zM652 247h1v2h-1zM653 246h1v1h-1zM654 244h1v2h-1zM655 243h1v1h-1zM656 242h2v1h-2zM658 241h2v1h-2zM660 242h1v2h-1zM661 244h1v2h-1zM662 246h1v2h-1zM663 248h1v1h-1zM664 249h1v1h-1zM665 250h1v2h-1zM666 252h1v1h-1zM667 253h1v3h-1zM668 256h1v4h-1zM669 260h1v4h-1zM670 264h1v4h-1zM671 268h1v5h-1zM672 273h1v6h-1zM673 279h1v6h-1zM674 285h1v6h-1zM675 291h1v7h-1zM676 298h1v6h-1zM677 304h1v6h-1zM678 310h1v6h-1zM679 316h1v6h-1zM680 322h1v4h-1zM681 326h1v4h-1zM682 330h1v4h-1zM683 334h1v6h-1zM684 340h1v6h-1zM685 346h1v7h-1zM686 353h1v6h-1zM687 359h1v6h-1zM688 365h1v6h-1zM689 371h1v5h-1zM690 376h1v6h-1zM691 382h1v4h-1zM692 386h1v4h-1zM693 390h1v4h-1zM694 394h1v4h-1zM695 398h1v3h-1zM696 401h1v4h-1zM697 405h1v4h-1zM698 409h1v4h-1zM699 413h1v4h-1zM700 417h1v4h-1zM701 421h1v4h-1zM702 425h1v4h-1zM703 429h1v4h-1zM704 433h1v3h-1zM705 436h1v2h-1zM706 438h1v3h-1zM707 441h1v2h-1zM708 440h1v2h-1zM709 439h1v1h-1zM710 437h1v2h-1zM711 436h1v1h-1zM712 435h1v1h-1zM713 433h1v2h-1zM714 432h1v1h-1zM715 430h1v2h-1zM716 428h1v2h-1zM717 425h1v3h-1zM718 423h1v2h-1zM719 419h1v4h-1zM720 415h1v4h-1zM721 411h1v4h-1zM722 407h1v4h-1zM723 402h1v5h-1zM724 397h1v5h-1zM725 391h1v6h-1zM726 386h1v5h-1zM727 382h1v4h-1zM728 379h1v3h-1zM729 377h1v2h-1zM730 374h1v3h-1zM731 371h1v3h-1zM732 369h1v2h-1zM733 367h1v2h-1zM734 365h1v2h-1zM735 363h1v2h-1zM736 362h2v1h-2zM738 361h2v1h-2zM740 362h1v1h-1zM741 363h1v1h-1zM742 364h1v1h-1zM743 365h1v2h-1zM744 367h1v2h-1zM745 369h1v2h-1zM746 371h1v2h-1zM747 373h1v2h-1zM748 375h1v2h-1zM749 377h1v2h-1zM750 379h1v2h-1zM751 381h1v2h-1zM752 383h2v1h-2zM754 384h2v1h-2zM756 383h1v1h-1zM757 382h1v1h-1zM758 381h1v1h-1zM759 379h1v2h-1zM760 377h1v2h-1zM761 375h1v2h-1zM762 373h1v2h-1zM763 370h1v3h-1zM764 366h1v4h-1zM765 362h1v4h-1zM766 358h1v4h-1zM767 354h1v4h-1zM768 350h1v4h-1zM769 346h1v4h-1zM770 342h1v4h-1zM771 338h1v4h-1zM772 335h1v3h-1zM773 331h1v4h-1zM774 328h1v3h-1zM775 325h1v3h-1zM776 323h1v2h-1zM777 320h1v3h-1zM778 318h1v2h-1zM779 315h1v3h-1zM780 313h1v2h-1zM781 311h1v2h-1zM782 309h1v2h-1zM783 307h1v2h-1zM784 307h1v1h-1zM785 306h3v1h-3zM788 307h2v1h-2zM790 308h6v1h-6zM796 309h2v1h-2zM798 310h3v1h-3zM801 311h3v1h-3zM804 312h2v1h-2zM806 313h6v1h-6zM812 312h2v1h-2zM814 311h3v1h-3zM817 310h6v1h-6zM823 309h1v2h-1zM824 307h1v2h-1zM825 305h1v2h-1zM826 303h1v2h-1zM827 300h1v3h-1zM828 298h1v2h-1zM829 296h1v2h-1zM830 294h1v2h-1zM831 292h1v2h-1zM832 290h1v2h-1zM833 288h1v2h-1zM834 286h1v2h-1zM835 285h1v1h-1zM836 283h1v2h-1zM837 281h1v2h-1zM838 279h1v2h-1zM839 278h1v1h-1zM840 277h2v1h-2zM842 276h2v1h-2zM844 277h2v1h-2zM846 278h2v1h-2zM848 279h1v1h-1zM849 280h1v2h-1zM850 282h1v1h-1zM851 283h1v1h-1zM852 284h1v1h-1zM853 285h2v1h-2zM855 286h1v1h-1zM856 287h1v2h-1zM857 289h1v1h-1zM858 290h1v2h-1zM859 292h1v1h-1zM860 291h1v1h-1zM861 290h1v1h-1zM862 289h1v1h-1zM863 288h1v1h-1zM864 286h1v2h-1zM865 284h1v2h-1zM866 282h1v2h-1zM867 281h1v1h-1zM868 280h1v1h-1zM869 278h1v2h-1zM870 277h1v1h-1zM871 276h2v1h-2zM873 275h3v1h-3zM876 274h1v1h-1zM877 272h1v2h-1zM878 271h1v1h-1zM879 270h1v1h-1zM880 271h2v1h-2zM882 272h2v1h-2zM884 273h1v2h-1zM885 275h1v2h-1zM886 277h1v2h-1zM887 279h1v1h-1zM888 280h1v2h-1zM889 282h1v1h-1zM890 283h1v2h-1zM891 285h1v1h-1zM892 286h2v1h-2zM894 287h6v1h-6zM900 285h1v2h-1zM901 284h1v1h-1zM902 282h1v2h-1zM903 280h1v2h-1zM904 278h1v2h-1zM905 276h1v2h-1zM906 274h1v2h-1zM907 272h1v2h-1zM908 270h1v2h-1zM909 268h1v2h-1zM910 266h1v2h-1zM911 265h1v1h-1zM912 264h1v1h-1zM913 262h1v2h-1zM914 261h1v1h-1zM915 260h2v1h-2zM917 259h4v1h-4zM921 260h3v1h-3zM924 259h2v1h-2zM926 258h2v1h-2zM928 257h2v1h-2zM930 256h2v1h-2zM932 254h1v2h-1zM933 252h1v2h-1zM934 250h1v2h-1zM935 249h1v1h-1zM936 248h1v1h-1zM937 246h1v2h-1zM938 245h1v1h-1zM939 244h1v1h-1zM940 242h1v2h-1zM941 241h1v1h-1zM942 239h1v2h-1zM943 238h1v1h-1zM944 236h1v2h-1zM945 235h1v1h-1zM946 233h1v2h-1zM947 231h1v2h-1zM948 227h1v4h-1zM949 224h1v3h-1zM950 220h1v4h-1zM951 217h1v3h-1zM952 213h1v4h-1zM953 210h1v3h-1zM954 206h1v4h-1zM955 203h1v3h-1zM956 199h1v4h-1zM957 195h1v4h-1zM958 191h1v4h-1zM959 187h1v4h-1zM960 183h1v4h-1zM961 179h1v4h-1zM962 175h1v4h-1zM963 172h1v3h-1zM964 170h1v2h-1zM965 168h1v2h-1zM966 166h1v2h-1zM967 164h1v2h-1zM968 162h1v2h-1zM969 161h1v1h-1zM970 159h1v2h-1zM971 158h5v1h-5zM976 157h1v1h-1zM977 156h2v1h-2zM979 155h1v1h-1zM980 156h1v1h-1zM981 157h1v2h-1zM982 159h1v1h-1zM983 160h1v1h-1zM984 161h1v1h-1zM985 162h1v2h-1zM986 164h1v1h-1zM987 165h1v1h-1zM988 166h1v2h-1zM989 168h1v2h-1zM990 170h1v2h-1zM991 172h1v2h-1zM992 174h1v1h-1zM993 175h1v2h-1zM994 177h1v1h-1zM995 178h1v1h-1zM996 179h1v2h-1zM997 181h1v1h-1zM998 182h1v2h-1zM999 184h2v1h-2zM1001 183h8v1h-8zM1009 182h4v1h-4zM1013 183h4v1h-4zM1017 182h3v1h-3zM1020 181h1v1h-1zM1021 180h2v1h-2zM1023 179h2v1h-2zM1025 178h4v1h-4zM1029 177h7v1h-7zM1036 178h2v1h-2zM1038 179h2v1h-2zM1040 180h1v1h-1zM1041 181h1v1h-1zM1042 182h1v1h-1zM1043 183h2v1h-2zM1045 182h3v1h-3zM1048 181h2v1h-2zM1050 180h2v1h-2zM1052 179h1v1h-1zM1053 178h2v1h-2zM1055 177h1v1h-1zM1056 176h1v1h-1zM1057 175h1v1h-1zM1058 174h1v1h-1zM1059 173h1v1h-1zM1060 172h1v1h-1zM1061 171h1v1h-1zM1062 170h1v1h-1zM1063 169h1v1h-1zM1064 168h1v1h-1zM1065 167h1v1h-1zM1066 166h1v1h-1zM1067 165h1v1h-1zM1068 164h1v1h-1zM1069 163h2v1h-2zM1071 162h1v1h-1zM1072 161h2v1h-2zM1074 160h3v1h-3zM1077 159h8v1h-8zM1085 160h8v1h-8zM1093 159h3v1h-3zM1096 158h2v1h-2zM1098 157h2v1h-2zM1100 156h1v1h-1zM1101 155h2v1h-2zM1103 154h1v1h-1zM1104 153h2v1h-2zM1106 152h3v1h-3zM1109 151h4v1h-4zM1113 150h3v1h-3zM1116 148h1v2h-1zM1117 147h1v1h-1zM1118 145h1v2h-1zM1119 144h1v1h-1zM1120 142h1v2h-1zM1121 141h1v1h-1zM1122 139h1v2h-1zM1123 138h1v1h-1zM1124 136h1v2h-1zM1125 134h1v2h-1zM1126 132h1v2h-1zM1127 130h1v2h-1zM1128 129h1v1h-1zM1129 128h1v1h-1zM1130 127h1v1h-1zM1131 126h1v1h-1zM1132 125h1v1h-1zM1133 123h1v2h-1zM1134 122h1v1h-1zM1135 121h2v1h-2zM1137 120h4v1h-4zM1141 119h4v1h-4zM1145 118h3v1h-3zM1148 117h2v1h-2zM1150 116h2v1h-2zM1152 115h1v1h-1zM1153 114h2v1h-2zM1155 113h2v1h-2zM1157 112h3v1h-3zM1160 113h2v1h-2zM1162 114h3v1h-3zM1165 115h3v1h-3zM1168 114h1v1h-1zM1169 113h1v1h-1zM1170 112h1v1h-1zM1171 111h1v1h-1zM1172 110h1v1h-1zM1173 109h2v1h-2zM1175 108h2v1h-2zM1177 107h4v1h-4zM1181 106h4v1h-4zM1185 105h3v1h-3zM1188 106h1v1h-1zM1189 107h2v1h-2zM1191 108h1v1h-1zM1192 109h1v1h-1zM1193 110h2v1h-2zM1195 111h6v1h-6zM1201 110h7v1h-7zM1208 109h1v1h-1zM1209 108h2v1h-2zM1211 107h1v1h-1zM1212 106h1v1h-1zM1213 105h1v1h-1zM1214 104h1v1h-1zM1215 103h1v1h-1zM1216 102h1v1h-1zM1217 101h2v1h-2zM1219 100h2v1h-2zM1221 99h4v1h-4zM1225 100h3v1h-3zM1228 101h1v1h-1zM1229 102h2v1h-2zM1231 103h1v1h-1zM1232 104h2v1h-2zM1234 105h2v1h-2zM1236 106h1v1h-1zM1237 107h2v1h-2zM1239 108h1v1h-1zM1240 107h2v1h-2zM1242 106h2v1h-2zM1244 105h1v1h-1zM1245 103h1v2h-1zM1246 102h1v1h-1zM1247 100h1v2h-1zM1248 98h1v2h-1zM1249 95h1v3h-1zM1250 93h1v2h-1zM1251 91h1v2h-1zM1252 89h1v2h-1zM1253 87h1v2h-1zM1254 85h1v2h-1zM1255 82h1v3h-1zM1256 79h1v3h-1zM1257 77h1v2h-1zM1258 74h1v3h-1zM1259 72h1v2h-1zM1260 70h1v2h-1zM1261 68h1v2h-1zM1262 66h1v2h-1zM1263 65h1v1h-1zM1264 63h1v2h-1zM1265 62h1v1h-1zM1266 60h1v2h-1zM1267 59h1v1h-1z" fill="#ffa500"/>
<rect x="4" y="558" width="3" height="1" fill="#b4b4b4"/>
<rect x="10" y="558" width="3" height="1" fill="#b4b4b4"/>
<rect x="16" y="558" width="3" height="1" fill="#b4b4b4"/>
<rect x="22" y="558" width="3" height="1" fill="#b4b4b4"/>
<rect x="28" y="558" width="3" height="1" fill="#b4b4b4"/>
<rect x="34" y="558" width="3" height="1" fill="#b4b4b4"/>
<rect x="40" y="558" width="3" height="1" fill="#b4b4b4"/>
<rect x="46" y="558" width="3" height="1" fill="#b4b4b4"/>
<rect x="52" y="558" width="3" height="1" fill="#b4b4b4"/>
<rect x="58" y="558" width="3" height="1" fill="#b4b4b4"/>
<rect x="64" y="558" width="3" height="1" fill="#b4b4b4"/>
<rect x="70" y="558" width="3" height="1" fill="#b4b4b4"/>
<rect x="76" y="558" width="3" height="1" fill="#b4b4b4"/>
<rect x="82" y="558" width="3" height="1" fill="#b4b4b4"/>
<rect x="88" y="558" width="3" height="1" fill="#b4b4b4"/>
<rect x="94" y="558" width="3" height="1" fill="#b4b4b4"/>
<rect x="100" y="558" width="3" height="1" fill="#b4b4b4"/>
<rect x="106" y="558" width="3" height="1" fill="#b4b4b4"/>
<rect x="112" y="558" width="3" height="1" fill="#b4b4b4"/>
<rect x="118" y="558" width="3" height="1" fill="#b4b4b4"/>
<rect x="124" y="558" width="3" height="1" fill="#b4b4b4"/>
<rect x="130" y="558" width="3" height="1" fill="#b4b4b4"/>
<rect x="136" y="558" width="3" height="1" fill="#b4b4b4"/>
<rect x="142" y="558" width="3" height="1" fill="#b4b4b4"/>
<rect x="148" y="558" width="3" height="1" fill="#b4b4b4"/>
<rect x="154" y="558" width="3" height="1" fill="#b4b4b4"/>
<rect x="160" y="558" width="3" height="1" fill="#b4b4b4"/>
<rect x="166" y="558" width="3" height="1" fill="#b4b4b4"/>
<rect x="172" y="558" width="3" height="1" fill="#b4b4b4"/>
<rect x="178" y="558" width="3" height="1" fill="#b4b4b4"/>
<rect x="184" y="558" width="3" height="1" fill="#b4b4b4"/>
<rect x="190" y="558" width="3" height="1" fill="#b4b4b4"/>
<rect x="196" y="558" width="3" height="1" fill="#b4b4b4"/>
<rect x="202" y="558" width="3" height="1" fill="#b4b4b4"/>
<rect x="208" y="558" width="3" height="1" fill="#b4b4b4"/>
<rect x="214" y="558" width="3" height="1" fill="#b4b4b4"/>
<rect x="220" y="558" width="3" height="1" fill="#b4b4b4"/>
<rect x="226" y="558" width="3" height="1" fill="#b4b4b4"/>
<rect x="232" y="558" width="3" height="1" fill="#b4b4b4"/>
<rect x="238" y="558" width="3" height="1" fill="#b4b4b4"/>
<rect x="244" y="558" width="3" height="1" fill="#b4b4b4"/>
<rect x="250" y="558" width="3" height="1" fill="#b4b4b4"/>
<rect x="256" y="558" width="3" height="1" fill="#b4b4b4"/>
<rect x="262" y="558" width="3" height="1" fill="#b4b4b4"/>
<rect x="268" y="558" width="3" height="1" fill="#b4b4b4"/>
<rect x="274" y="558" width="3" height="1" fill="#b4b4b4"/>
<rect x="280" y="558" width="3" height="1" fill="#b4b4b4"/>
<rect x="286" y="558" width="3" height="1" fill="#b4b4b4"/>
<rect x="292" y="558" width="3" height="1" fill="#b4b4b4"/>
<rect x="298" y="558" width="3" height="1" fill="#b4b4b4"/>
<rect x="304" y="558" width="3" height="1" fill="#b4b4b4"/>
<rect x="310" y="558" width="3" height="1" fill="#b4b4b4"/>
<rect x="316" y="558" width="3" height="1" fill="#b4b4b4"/>
<rect x="322" y="558" width="3" height="1" fill="#b4b4b4"/>
<rect x="328" y="558" width="3" height="1" fill="#b4b4b4"/>
<rect x="334" y="558" width="3" height="1" fill="#b4b4b4"/>
<rect x="340" y="558" width="3" height="1" fill="#b4b4b4"/>
<rect x="346" y="558" width="3" height="1" fill="#b4b4b4"/>
<rect x="352" y="558" width="3" height="1" fill="#b4b4b4"/>
<rect x="358" y="558" width="3" height="1" fill="#b4b4b4"/>
<rect x="364" y="558" width="3" height="1" fill="#b4b4b4"/>
<rect x="370" y="558" width="3" height="1" fill="#b4b4b4"/>
<rect x="376" y="558" width="3" height="1" fill="#b4b4b4"/>
<rect x="382" y="558" width="3" height="1" fill="#b4b4b4"/>
<rect x="388" y="558" width="3" height="1" fill="#b4b4b4"/>
<rect x="394" y="558" width="3" height="1" fill="#b4b4b4"/>
<rect x="400" y="558" width="3" height="1" fill="#b4b4b4"/>
<rect x="406" y="558" width="3" height="1" fill="#b4b4b4"/>
<rect x="412" y="558" width="3" height="1" fill="#b4b4b4"/>
<rect x="418" y="558" width="3" height="1" fill="#b4b4b4"/>
<rect x="424" y="558" width="3" height="1" fill="#b4b4b4"/>
<rect x="430" y="558" width="3" height="1" fill="#b4b4b4"/>
<rect x="436" y="558" width="3" height="1" fill="#b4b4b4"/>
<rect x="442" y="558" width="3" height="1" fill="#b4b4b4"/>
<rect x="448" y="558" width="3" height="1" fill="#b4b4b4"/>
<rect x="454" y="558" width="3" height="1" fill="#b4b4b4"/>
<rect x="460" y="558" width="3" height="1" fill="#b4b4b4"/>
<rect x="466" y="558" width="3" height="1" fill="#b4b4b4"/>
<rect x="472" y="558" width="3" height="1" fill="#b4b4b4"/>
<rect x="478" y="558" width="3" height="1" fill="#b4b4b4"/>
<rect x="484" y="558" width="3" height="1" fill="#b4b4b4"/>
<rect x="490" y="558" width="3" height="1" fill="#b4b4b4"/>
<rect x="496" y="558" width="3" height="1" fill="#b4b4b4"/>
<rect x="502" y="558" width="3" height="1" fill="#b4b4b4"/>
<rect x="508" y="558" width="3" height="1" fill="#b4b4b4"/>
<rect x="514" y="558" width="3" height="1" fill="#b4b4b4"/>
<rect x="520" y="558" width="3" height="1" fill="#b4b4b4"/>
<rect x="526" y="558" width="3" height="1" fill="#b4b4b4"/>
<rect x="532" y="558" width="3" height="1" fill="#b4b4b4"/>
<rect x="538" y="558" width="3" height="1" fill="#b4b4b4"/>
<rect x="544" y="558" width="3" height="1" fill="#b4b4b4"/>
<rect x="550" y="558" width="3" height="1" fill="#b4b4b4"/>
<rect x="556" y="558" width="3" height="1" fill="#b4b4b4"/>
<rect x="562" y="558" width="3" height="1" fill="#b4b4b4"/>
<rect x="568" y="558" width="3" height="1" fill="#b4b4b4"/>
<rect x="574" y="558" width="3" height="1" fill="#b4b4b4"/>
<rect x="580" y="558" width="3" height="1" fill="#b4b4b4"/>
<rect x="586" y="558" width="3" height="1" fill="#b4b4b4"/>
<rect x="592" y="558" width="3" height="1" fill="#b4b4b4"/>
<rect x="598" y="558" width="3" height="1" fill="#b4b4b4"/>
<rect x="604" y="558" width="3" height="1" fill="#b4b4b4"/>
<rect x="610" y="558" width="3" height="1" fill="#b4b4b4"/>
<rect x="616" y="558" width="3" height="1" fill="#b4b4b4"/>
<rect x="622" y="558" width="3" height="1" fill="#b4b4b4"/>
<rect x="628" y="558" width="3" height="1" fill="#b4b4b4"/>
<rect x="634" y="558" width="3" height="1" fill="#b4b4b4"/>
<rect x="640" y="558" width="3" height="1" fill="#b4b4b4"/>
<rect x="646" y="558" width="3" height="1" fill="#b4b4b4"/>
<rect x="652" y="558" width="3" height="1" fill="#b4b4b4"/>
<rect x="658" y="558" width="3" height="1" fill="#b4b4b4"/>
<rect x="664" y="558" width="3" height="1" fill="#b4b4b4"/>
<rect x="670" y="558" width="3" height="1" fill="#b4b4b4"/>
<rect x="676" y="558" width="3" height="1" fill="#b4b4b4"/>
<rect x="682" y="558" width="3" height="1" fill="#b4b4b4"/>
<rect x="688" y="558" width="3" height="1" fill="#b4b4b4"/>
<rect x="694" y="558" width="3" height="1" fill="#b4b4b4"/>
<rect x="700" y="558" width="3" height="1" fill="#b4b4b4"/>
<rect x="706" y="558" width="3" height="1" fill="#b4b4b4"/>
<rect x="712" y="558" width="3" height="1" fill="#b4b4b4"/>
<rect x="718" y="558" width="3" height="1" fill="#b4b4b4"/>
<rect x="724" y="558" width="3" height="1" fill="#b4b4b4"/>
<rect x="730" y="558" width="3" height="1" fill="#b4b4b4"/>
<rect x="736" y="558" width="3" height="1" fill="#b4b4b4"/>
<rect x="742" y="558" width="3" height="1" fill="#b4b4b4"/>
<rect x="748" y="558" width="3" height="1" fill="#b4b4b4"/>
<rect x="754" y="558" width="3" height="1" fill="#b4b4b4"/>
<rect x="760" y="558" width="3" height="1" fill="#b4b4b4"/>
<rect x="766" y="558" width="3" height="1" fill="#b4b4b4"/>
<rect x="772" y="558" width="3" height="1" fill="#b4b4b4"/>
<rect x="778" y="558" width="3" height="1" fill="#b4b4b4"/>
<rect x="784" y="558" width="3" height="1" fill="#b4b4b4"/>
<rect x="790" y="558" width="3" height="1" fill="#b4b4b4"/>
<rect x="796" y="558" width="3" height="1" fill="#b4b4b4"/>
<rect x="802" y="558" width="3" height="1" fill="#b4b4b4"/>
<rect x="808" y="558" width="3" height="1" fill="#b4b4b4"/>
<rect x="814" y="558" width="3" height="1" fill="#b4b4b4"/>
<rect x="820" y="558" width="3" height="1" fill="#b4b4b4"/>
<rect x="826" y="558" width="3" height="1" fill="#b4b4b4"/>
<rect x="832" y="558" width="3" height="1" fill="#b4b4b4"/>
<rect x="838" y="558" width="3" height="1" fill="#b4b4b4"/>
<rect x="844" y="558" width="3" height="1" fill="#b4b4b4"/>
<rect x="850" y="558" width="3" height="1" fill="#b4b4b4"/>
<rect x="856" y="558" width="3" height="1" fill="#b4b4b4"/>
<rect x="862" y="558" width="3" height="1" fill="#b4b4b4"/>
<rect x="868" y="558" width="3" height="1" fill="#b4b4b4"/>
<rect x="874" y="558" width="3" height="1" fill="#b4b4b4"/>
<rect x="880" y="558" width="3" height="1" fill="#b4b4b4"/>
<rect x="886" y="558" width="3" height="1" fill="#b4b4b4"/>
<rect x="892" y="558" width="3" height="1" fill="#b4b4b4"/>
<rect x="898" y="558" width="3" height="1" fill="#b4b4b4"/>
<rect x="904" y="558" width="3" height="1" fill="#b4b4b4"/>
<rect x="910" y="558" width="3" height="1" fill="#b4b4b4"/>
<rect x="916" y="558" width="3" height="1" fill="#b4b4b4"/>
<rect x="922" y="558" width="3" height="1" fill="#b4b4b4"/>
<rect x="928" y="558" width="3" height="1" fill="#b4b4b4"/>
<rect x="934" y="558" width="3" height="1" fill="#b4b4b4"/>
<rect x="940" y="558" width="3" height="1" fill="#b4b4b4"/>
<rect x="946" y="558" width="3" height="1" fill="#b4b4b4"/>
<rect x="952" y="558" width="3" height="1" fill="#b4b4b4"/>
<rect x="958" y="558" width="3" height="1" fill="#b4b4b4"/>
<rect x="964" y="558" width="3" height="1" fill="#b4b4b4"/>
<rect x="970" y="558" width="3" height="1" fill="#b4b4b4"/>
<rect x="976" y="558" width="3" height="1" fill="#b4b4b4"/>
<rect x="982" y="558" width="3" height="1" fill="#b4b4b4"/>
<rect x="988" y="558" width="3" height="1" fill="#b4b4b4"/>
<rect x="994" y="558" width="3" height="1" fill="#b4b4b4"/>
<rect x="1000" y="558" width="3" height="1" fill="#b4b4b4"/>
<rect x="1006" y="558" width="3" height="1" fill="#b4b4b4"/>
<rect x="1012" y="558" width="3" height="1" fill="#b4b4b4"/>
<rect x="1018" y="558" width="3" height="1" fill="#b4b4b4"/>
<rect x="1024" y="558" width="3" height="1" fill="#b4b4b4"/>
<rect x="1030" y="558" width="3" height="1" fill="#b4b4b4"/>
<rect x="1036" y="558" width="3" height="1" fill="#b4b4b4"/>
<rect x="1042" y="558" width="3" height="1" fill="#b4b4b4"/>
<rect x="1048" y="558" width="3" height="1" fill="#b4b4b4"/>
<rect x="1054" y="558" width="3" height="1" fill="#b4b4b4"/>
<rect x="1060" y="558" width="3" height="1" fill="#b4b4b4"/>
<rect x="1066" y="558" width="3" height="1" fill="#b4b4b4"/>
<rect x="1072" y="558" width="3" height="1" fill="#b4b4b4"/>
<rect x="1078" y="558" width="3" height="1" fill="#b4b4b4"/>
<rect x="1084" y="558" width="3" height="1" fill="#b4b4b4"/>
<rect x="1090" y="558" width="3" height="1" fill="#b4b4b4"/>
<rect x="1096" y="558" width="3" height="1" fill="#b4b4b4"/>
<rect x="1102" y="558" width="3" height="1" fill="#b4b4b4"/>
<rect x="1108" y="558" width="3" height="1" fill="#b4b4b4"/>
<rect x="1114" y="558" width="3" height="1" fill="#b4b4b4"/>
<rect x="1120" y="558" width="3" height="1" fill="#b4b4b4"/>
<rect x="1126" y="558" width="3" height="1" fill="#b4b4b4"/>
<rect x="1132" y="558" width="3" height="1" fill="#b4b4b4"/>
<rect x="1138" y="558" width="3" height="1" fill="#b4b4b4"/>
<rect x="1144" y="558" width="3" height="1" fill="#b4b4b4"/>
<rect x="1150" y="558" width="3" height="1" fill="#b4b4b4"/>
<rect x="1156" y="558" width="3" height="1" fill="#b4b4b4"/>
<rect x="1162" y="558" width="3" height="1" fill="#b4b4b4"/>
<rect x="1168" y="558" width="3" height="1" fill="#b4b4b4"/>
<rect x="1174" y="558" width="3" height="1" fill="#b4b4b4"/>
<rect x="1180" y="558" width="3" height="1" fill="#b4b4b4"/>
<rect x="1186" y="558" width="3" height="1" fill="#b4b4b4"/>
<rect x="1192" y="558" width="3" height="1" fill="#b4b4b4"/>
<rect x="1198" y="558" width="3" height="1" fill="#b4b4b4"/>
<rect x="1204" y="558" width="3" height="1" fill="#b4b4b4"/>
<rect x="1210" y="558" width="3" height="1" fill="#b4b4b4"/>
<rect x="1216" y="558" width="3" height="1" fill="#b4b4b4"/>
<rect x="1222" y="558" width="3" height="1" fill="#b4b4b4"/>
<rect x="1228" y="558" width="3" height="1" fill="#b4b4b4"/>
<rect x="1234" y="558" width="3" height="1" fill="#b4b4b4"/>
<rect x="1240" y="558" width="3" height="1" fill="#b4b4b4"/>
<rect x="1246" y="558" width="3" height="1" fill="#b4b4b4"/>
<rect x="1252" y="558" width="3" height="1" fill="#b4b4b4"/>
<rect x="1258" y="558" width="3" height="1" fill="#b4b4b4"/>
<rect x="1264" y="558" width="3" height="1" fill="#b4b4b4"/>
<rect x="1270" y="558" width="3" height="1" fill="#b4b4b4"/>
<rect x="1276" y="558" width="3" height="1" fill="#b4b4b4"/>
<rect x="1282" y="558" width="3" height="1" fill="#b4b4b4"/>
<rect x="1288" y="558" width="3" height="1" fill="#b4b4b4"/>
<rect x="1294" y="558" width="3" height="1" fill="#b4b4b4"/>
<rect x="1300" y="558" width="3" height="1" fill="#b4b4b4"/>
<rect x="1306" y="558" width="3" height="1" fill="#b4b4b4"/>
<rect x="1312" y="558" width="3" height="1" fill="#b4b4b4"/>
<rect x="1318" y="558" width="3" height="1" fill="#b4b4b4"/>
<rect x="1324" y="558" width="3" height="1" fill="#b4b4b4"/>
<rect x="1330" y="558" width="3" height="1" fill="#b4b4b4"/>
<rect x="1336" y="558" width="3" height="1" fill="#b4b4b4"/>
<rect x="1342" y="558" width="3" height="1" fill="#b4b4b4"/>
<rect x="1348" y="558" width="3" height="1" fill="#b4b4b4"/>
<rect x="1354" y="558" width="3" height="1" fill="#b4b4b4"/>
<rect x="1360" y="558" width="3" height="1" fill="#b4b4b4"/>
<rect x="1366" y="558" width="3" height="1" fill="#b4b4b4"/>
<rect x="1372" y="558" width="3" height="1" fill="#b4b4b4"/>
<rect x="1378" y="558" width="3" height="1" fill="#b4b4b4"/>
<rect x="1384" y="558" width="3" height="1" fill="#b4b4b4"/>
<rect x="1390" y="558" width="3" height="1" fill="#b4b4b4"/>
<rect x="1396" y="558" width="3" height="1" fill="#b4b4b4"/>
<rect x="1402" y="558" width="3" height="1" fill="#b4b4b4"/>
<rect x="1408" y="558" width="3" height="1" fill="#b4b4b4"/>
<rect x="1414" y="558" width="3" height="1" fill="#b4b4b4"/>
<rect x="1420" y="558" width="3" height="1" fill="#b4b4b4"/>
<rect x="1426" y="558" width="3" height="1" fill="#b4b4b4"/>
<rect x="1432" y="558" width="3" height="1" fill="#b4b4b4"/>
<rect x="1438" y="558" width="3" height="1" fill="#b4b4b4"/>
<rect x="1444" y="558" width="3" height="1" fill="#b4b4b4"/>
<rect x="1450" y="558" width="3" height="1" fill="#b4b4b4"/>
<rect x="1456" y="558" width="3" height="1" fill="#b4b4b4"/>
<rect x="1462" y="558" width="3" height="1" fill="#b4b4b4"/>
<rect x="1468" y="558" width="3" height="1" fill="#b4b4b4"/>
<rect x="1474" y="558" width="3" height="1" fill="#b4b4b4"/>
<rect x="1480" y="558" width="3" height="1" fill="#b4b4b4"/>
<rect x="1486" y="558" width="3" height="1" fill="#b4b4b4"/>
<rect x="1492" y="558" width="3" height="1" fill="#b4b4b4"/>
<rect x="1498" y="558" width="3" height="1" fill="#b4b4b4"/>
<rect x="1504" y="558" width="3" height="1" fill="#b4b4b4"/>
<rect x="1510" y="558" width="3" height="1" fill="#b4b4b4"/>
<rect x="1516" y="558" width="3" height="1" fill="#b4b4b4"/>
<rect x="1522" y="558" width="3" height="1" fill="#b4b4b4"/>
<rect x="1528" y="558" width="3" height="1" fill="#b4b4b4"/>
<rect x="1534" y="558" width="3" height="1" fill="#b4b4b4"/>
<rect x="1540" y="558" width="3" height="1" fill="#b4b4b4"/>
<rect x="1546" y="558" width="3" height="1" fill="#b4b4b4"/>
<rect x="1552" y="558" width="3" height="1" fill="#b4b4b4"/>
<rect x="1558" y="558" width="3" height="1" fill="#b4b4b4"/>
<rect x="1564" y="558" width="3" height="1" fill="#b4b4b4"/>
<rect x="1570" y="558" width="3" height="1" fill="#b4b4b4"/>
<rect x="1576" y="558" width="3" height="1" fill="#b4b4b4"/>
<rect x="1582" y="558" width="3" height="1" fill="#b4b4b4"/>
<rect x="1588" y="558" width="3" height="1" fill="#b4b4b4"/>
<rect x="1594" y="558" width="3" height="1" fill="#b4b4b4"/>
<rect x="4" y="594" width="3" height="1" fill="#b4b4b4"/>
<rect x="10" y="594" width="3" height="1" fill="#b4b4b4"/>
<rect x="16" y="594" width="3" height="1" fill="#b4b4b4"/>
<rect x="22" y="594" width="3" height="1" fill="#b4b4b4"/>
<rect x="28" y="594" width="3" height="1" fill="#b4b4b4"/>
<rect x="34" y="594" width="3" height="1" fill="#b4b4b4"/>
<rect x="40" y="594" width="3" height="1" fill="#b4b4b4"/>
<rect x="46" y="594" width="3" height="1" fill="#b4b4b4"/>
<rect x="52" y="594" width="3" height="1" fill="#b4b4b4"/>
<rect x="58" y="594" width="3" height="1" fill="#b4b4b4"/>
<rect x="64" y="594" width="3" height="1" fill="#b4b4b4"/>
<rect x="70" y="594" width="3" height="1" fill="#b4b4b4"/>
<rect x="76" y="594" width="3" height="1" fill="#b4b4b4"/>
<rect x="82" y="594" width="3" height="1" fill="#b4b4b4"/>
<rect x="88" y="594" width="3" height="1" fill="#b4b4b4"/>
<rect x="94" y="594" width="3" height="1" fill="#b4b4b4"/>
<rect x="100" y="594" width="3" height="1" fill="#b4b4b4"/>
<rect x="106" y="594" width="3" height="1" fill="#b4b4b4"/>
<rect x="112" y="594" width="3" height="1" fill="#b4b4b4"/>
<rect x="118" y="594" width="3" height="1" fill="#b4b4b4"/>
<rect x="124" y="594" width="3" height="1" fill="#b4b4b4"/>
<rect x="130" y="594" width="3" height="1" fill="#b4b4b4"/>
<rect x="136" y="594" width="3" height="1" fill="#b4b4b4"/>
<rect x="142" y="594" width="3" height="1" fill="#b4b4b4"/>
<rect x="148" y="594" width="3" height="1" fill="#b4b4b4"/>
<rect x="154" y="594" width="3" height="1" fill="#b4b4b4"/>
<rect x="160" y="594" width="3" height="1" fill="#b4b4b4"/>
<rect x="166" y="594" width="3" height="1" fill="#b4b4b4"/>
<rect x="172" y="594" width="3" height="1" fill="#b4b4b4"/>
<rect x="178" y="594" width="3" height="1" fill="#b4b4b4"/>
<rect x="184" y="594" width="3" height="1" fill="#b4b4b4"/>
<rect x="190" y="594" width="3" height="1" fill="#b4b4b4"/>
<rect x="196" y="594" width="3" height="1" fill="#b4b4b4"/>
<rect x="202" y="594" width="3" height="1" fill="#b4b4b4"/>
<rect x="208" y="594" width="3" height="1" fill="#b4b4b4"/>
<rect x="214" y="594" width="3" height="1" fill="#b4b4b4"/>
<rect x="220" y="594" width="3" height="1" fill="#b4b4b4"/>
<rect x="226" y="594" width="3" height="1" fill="#b4b4b4"/>
<rect x="232" y="594" width="3" height="1" fill="#b4b4b4"/>
<rect x="238" y="594" width="3" height="1" fill="#b4b4b4"/>
<rect x="244" y="594" width="3" height="1" fill="#b4b4b4"/>
<rect x="250" y="594" width="3" height="1" fill="#b4b4b4"/>
<rect x="256" y="594" width="3" height="1" fill="#b4b4b4"/>
<rect x="262" y="594" width="3" height="1" fill="#b4b4b4"/>
<rect x="268" y="594" width="3" height="1" fill="#b4b4b4"/>
<rect x="274" y="594" width="3" height="1" fill="#b4b4b4"/>
<rect x="280" y="594" width="3" height="1" fill="#b4b4b4"/>
<rect x="286" y="594" width="3" height="1" fill="#b4b4b4"/>
<rect x="292" y="594" width="3" height="1" fill="#b4b4b4"/>
<rect x="298" y="594" width="3" height="1" fill="#b4b4b4"/>
<rect x="304" y="594" width="3" height="1" fill="#b4b4b4"/>
<rect x="310" y="594" width="3" height="1" fill="#b4b4b4"/>
<rect x="316" y="594" width="3" height="1" fill="#b4b4b4"/>
<rect x="322" y="594" width="3" height="1" fill="#b4b4b4"/>
<rect x="328" y="594" width="3" height="1" fill="#b4b4b4"/>
<rect x="334" y="594" width="3" height="1" fill="#b4b4b4"/>
<rect x="340" y="594" width="3" height="1" fill="#b4b4b4"/>
<rect x="346" y="594" width="3" height="1" fill="#b4b4b4"/>
<rect x="352" y="594" width="3" height="1" fill="#b4b4b4"/>
<rect x="358" y="594" width="3" height="1" fill="#b4b4b4"/>
<rect x="364" y="594" width="3" height="1" fill="#b4b4b4"/>
<rect x="370" y="594" width="3" height="1" fill="#b4b4b4"/>
<rect x="376" y="594" width="3" height="1" fill="#b4b4b4"/>
<rect x="382" y="594" width="3" height="1" fill="#b4b4b4"/>
<rect x="388" y="594" width="3" height="1" fill="#b4b4b4"/>
<rect x="394" y="594" width="3" height="1" fill="#b4b4b4"/>
<rect x="400" y="594" width="3" height="1" fill="#b4b4b4"/>
<rect x="406" y="594" width="3" height="1" fill="#b4b4b4"/>
<rect x="412" y="594" width="3" height="1" fill="#b4b4b4"/>
<rect x="418" y="594" width="3" height="1" fill="#b4b4b4"/>
<rect x="424" y="594" width="3" height="1" fill="#b4b4b4"/>
<rect x="430" y="594" width="3" height="1" fill="#b4b4b4"/>
<rect x="436" y="594" width="3" height="1" fill="#b4b4b4"/>
<rect x="442" y="594" width="3" height="1" fill="#b4b4b4"/>
<rect x="448" y="594" width="3" height="1" fill="#b4b4b4"/>
<rect x="454" y="594" width="3" height="1" fill="#b4b4b4"/>
<rect x="460" y="594" width="3" height="1" fill="#b4b4b4"/>
<rect x="466" y="594" width="3" height="1" fill="#b4b4b4"/>
<rect x="472" y="594" width="3" height="1" fill="#b4b4b4"/>
<rect x="478" y="594" width="3" height="1" fill="#b4b4b4"/>
<rect x="484" y="594" width="3" height="1" fill="#b4b4b4"/>
<rect x="490" y="594" width="3" height="1" fill="#b4b4b4"/>
<rect x="496" y="594" width="3" height="1" fill="#b4b4b4"/>
<rect x="502" y="594" width="3" height="1" fill="#b4b4b4"/>
<rect x="508" y="594" width="3" height="1" fill="#b4b4b4"/>
<rect x="514" y="594" width="3" height="1" fill="#b4b4b4"/>
<rect x="520" y="594" width="3" height="1" fill="#b4b4b4"/>
<rect x="526" y="594" width="3" height="1" fill="#b4b4b4"/>
<rect x="532" y="594" width="3" height="1" fill="#b4b4b4"/>
<rect x="538" y="594" width="3" height="1" fill="#b4b4b4"/>
<rect x="544" y="594" width="3" height="1" fill="#b4b4b4"/>
<rect x="550" y="594" width="3" height="1" fill="#b4b4b4"/>
<rect x="556" y="594" width="3" height="1" fill="#b4b4b4"/>
<rect x="562" y="594" width="3" height="1" fill="#b4b4b4"/>
<rect x="568" y="594" width="3" height="1" fill="#b4b4b4"/>
<rect x="574" y="594" width="3" height="1" fill="#b4b4b4"/>
<rect x="580" y="594" width="3" height="1" fill="#b4b4b4"/>
<rect x="586" y="594" width="3" height="1" fill="#b4b4b4"/>
<rect x="592" y="594" width="3" height="1" fill="#b4b4b4"/>
<rect x="598" y="594" width="3" height="1" fill="#b4b4b4"/>
<rect x="604" y="594" width="3" height="1" fill="#b4b4b4"/>
<rect x="610" y="594" width="3" height="1" fill="#b4b4b4"/>
<rect x="616" y="594" width="3" height="1" fill="#b4b4b4"/>
<rect x="622" y="594" width="3" height="1" fill="#b4b4b4"/>
<rect x="628" y="594" width="3" height="1" fill="#b4b4b4"/>
<rect x="634" y="594" width="3" height="1" fill="#b4b4b4"/>
<rect x="640" y="594" width="3" height="1" fill="#b4b4b4"/>
<rect x="646" y="594" width="3" height="1" fill="#b4b4b4"/>
<rect x="652" y="594" width="3" height="1" fill="#b4b4b4"/>
<rect x="658" y="594" width="3" height="1" fill="#b4b4b4"/>
<rect x="664" y="594" width="3" height="1" fill="#b4b4b4"/>
<rect x="670" y="594" width="3" height="1" fill="#b4b4b4"/>
<rect x="676" y="594" width="3" height="1" fill="#b4b4b4"/>
<rect x="682" y="594" width="3" height="1" fill="#b4b4b4"/>
<rect x="688" y="594" width="3" height="1" fill="#b4b4b4"/>
<rect x="694" y="594" width="3" height="1" fill="#b4b4b4"/>
<rect x="700" y="594" width="3" height="1" fill="#b4b4b4"/>
<rect x="706" y="594" width="3" height="1" fill="#b4b4b4"/>
<rect x="712" y="594" width="3" height="1" fill="#b4b4b4"/>
<rect x="718" y="594" width="3" height="1" fill="#b4b4b4"/>
<rect x="724" y="594" width="3" height="1" fill="#b4b4b4"/>
<rect x="730" y="594" width="3" height="1" fill="#b4b4b4"/>
<rect x="736" y="594" width="3" height="1" fill="#b4b4b4"/>
<rect x="742" y="594" width="3" height="1" fill="#b4b4b4"/>
<rect x="748" y="594" width="3" height="1" fill="#b4b4b4"/>
<rect x="754" y="594" width="3" height="1" fill="#b4b4b4"/>
<rect x="760" y="594" width="3" height="1" fill="#b4b4b4"/>
<rect x="766" y="594" width="3" height="1" fill="#b4b4b4"/>
<rect x="772" y="594" width="3" height="1" fill="#b4b4b4"/>
<rect x="778" y="594" width="3" height="1" fill="#b4b4b4"/>
<rect x="784" y="594" width="3" height="1" fill="#b4b4b4"/>
<rect x="790" y="594" width="3" height="1" fill="#b4b4b4"/>
<rect x="796" y="594" width="3" height="1" fill="#b4b4b4"/>
<rect x="802" y="594" width="3" height="1" fill="#b4b4b4"/>
<rect x="808" y="594" width="3" height="1" fill="#b4b4b4"/>
<rect x="814" y="594" width="3" height="1" fill="#b4b4b4"/>
<rect x="820" y="594" width="3" height="1" fill="#b4b4b4"/>
<rect x="826" y="594" width="3" height="1" fill="#b4b4b4"/>
<rect x="832" y="594" width="3" height="1" fill="#b4b4b4"/>
<rect x="838" y="594" width="3" height="1" fill="#b4b4b4"/>
<rect x="844" y="594" width="3" height="1" fill="#b4b4b4"/>
<rect x="850" y="594" width="3" height="1" fill="#b4b4b4"/>
<rect x="856" y="594" width="3" height="1" fill="#b4b4b4"/>
<rect x="862" y="594" width="3" height="1" fill="#b4b4b4"/>
<rect x="868" y="594" width="3" height="1" fill="#b4b4b4"/>
<rect x="874" y="594" width="3" height="1" fill="#b4b4b4"/>
<rect x="880" y="594" width="3" height="1" fill="#b4b4b4"/>
<rect x="886" y="594" width="3" height="1" fill="#b4b4b4"/>
<rect x="892" y="594" width="3" height="1" fill="#b4b4b4"/>
<rect x="898" y="594" width="3" height="1" fill="#b4b4b4"/>
<rect x="904" y="594" width="3" height="1" fill="#b4b4b4"/>
<rect x="910" y="594" width="3" height="1" fill="#b4b4b4"/>
<rect x="916" y="594" width="3" height="1" fill="#b4b4b4"/>
<rect x="922" y="594" width="3" height="1" fill="#b4b4b4"/>
<rect x="928" y="594" width="3" height="1" fill="#b4b4b4"/>
<rect x="934" y="594" width="3" height="1" fill="#b4b4b4"/>
<rect x="940" y="594" width="3" height="1" fill="#b4b4b4"/>
<rect x="946" y="594" width="3" height="1" fill="#b4b4b4"/>
<rect x="952" y="594" width="3" height="1" fill="#b4b4b4"/>
<rect x="958" y="594" width="3" height="1" fill="#b4b4b4"/>
<rect x="964" y="594" width="3" height="1" fill="#b4b4b4"/>
<rect x="970" y="594" width="3" height="1" fill="#b4b4b4"/>
<rect x="976" y="594" width="3" height="1" fill="#b4b4b4"/>
<rect x="982" y="594" width="3" height="1" fill="#b4b4b4"/>
<rect x="988" y="594" width="3" height="1" fill="#b4b4b4"/>
<rect x="994" y="594" width="3" height="1" fill="#b4b4b4"/>
<rect x="1000" y="594" width="3" height="1" fill="#b4b4b4"/>
<rect x="1006" y="594" width="3" height="1" fill="#b4b4b4"/>
<rect x="1012" y="594" width="3" height="1" fill="#b4b4b4"/>
<rect x="1018" y="594" width="3" height="1" fill="#b4b4b4"/>
<rect x="1024" y="594" width="3" height="1" fill="#b4b4b4"/>
<rect x="1030" y="594" width="3" height="1" fill="#b4b4b4"/>
<rect x="1036" y="594" width="3" height="1" fill="#b4b4b4"/>
<rect x="1042" y="594" width="3" height="1" fill="#b4b4b4"/>
<rect x="1048" y="594" width="3" height="1" fill="#b4b4b4"/>
<rect x="1054" y="594" width="3" height="1" fill="#b4b4b4"/>
<rect x="1060" y="594" width="3" height="1" fill="#b4b4b4"/>
<rect x="1066" y="594" width="3" height="1" fill="#b4b4b4"/>
<rect x="1072" y="594" width="3" height="1" fill="#b4b4b4"/>
<rect x="1078" y="594" width="3" height="1" fill="#b4b4b4"/>
<rect x="1084" y="594" width="3" height="1" fill="#b4b4b4"/>
<rect x="1090" y="594" width="3" height="1" fill="#b4b4b4"/>
<rect x="1096" y="594" width="3" height="1" fill="#b4b4b4"/>
<rect x="1102" y="594" width="3" height="1" fill="#b4b4b4"/>
<rect x="1108" y="594" width="3" height="1" fill="#b4b4b4"/>
<rect x="1114" y="594" width="3" height="1" fill="#b4b4b4"/>
<rect x="1120" y="594" width="3" height="1" fill="#b4b4b4"/>
<rect x="1126" y="594" width="3" height="1" fill="#b4b4b4"/>
<rect x="1132" y="594" width="3" height="1" fill="#b4b4b4"/>
<rect x="1138" y="594" width="3" height="1" fill="#b4b4b4"/>
<rect x="1144" y="594" width="3" height="1" fill="#b4b4b4"/>
<rect x="1150" y="594" width="3" height="1" fill="#b4b4b4"/>
<rect x="1156" y="594" width="3" height="1" fill="#b4b4b4"/>
<rect x="1162" y="594" width="3" height="1" fill="#b4b4b4"/>
<rect x="1168" y="594" width="3" height="1" fill="#b4b4b4"/>
<rect x="1174" y="594" width="3" height="1" fill="#b4b4b4"/>
<rect x="1180" y="594" width="3" height="1" fill="#b4b4b4"/>
<rect x="1186" y="594" width="3" height="1" fill="#b4b4b4"/>
<rect x="1192" y="594" width="3" height="1" fill="#b4b4b4"/>
<rect x="1198" y="594" width="3" height="1" fill="#b4b4b4"/>
<rect x="1204" y="594" width="3" height="1" fill="#b4b4b4"/>
<rect x="1210" y="594" width="3" height="1" fill="#b4b4b4"/>
<rect x="1216" y="594" width="3" height="1" fill="#b4b4b4"/>
<rect x="1222" y="594" width="3" height="1" fill="#b4b4b4"/>
<rect x="1228" y="594" width="3" height="1" fill="#b4b4b4"/>
<rect x="1234" y="594" width="3" height="1" fill="#b4b4b4"/>
<rect x="1240" y="594" width="3" height="1" fill="#b4b4b4"/>
<rect x="1246" y="594" width="3" height="1" fill="#b4b4b4"/>
<rect x="1252" y="594" width="3" height="1" fill="#b4b4b4"/>
<rect x="1258" y="594" width="3" height="1" fill="#b4b4b4"/>
<rect x="1264" y="594" width="3" height="1" fill="#b4b4b4"/>
<rect x="1270" y="594" width="3" height="1" fill="#b4b4b4"/>
<rect x="1276" y="594" width="3" height="1" fill="#b4b4b4"/>
<rect x="1282" y="594" width="3" height="1" fill="#b4b4b4"/>
<rect x="1288" y="594" width="3" height="1" fill="#b4b4b4"/>
<rect x="1294" y="594" width="3" height="1" fill="#b4b4b4"/>
<rect x="1300" y="594" width="3" height="1" fill="#b4b4b4"/>
<rect x="1306" y="594" width="3" height="1" fill="#b4b4b4"/>
<rect x="1312" y="594" width="3" height="1" fill="#b4b4b4"/>
<rect x="1318" y="594" width="3" height="1" fill="#b4b4b4"/>
<rect x="1324" y="594" width="3" height="1" fill="#b4b4b4"/>
<rect x="1330" y="594" width="3" height="1" fill="#b4b4b4"/>
<rect x="1336" y="594" width="3" height="1" fill="#b4b4b4"/>
<rect x="1342" y="594" width="3" height="1" fill="#b4b4b4"/>
<rect x="1348" y="594" width="3" height="1" fill="#b4b4b4"/>
<rect x="1354" y="594" width="3" height="1" fill="#b4b4b4"/>
<rect x="1360" y="594" width="3" height="1" fill="#b4b4b4"/>
<rect x="1366" y="594" width="3" height="1" fill="#b4b4b4"/>
<rect x="1372" y="594" width="3" height="1" fill="#b4b4b4"/>
<rect x="1378" y="594" width="3" height="1" fill="#b4b4b4"/>
<rect x="1384" y="594" width="3" height="1" fill="#b4b4b4"/>
<rect x="1390" y="594" width="3" height="1" fill="#b4b4b4"/>
<rect x="1396" y="594" width="3" height="1" fill="#b4b4b4"/>
<rect x="1402" y="594" width="3" height="1" fill="#b4b4b4"/>
<rect x="1408" y="594" width="3" height="1" fill="#b4b4b4"/>
<rect x="1414" y="594" width="3" height="1" fill="#b4b4b4"/>
<rect x="1420" y="594" width="3" height="1" fill="#b4b4b4"/>
<rect x="1426" y="594" width="3" height="1" fill="#b4b4b4"/>
<rect x="1432" y="594" width="3" height="1" fill="#b4b4b4"/>
<rect x="1438" y="594" width="3" height="1" fill="#b4b4b4"/>
<rect x="1444" y="594" width="3" height="1" fill="#b4b4b4"/>
<rect x="1450" y="594" width="3" height="1" fill="#b4b4b4"/>
<rect x="1456" y="594" width="3" height="1" fill="#b4b4b4"/>
<rect x="1462" y="594" width="3" height="1" fill="#b4b4b4"/>
<rect x="1468" y="594" width="3" height="1" fill="#b4b4b4"/>
<rect x="1474" y="594" width="3" height="1" fill="#b4b4b4"/>
<rect x="1480" y="594" width="3" height="1" fill="#b4b4b4"/>
<rect x="1486" y="594" width="3" height="1" fill="#b4b4b4"/>
<rect x="1492" y="594" width="3" height="1" fill="#b4b4b4"/>
<rect x="1498" y="594" width="3" height="1" fill="#b4b4b4"/>
<rect x="1504" y="594" width="3" height="1" fill="#b4b4b4"/>
<rect x="1510" y="594" width="3" height="1" fill="#b4b4b4"/>
<rect x="1516" y="594" width="3" height="1" fill="#b4b4b4"/>
<rect x="1522" y="594" width="3" height="1" fill="#b4b4b4"/>
<rect x="1528" y="594" width="3" height="1" fill="#b4b4b4"/>
<rect x="1534" y="594" width="3" height="1" fill="#b4b4b4"/>
<rect x="1540" y="594" width="3" height="1" fill="#b4b4b4"/>
<rect x="1546" y="594" width="3" height="1" fill="#b4b4b4"/>
<rect x="1552" y="594" width="3" height="1" fill="#b4b4b4"/>
<rect x="1558" y="594" width="3" height="1" fill="#b4b4b4"/>
<rect x="1564" y="594" width="3" height="1" fill="#b4b4b4"/>
<rect x="1570" y="594" width="3" height="1" fill="#b4b4b4"/>
<rect x="1576" y="594" width="3" height="1" fill="#b4b4b4"/>
<rect x="1582" y="594" width="3" height="1" fill="#b4b4b4"/>
<rect x="1588" y="594" width="3" height="1" fill="#b4b4b4"/>
<rect x="1594" y="594" width="3" height="1" fill="#b4b4b4"/>
<path d="M3 589h2v1h-2zM5 590h4v1h-4zM9 591h2v1h-2zM11 590h1v2h-1zM12 588h1v2h-1zM13 586h1v2h-1zM14 584h1v2h-1zM15 582h1v2h-1zM16 580h1v2h-1zM17 578h1v2h-1zM18 576h1v2h-1zM19 575h1v1h-1zM20 574h1v1h-1zM21 573h1v1h-1zM22 572h1v1h-1zM23 571h1v1h-1zM24 570h1v1h-1zM25 568h1v2h-1zM26 567h1v1h-1zM27 566h1v1h-1zM28 567h2v1h-2zM30 568h2v1h-2zM32 567h1v1h-1zM33 566h2v1h-2zM35 565h1v1h-1zM36 566h2v1h-2zM38 567h3v1h-3zM41 568h3v1h-3zM44 567h2v1h-2zM46 566h2v1h-2zM48 565h2v1h-2zM50 564h2v1h-2zM52 565h2v1h-2zM54 566h2v1h-2zM56 567h1v1h-1zM57 568h2v1h-2zM59 569h1v1h-1zM60 570h1v1h-1zM61 571h2v1h-2zM63 572h2v1h-2zM65 573h2v1h-2zM67 573h1v2h-1zM68 575h1v2h-1zM69 577h1v2h-1zM70 579h1v2h-1zM71 581h1v2h-1zM72 583h1v1h-1zM73 584h1v1h-1zM74 585h1v1h-1zM75 586h2v1h-2zM77 587h3v1h-3zM80 586h1v1h-1zM81 585h1v1h-1zM82 584h1v1h-1zM83 583h1v1h-1zM84 582h1v1h-1zM85 581h2v1h-2zM87 580h1v1h-1zM88 581h1v2h-1zM89 583h1v2h-1zM90 585h1v2h-1zM91 587h1v1h-1zM92 586h2v1h-2zM94 585h2v1h-2zM96 584h2v1h-2zM98 583h2v1h-2zM100 584h2v1h-2zM102 585h2v1h-2zM104 586h2v1h-2zM106 587h2v1h-2zM108 588h1v1h-1zM109 589h1v2h-1zM110 591h1v1h-1zM111 592h4v1h-4zM115 591h1v2h-1zM116 588h1v3h-1zM117 586h1v2h-1zM118 583h1v3h-1zM119 581h1v2h-1zM120 580h2v1h-2zM122 579h3v1h-3zM125 578h3v1h-3zM128 579h1v1h-1zM129 580h1v1h-1zM130 581h1v1h-1zM131 582h1v1h-1zM132 583h1v1h-1zM133 584h2v1h-2zM135 585h2v1h-2zM137 584h3v1h-3zM140 582h1v2h-1zM141 580h1v2h-1zM142 578h1v2h-1zM143 576h1v2h-1zM144 575h1v1h-1zM145 573h1v2h-1zM146 572h1v1h-1zM147 571h2v1h-2zM149 572h3v1h-3zM152 573h1v1h-1zM153 574h1v1h-1zM154 575h1v1h-1zM155 576h1v1h-1zM156 577h1v1h-1zM157 578h2v1h-2zM159 579h4v1h-4zM163 578h1v2h-1zM164 575h1v3h-1zM165 573h1v2h-1zM166 570h1v3h-1zM167 568h1v2h-1zM168 567h2v1h-2zM170 566h6v1h-6zM176 565h1v1h-1zM177 564h2v1h-2zM179 563h1v1h-1zM180 564h2v1h-2zM182 565h2v1h-2zM184 566h1v1h-1zM185 567h2v1h-2zM187 568h1v1h-1zM188 569h1v2h-1zM189 571h1v1h-1zM190 572h1v2h-1zM191 574h1v1h-1zM192 573h2v1h-2zM194 572h3v1h-3zM197 573h3v1h-3zM200 572h2v1h-2zM202 571h2v1h-2zM204 570h1v1h-1zM205 569h2v1h-2zM207 568h1v1h-1zM208 567h2v1h-2zM210 566h2v1h-2zM212 565h2v1h-2zM214 564h2v1h-2zM216 563h1v1h-1zM217 562h2v1h-2zM219 561h2v1h-2zM221 562h3v1h-3zM224 563h1v1h-1zM225 564h2v1h-2zM227 565h2v1h-2zM229 566h4v1h-4zM233 567h3v1h-3zM236 568h2v1h-2zM238 569h2v1h-2zM240 570h1v1h-1zM241 571h1v2h-1zM242 573h1v1h-1zM243 574h2v1h-2zM245 575h4v1h-4zM249 576h3v1h-3zM252 577h1v1h-1zM253 578h2v1h-2zM255 579h1v1h-1zM256 580h2v1h-2zM258 581h1v1h-1zM259 581h1v2h-1zM260 583h1v2h-1zM261 585h1v3h-1zM262 588h1v2h-1zM263 590h1v2h-1zM264 588h1v2h-1zM265 585h1v3h-1zM266 583h1v2h-1zM267 581h1v2h-1zM268 581h5v1h-5zM273 580h3v1h-3zM276 579h1v1h-1zM277 578h2v1h-2zM279 577h1v1h-1zM280 578h1v2h-1zM281 580h1v1h-1zM282 581h1v2h-1zM283 583h1v1h-1zM284 584h2v1h-2zM286 585h3v1h-3zM289 586h7v1h-7zM296 587h2v1h-2zM298 588h2v1h-2zM300 587h1v1h-1zM301 586h2v1h-2zM303 585h2v1h-2zM305 586h3v1h-3zM308 587h2v1h-2zM310 588h7v1h-7zM317 589h2v1h-2zM319 588h1v2h-1zM320 584h1v4h-1zM321 580h1v4h-1zM322 576h1v4h-1zM323 574h1v2h-1zM324 573h1v1h-1zM325 571h1v2h-1zM326 570h1v1h-1zM327 569h1v1h-1zM328 568h2v1h-2zM330 567h2v1h-2zM332 568h1v2h-1zM333 570h1v2h-1zM334 572h1v2h-1zM335 574h1v1h-1zM336 573h2v1h-2zM338 572h3v1h-3zM341 571h4v1h-4zM345 572h3v1h-3zM348 573h1v2h-1zM349 575h1v2h-1zM350 577h1v2h-1zM351 578h1v2h-1zM352 576h1v2h-1zM353 574h1v2h-1zM354 572h1v2h-1zM355 570h1v2h-1zM356 568h1v2h-1zM357 566h1v2h-1zM358 564h1v2h-1zM359 563h1v1h-1zM360 564h1v2h-1zM361 566h1v1h-1zM362 567h1v2h-1zM363 569h5v1h-5zM368 568h1v1h-1zM369 567h2v1h-2zM371 566h1v1h-1zM372 567h1v2h-1zM373 569h1v2h-1zM374 571h1v2h-1zM375 573h2v1h-2zM377 572h3v1h-3zM380 571h2v1h-2zM382 570h2v1h-2zM384 569h1v1h-1zM385 568h2v1h-2zM387 567h2v1h-2zM389 568h3v1h-3zM392 567h1v1h-1zM393 566h2v1h-2zM395 565h1v1h-1zM396 564h2v1h-2zM398 563h2v1h-2zM400 564h1v1h-1zM401 565h2v1h-2zM403 566h1v1h-1zM404 565h1v1h-1zM405 564h2v1h-2zM407 563h1v1h-1zM408 562h1v1h-1zM409 560h1v2h-1zM410 559h1v1h-1zM411 558h1v1h-1zM412 559h1v1h-1zM413 560h2v1h-2zM415 561h1v1h-1zM416 560h1v1h-1zM417 559h2v1h-2zM419 558h1v1h-1zM420 557h1v1h-1zM421 556h2v1h-2zM423 555h1v1h-1zM424 556h1v1h-1zM425 557h1v1h-1zM426 558h1v1h-1zM427 559h4v1h-4zM431 559h1v2h-1zM432 561h1v3h-1zM433 564h1v3h-1zM434 567h1v3h-1zM435 570h1v2h-1zM436 571h1v1h-1zM437 570h3v1h-3zM440 571h1v1h-1zM441 572h1v2h-1zM442 574h1v1h-1zM443 575h1v2h-1zM444 577h1v2h-1zM445 579h1v2h-1zM446 581h1v2h-1zM447 583h1v2h-1zM448 584h1v1h-1zM449 585h7v1h-7zM456 583h1v2h-1zM457 581h1v2h-1zM458 579h1v2h-1zM459 577h1v2h-1zM460 577h5v1h-5zM465 576h4v1h-4zM469 577h4v1h-4zM473 576h3v1h-3zM476 577h1v1h-1zM477 578h2v1h-2zM479 579h1v1h-1zM480 580h1v1h-1zM481 581h2v1h-2zM483 582h6v1h-6zM489 583h3v1h-3zM492 584h2v1h-2zM494 585h2v1h-2zM496 586h1v1h-1zM497 587h2v1h-2zM499 588h1v1h-1zM500 587h1v1h-1zM501 586h2v1h-2zM503 585h1v1h-1zM504 586h1v1h-1zM505 587h2v1h-2zM507 588h2v1h-2zM509 589h3v1h-3zM512 590h1v2h-1zM513 592h1v2h-1zM514 594h1v2h-1zM515 596h2v1h-2zM517 597h4v1h-4zM521 598h3v1h-3zM524 599h1v1h-1zM525 600h2v1h-2zM527 601h2v1h-2zM529 602h3v1h-3zM532 601h2v1h-2zM534 600h6v1h-6zM540 598h1v2h-1zM541 596h1v2h-1zM542 594h1v2h-1zM543 592h1v2h-1zM544 591h1v1h-1zM545 589h1v2h-1zM546 588h1v1h-1zM547 587h2v1h-2zM549 588h3v1h-3zM552 589h1v2h-1zM553 591h1v2h-1zM554 593h1v2h-1zM555 595h6v1h-6zM561 594h2v1h-2zM563 593h1v2h-1zM564 591h1v2h-1zM565 589h1v2h-1zM566 587h1v2h-1zM567 585h1v2h-1zM568 584h1v1h-1zM569 582h1v2h-1zM570 581h1v1h-1zM571 580h1v1h-1zM572 581h2v1h-2zM574 582h2v1h-2zM576 583h2v1h-2zM578 584h3v1h-3zM581 585h7v1h-7zM588 586h2v1h-2zM590 587h2v1h-2zM592 588h1v1h-1zM593 589h2v1h-2zM595 590h1v1h-1zM596 591h1v2h-1zM597 593h1v1h-1zM598 594h1v2h-1zM599 596h1v1h-1zM600 595h2v1h-2zM602 594h7v1h-7zM609 595h3v1h-3zM612 596h2v1h-2zM614 597h2v1h-2zM616 598h1v1h-1zM617 599h1v2h-1zM618 601h1v1h-1zM619 602h1v1h-1zM620 600h1v2h-1zM621 598h1v2h-1zM622 596h1v2h-1zM623 595h1v2h-1zM624 597h1v2h-1zM625 599h1v2h-1zM626 601h1v2h-1zM627 603h1v2h-1zM628 600h1v3h-1zM629 597h1v3h-1zM630 594h1v3h-1zM631 592h1v2h-1zM632 592h3v1h-3zM635 591h1v2h-1zM636 588h1v3h-1zM637 584h1v4h-1zM638 581h1v3h-1zM639 579h1v2h-1zM640 579h4v1h-4zM644 580h2v1h-2zM646 581h2v1h-2zM648 580h1v1h-1zM649 579h2v1h-2zM651 578h1v1h-1zM652 577h2v1h-2zM654 576h3v1h-3zM657 575h2v1h-2zM659 575h1v2h-1zM660 577h1v4h-1zM661 581h1v4h-1zM662 585h1v4h-1zM663 589h1v3h-1zM664 589h1v2h-1zM665 588h1v1h-1zM666 586h1v2h-1zM667 585h1v2h-1zM668 587h1v3h-1zM669 590h1v3h-1zM670 593h1v3h-1zM671 596h1v2h-1zM672 598h1v1h-1zM673 599h2v1h-2zM675 600h2v1h-2zM677 601h7v1h-7zM684 602h1v1h-1zM685 603h1v1h-1zM686 604h1v1h-1zM687 605h1v1h-1zM688 606h2v1h-2zM690 607h2v1h-2zM692 606h2v1h-2zM694 605h7v1h-7zM701 606h4v1h-4zM705 607h2v1h-2zM707 606h1v2h-1zM708 602h1v4h-1zM709 598h1v4h-1zM710 594h1v4h-1zM711 592h1v2h-1zM712 592h1v1h-1zM713 591h3v1h-3zM716 589h1v2h-1zM717 588h1v1h-1zM718 586h1v2h-1zM719 585h1v1h-1zM720 584h1v1h-1zM721 582h1v2h-1zM722 581h1v1h-1zM723 580h1v1h-1zM724 579h1v1h-1zM725 578h2v1h-2zM727 577h1v1h-1zM728 578h2v1h-2zM730 579h3v1h-3zM733 580h4v1h-4zM737 581h3v1h-3zM740 582h1v1h-1zM741 583h2v1h-2zM743 584h1v1h-1zM744 585h2v1h-2zM746 586h6v1h-6zM752 584h1v2h-1zM753 582h1v2h-1zM754 580h1v2h-1zM755 579h1v1h-1zM756 578h1v1h-1zM757 576h1v2h-1zM758 575h1v1h-1zM759 574h1v1h-1zM760 573h2v1h-2zM762 572h2v1h-2zM764 571h1v1h-1zM765 570h1v1h-1zM766 569h1v1h-1zM767 568h2v1h-2zM769 567h4v1h-4zM773 566h4v1h-4zM777 565h3v1h-3zM780 564h2v1h-2zM782 563h2v1h-2zM784 564h1v2h-1zM785 566h1v2h-1zM786 568h1v2h-1zM787 570h1v1h-1zM788 571h2v1h-2zM790 572h2v1h-2zM792 571h1v1h-1zM793 570h2v1h-2zM795 569h5v1h-5zM800 568h2v1h-2zM802 567h2v1h-2zM804 568h1v2h-1zM805 570h1v2h-1zM806 572h1v2h-1zM807 574h1v2h-1zM808 574h2v1h-2zM810 573h2v1h-2zM812 572h1v1h-1zM813 571h1v1h-1zM814 570h1v1h-1zM815 569h2v1h-2zM817 570h4v1h-4zM821 569h3v1h-3zM824 568h1v1h-1zM825 567h1v1h-1zM826 566h1v1h-1zM827 565h1v1h-1zM828 564h2v1h-2zM830 563h3v1h-3zM833 562h4v1h-4zM837 563h3v1h-3zM840 564h1v2h-1zM841 566h1v2h-1zM842 568h1v2h-1zM843 570h1v2h-1zM844 571h1v1h-1zM845 572h7v1h-7zM852 571h1v1h-1zM853 570h2v1h-2zM855 569h1v1h-1zM856 570h1v1h-1zM857 571h1v1h-1zM858 572h1v1h-1zM859 573h1v1h-1zM860 571h1v2h-1zM861 570h1v1h-1zM862 568h1v2h-1zM863 567h1v1h-1zM864 566h2v1h-2zM866 565h2v1h-2zM868 566h2v1h-2zM870 567h2v1h-2zM872 568h1v1h-1zM873 569h1v1h-1zM874 570h1v1h-1zM875 571h1v1h-1zM876 570h2v1h-2zM878 569h2v1h-2zM880 570h1v1h-1zM881 571h1v1h-1zM882 572h1v1h-1zM883 573h1v1h-1zM884 574h1v1h-1zM885 575h2v1h-2zM887 576h2v1h-2zM889 577h4v1h-4zM893 576h3v1h-3zM896 574h1v2h-1zM897 572h1v2h-1zM898 570h1v2h-1zM899 569h1v1h-1zM900 568h1v1h-1zM901 567h2v1h-2zM903 566h1v1h-1zM904 565h2v1h-2zM906 564h2v1h-2zM908 565h1v1h-1zM909 566h1v1h-1zM910 567h1v1h-1zM911 568h1v1h-1zM912 569h1v1h-1zM913 570h2v1h-2zM915 571h2v1h-2zM917 570h4v1h-4zM921 569h3v1h-3zM924 567h1v2h-1zM925 566h1v1h-1zM926 564h1v2h-1zM927 563h1v1h-1zM928 564h1v2h-1zM929 566h1v1h-1zM930 567h1v2h-1zM931 569h1v1h-1zM932 568h1v1h-1zM933 566h1v2h-1zM934 565h1v1h-1zM935 564h1v1h-1zM936 565h1v1h-1zM937 566h2v1h-2zM939 567h1v1h-1zM940 566h2v1h-2zM942 565h2v1h-2zM944 563h1v2h-1zM945 562h1v1h-1zM946 560h1v2h-1zM947 559h1v1h-1zM948 558h1v1h-1zM949 557h2v1h-2zM951 556h1v1h-1zM952 555h1v1h-1zM953 554h2v1h-2zM955 553h2v1h-2zM957 554h4v1h-4zM961 553h3v1h-3zM964 554h2v1h-2zM966 555h3v1h-3zM969 554h3v1h-3zM972 555h1v1h-1zM973 556h2v1h-2zM975 557h1v1h-1zM976 556h2v1h-2zM978 555h1v1h-1zM979 555h1v2h-1zM980 557h1v3h-1zM981 560h1v2h-1zM982 562h1v3h-1zM983 565h1v2h-1zM984 567h1v1h-1zM985 568h2v1h-2zM987 569h2v1h-2zM989 570h4v1h-4zM993 569h3v1h-3zM996 568h2v1h-2zM998 567h3v1h-3zM1001 566h3v1h-3zM1004 567h1v1h-1zM1005 568h1v2h-1zM1006 570h1v1h-1zM1007 571h2v1h-2zM1009 570h3v1h-3zM1012 571h2v1h-2zM1014 572h2v1h-2zM1016 571h1v1h-1zM1017 569h1v2h-1zM1018 568h1v1h-1zM1019 567h1v1h-1zM1020 566h1v1h-1zM1021 565h2v1h-2zM1023 564h1v1h-1zM1024 565h1v2h-1zM1025 567h1v2h-1zM1026 569h1v2h-1zM1027 571h1v2h-1zM1028 572h1v1h-1zM1029 573h15v1h-15zM1044 572h1v1h-1zM1045 571h2v1h-2zM1047 570h1v1h-1zM1048 569h2v1h-2zM1050 568h6v1h-6zM1056 567h2v1h-2zM1058 566h6v1h-6zM1064 565h1v1h-1zM1065 564h2v1h-2zM1067 563h2v1h-2zM1069 564h4v1h-4zM1073 565h3v1h-3zM1076 566h2v1h-2zM1078 567h3v1h-3zM1081 566h3v1h-3zM1084 567h1v1h-1zM1085 568h2v1h-2zM1087 569h1v1h-1zM1088 568h1v1h-1zM1089 566h1v2h-1zM1090 565h1v1h-1zM1091 564h1v1h-1zM1092 565h2v1h-2zM1094 566h2v1h-2zM1096 565h1v1h-1zM1097 564h2v1h-2zM1099 563h5v1h-5zM1104 564h1v1h-1zM1105 565h2v1h-2zM1107 566h2v1h-2zM1109 565h6v1h-6zM1115 564h1v2h-1zM1116 561h1v3h-1zM1117 559h1v2h-1zM1118 556h1v3h-1zM1119 554h1v2h-1zM1120 553h2v1h-2zM1122 552h2v1h-2zM1124 553h2v1h-2zM1126 554h2v1h-2zM1128 555h1v2h-1zM1129 557h1v2h-1zM1130 559h1v2h-1zM1131 561h1v2h-1zM1132 562h4v1h-4zM1136 561h1v1h-1zM1137 560h2v1h-2zM1139 559h1v1h-1zM1140 558h2v1h-2zM1142 557h3v1h-3zM1145 556h3v1h-3zM1148 557h1v1h-1zM1149 558h1v2h-1zM1150 560h1v1h-1zM1151 561h2v1h-2zM1153 560h4v1h-4zM1157 561h3v1h-3zM1160 562h1v2h-1zM1161 564h1v1h-1zM1162 565h1v2h-1zM1163 567h1v1h-1zM1164 566h1v1h-1zM1165 565h2v1h-2zM1167 564h1v1h-1zM1168 562h1v2h-1zM1169 561h1v1h-1zM1170 559h1v2h-1zM1171 558h2v1h-2zM1173 557h2v1h-2zM1175 557h1v2h-1zM1176 559h1v3h-1zM1177 562h1v2h-1zM1178 564h1v3h-1zM1179 567h1v2h-1zM1180 568h1v1h-1zM1181 569h4v1h-4zM1185 568h3v1h-3zM1188 569h2v1h-2zM1190 570h2v1h-2zM1192 569h2v1h-2zM1194 568h3v1h-3zM1197 569h4v1h-4zM1201 568h4v1h-4zM1205 567h3v1h-3zM1208 566h1v1h-1zM1209 565h1v1h-1zM1210 564h1v1h-1zM1211 563h1v1h-1zM1212 562h2v1h-2zM1214 561h5v1h-5zM1219 561h1v2h-1zM1220 563h1v2h-1zM1221 565h1v3h-1zM1222 568h1v2h-1zM1223 570h1v2h-1zM1224 572h1v1h-1zM1225 573h1v1h-1zM1226 574h1v1h-1zM1227 575h2v1h-2zM1229 574h3v1h-3zM1232 573h2v1h-2zM1234 572h6v1h-6zM1240 570h1v2h-1zM1241 569h1v1h-1zM1242 567h1v2h-1zM1243 566h1v1h-1zM1244 565h1v1h-1zM1245 564h1v1h-1zM1246 563h1v1h-1zM1247 562h1v1h-1zM1248 560h1v2h-1zM1249 558h1v2h-1zM1250 556h1v2h-1zM1251 555h5v1h-5zM1256 554h2v1h-2zM1258 553h2v1h-2zM1260 554h1v1h-1zM1261 555h2v1h-2zM1263 556h2v1h-2zM1265 555h3v1h-3z" fill="#1e90ff"/>
<path d="M3.5 661V668M7.5 661V669M11.5 661V669M15.5 661V668M19.5 661V667M23.5 661V665M27.5 661V664M31.5 661V662M35.5 660V662M39.5 659V662M43.5 658V662M47.5 658V662M51.5 657V662M55.5 657V662M59.5 657V662M63.5 657V662M67.5 657V662M71.5 658V662M75.5 660V662M79.5 661V662M83.5 661V663M87.5 661V663M91.5 661V664M95.5 661V665M99.5 661V665M103.5 661V666M107.5 661V666M111.5 661V667M115.5 661V668M119.5 661V668M123.5 661V667M127.5 661V667M131.5 661V666M135.5 661V667M139.5 661V667M143.5 661V666M147.5 661V665M151.5 661V664M155.5 661V664M159.5 661V664M163.5 661V664M167.5 661V663M171.5 660V662M175.5 659V662M179.5 658V662M183.5 657V662M187.5 657V662M191.5 658V662M195.5 658V662M199.5 658V662M203.5 658V662M207.5 658V662M211.5 657V662M215.5 656V662M219.5 656V662M223.5 655V662M227.5 655V662M231.5 655V662M235.5 655V662M239.5 656V662M243.5 656V662M247.5 657V662M251.5 658V662M255.5 659V662M259.5 659V662M263.5 661V662M267.5 661V663M271.5 661V663M275.5 661V663M279.5 661V663M283.5 661V664M287.5 661V664M291.5 661V665M295.5 661V665M299.5 661V666M303.5 661V666M307.5 661V666M311.5 661V666M315.5 661V667M319.5 661V667M323.5 661V666M327.5 661V665M331.5 661V664M335.5 661V663M339.5 661V663M343.5 661V662M347.5 661V662M351.5 661V662M355.5 661V662M359.5 659V662M363.5 659V662M367.5 659V662M371.5 658V662M375.5 658V662M379.5 658V662M383.5 658V662M387.5 657V662M391.5 657V662M395.5 657V662M399.5 656V662M403.5 656V662M407.5 655V662M411.5 654V662M415.5 654V662M419.5 653V662M423.5 652V662M427.5 651V662M431.5 651V662M435.5 652V662M439.5 653V662M443.5 654V662M447.5 656V662M451.5 658V662M455.5 660V662M459.5 660V662M463.5 661V662M467.5 661V662M471.5 661V662M475.5 661V662M479.5 661V662M483.5 661V663M487.5 661V663M491.5 661V664M495.5 661V665M499.5 661V665M503.5 661V666M507.5 661V666M511.5 661V667M515.5 661V668M519.5 661V670M523.5 661V671M527.5 661V672M531.5 661V673M535.5 661V674M539.5 661V674M543.5 661V674M547.5 661V673M551.5 661V673M555.5 661V673M559.5 661V673M563.5 661V673M567.5 661V673M571.5 661V671M575.5 661V671M579.5 661V670M583.5 661V670M587.5 661V669M591.5 661V669M595.5 661V670M599.5 661V671M603.5 661V671M607.5 661V672M611.5 661V672M615.5 661V672M619.5 661V674M623.5 661V674M627.5 661V676M631.5 661V677M635.5 661V677M639.5 661V675M643.5 661V674M647.5 661V673M651.5 661V671M655.5 661V670M659.5 661V668M663.5 661V671M667.5 661V671M671.5 661V676M675.5 661V681M679.5 661V686M683.5 661V689M687.5 661V694M691.5 661V701M695.5 661V705M699.5 661V707M703.5 661V710M707.5 661V712M711.5 661V710M715.5 661V708M719.5 661V703M723.5 661V698M727.5 661V693M731.5 661V689M735.5 661V686M739.5 661V684M743.5 661V683M747.5 661V682M751.5 661V682M755.5 661V680M759.5 661V677M763.5 661V673M767.5 661V669M771.5 661V665M775.5 660V662M779.5 657V662M783.5 654V662M787.5 653V662M791.5 653V662M795.5 652V662M799.5 652V662M803.5 651V662M807.5 652V662M811.5 653V662M815.5 652V662M819.5 652V662M823.5 651V662M827.5 650V662M831.5 648V662M835.5 646V662M839.5 646V662M843.5 647V662M847.5 648V662M851.5 649V662M855.5 649V662M859.5 650V662M863.5 650V662M867.5 649V662M871.5 648V662M875.5 649V662M879.5 649V662M883.5 650V662M887.5 652V662M891.5 654V662M895.5 655V662M899.5 654V662M903.5 653V662M907.5 651V662M911.5 651V662M915.5 651V662M919.5 652V662M923.5 652V662M927.5 650V662M931.5 650V662M935.5 649V662M939.5 649V662M943.5 648V662M947.5 646V662M951.5 642V662M955.5 639V662M959.5 636V662M963.5 634V662M967.5 633V662M971.5 631V662M975.5 631V662M979.5 631V662M983.5 633V662M987.5 636V662M991.5 638V662M995.5 640V662M999.5 641V662M1003.5 642V662M1007.5 644V662M1011.5 646V662M1015.5 647V662M1019.5 648V662M1023.5 647V662M1027.5 648V662M1031.5 650V662M1035.5 651V662M1039.5 652V662M1043.5 653V662M1047.5 653V662M1051.5 653V662M1055.5 653V662M1059.5 653V662M1063.5 653V662M1067.5 652V662M1071.5 652V662M1075.5 652V662M1079.5 652V662M1083.5 652V662M1087.5 653V662M1091.5 653V662M1095.5 653V662M1099.5 652V662M1103.5 652V662M1107.5 653V662M1111.5 653V662M1115.5 653V662M1119.5 651V662M1123.5 649V662M1127.5 648V662M1131.5 648V662M1135.5 648V662M1139.5 648V662M1143.5 647V662M1147.5 647V662M1151.5 647V662M1155.5 647V662M1159.5 648V662M1163.5 649V662M1167.5 649V662M1171.5 648V662M1175.5 648V662M1179.5 649V662M1183.5 650V662M1187.5 650V662M1191.5 651V662M1195.5 652V662M1199.5 652V662M1203.5 653V662M1207.5 653V662M1211.5 653V662M1215.5 652V662M1219.5 652V662M1223.5 653V662M1227.5 654V662M1231.5 655V662M1235.5 655V662M1239.5 656V662M1243.5 656V662M1247.5 655V662M1251.5 652V662M1255.5 651V662M1259.5 649V662M1263.5 648V662M1267.5 647V662" stroke="#c0c0c0" stroke-width="1" fill="none"/>
<path d="M3 669h3v1h-3zM9 669h3v1h-3zM15 668h3v1h-3zM21 668h3v1h-3zM27 667h2v1h-2zM29 666h1v1h-1zM33 665h3v1h-3zM39 664h2v1h-2zM41 663h1v1h-1zM45 662h3v1h-3zM51 661h2v1h-2zM53 660h1v1h-1zM57 659h3v1h-3zM63 658h3v1h-3zM69 658h3v1h-3zM75 658h3v1h-3zM81 658h3v1h-3zM87 659h2v1h-2zM89 660h1v1h-1zM93 661h3v1h-3zM99 661h2v1h-2zM101 662h1v1h-1zM105 663h3v1h-3zM111 664h3v1h-3zM117 665h3v1h-3zM123 665h3v1h-3zM129 666h3v1h-3zM135 666h3v1h-3zM141 666h3v1h-3zM147 666h2v1h-2zM149 665h1v1h-1zM153 665h3v1h-3zM159 664h3v1h-3zM165 664h3v1h-3zM171 663h2v1h-2zM173 662h1v1h-1zM177 662h3v1h-3zM183 661h2v1h-2zM185 660h1v1h-1zM189 660h3v1h-3zM195 659h3v1h-3zM201 658h3v1h-3zM207 658h3v1h-3zM213 657h3v1h-3zM219 657h3v1h-3zM225 657h3v1h-3zM231 656h3v1h-3zM237 656h3v1h-3zM243 656h3v1h-3zM249 656h3v1h-3zM255 656h2v1h-2zM257 657h1v1h-1zM261 657h3v1h-3zM267 658h2v1h-2zM269 659h1v1h-1zM273 660h3v1h-3zM279 660h2v1h-2zM281 661h1v1h-1zM285 661h3v1h-3zM291 662h2v1h-2zM293 663h1v1h-1zM297 663h3v1h-3zM303 663h2v1h-2zM305 664h1v1h-1zM309 664h3v1h-3zM315 664h2v1h-2zM317 665h1v1h-1zM321 665h3v1h-3zM327 665h3v1h-3zM333 665h3v1h-3zM339 664h3v1h-3zM345 663h3v1h-3zM351 663h2v1h-2zM353 662h1v1h-1zM357 662h3v1h-3zM363 661h3v1h-3zM369 660h3v1h-3zM375 660h2v1h-2zM377 659h1v1h-1zM381 659h3v1h-3zM387 659h2v1h-2zM389 658h1v1h-1zM393 658h3v1h-3zM399 658h2v1h-2zM401 657h1v1h-1zM405 657h3v1h-3zM411 657h2v1h-2zM413 656h1v1h-1zM417 656h3v1h-3zM423 655h2v1h-2zM425 654h1v1h-1zM429 654h3v1h-3zM435 653h3v1h-3zM441 653h3v1h-3zM447 653h2v1h-2zM449 654h1v1h-1zM453 654h3v1h-3zM459 655h2v1h-2zM461 656h1v1h-1zM465 657h3v1h-3zM471 658h2v1h-2zM473 659h1v1h-1zM477 660h3v1h-3zM483 661h3v1h-3zM489 661h3v1h-3zM495 662h3v1h-3zM501 663h3v1h-3zM507 663h2v1h-2zM509 664h1v1h-1zM513 664h3v1h-3zM519 665h2v1h-2zM521 666h1v1h-1zM525 667h3v1h-3zM531 668h2v1h-2zM533 669h1v1h-1zM537 670h3v1h-3zM543 670h2v1h-2zM545 671h1v1h-1zM549 672h3v1h-3zM555 672h3v1h-3zM561 672h3v1h-3zM567 672h3v1h-3zM573 672h3v1h-3zM579 671h3v1h-3zM585 671h3v1h-3zM591 670h3v1h-3zM597 669h3v1h-3zM603 669h3v1h-3zM609 669h3v1h-3zM615 670h3v1h-3zM621 671h3v1h-3zM627 671h2v1h-2zM629 672h1v1h-1zM633 673h3v1h-3zM639 673h3v1h-3zM645 674h3v1h-3zM651 673h3v1h-3zM657 672h3v1h-3zM663 672h2v1h-2zM665 671h1v1h-1zM669 671h3v1h-3zM675 672h2v1h-2zM677 673h1v1h-1zM681 674h1v1h-1zM682 675h2v1h-2zM687 678h1v1h-1zM688 679h1v1h-1zM689 680h1v1h-1zM693 683h1v1h-1zM694 684h1v1h-1zM695 685h1v1h-1zM699 689h1v1h-1zM700 690h1v1h-1zM701 691h1v1h-1zM705 695h1v1h-1zM706 696h1v1h-1zM707 697h1v1h-1zM711 701h1v1h-1zM712 702h2v1h-2zM717 704h3v1h-3zM723 705h2v1h-2zM725 704h1v1h-1zM729 703h1v1h-1zM730 702h2v1h-2zM735 700h1v1h-1zM736 699h1v1h-1zM737 698h1v1h-1zM741 695h2v1h-2zM743 694h1v1h-1zM747 691h1v1h-1zM748 690h1v1h-1zM749 689h1v1h-1zM753 686h2v1h-2zM755 685h1v1h-1zM759 683h1v1h-1zM760 682h2v1h-2zM765 679h2v1h-2zM767 678h1v1h-1zM771 676h1v1h-1zM772 675h2v1h-2zM777 672h2v1h-2zM779 671h1v1h-1zM783 668h1v1h-1zM784 667h1v1h-1zM785 666h1v1h-1zM789 663h2v1h-2zM791 662h1v1h-1zM795 659h1v1h-1zM796 658h2v1h-2zM801 656h1v1h-1zM802 655h2v1h-2zM807 654h2v1h-2zM809 653h1v1h-1zM813 652h3v1h-3zM819 652h3v1h-3zM825 652h3v1h-3zM831 651h3v1h-3zM837 650h3v1h-3zM843 649h3v1h-3zM849 649h3v1h-3zM855 648h3v1h-3zM861 648h3v1h-3zM867 648h3v1h-3zM873 649h3v1h-3zM879 649h3v1h-3zM885 650h3v1h-3zM891 650h2v1h-2zM893 651h1v1h-1zM897 651h3v1h-3zM903 652h3v1h-3zM909 652h3v1h-3zM915 652h2v1h-2zM917 653h1v1h-1zM921 653h3v1h-3zM927 652h3v1h-3zM933 651h3v1h-3zM939 651h2v1h-2zM941 650h1v1h-1zM945 650h3v1h-3zM951 649h1v1h-1zM952 648h2v1h-2zM957 646h1v1h-1zM958 645h2v1h-2zM963 644h1v1h-1zM964 643h2v1h-2zM969 641h1v1h-1zM970 640h2v1h-2zM975 638h1v1h-1zM976 637h2v1h-2zM981 635h1v1h-1zM982 634h2v1h-2zM987 634h3v1h-3zM993 634h3v1h-3zM999 635h2v1h-2zM1001 636h1v1h-1zM1005 637h1v1h-1zM1006 638h2v1h-2zM1011 639h1v1h-1zM1012 640h2v1h-2zM1017 642h1v1h-1zM1018 643h2v1h-2zM1023 644h2v1h-2zM1025 645h1v1h-1zM1029 646h3v1h-3zM1035 647h2v1h-2zM1037 648h1v1h-1zM1041 649h3v1h-3zM1047 650h2v1h-2zM1049 651h1v1h-1zM1053 651h3v1h-3zM1059 652h3v1h-3zM1065 652h3v1h-3zM1071 653h3v1h-3zM1077 652h3v1h-3zM1083 652h3v1h-3zM1089 652h3v1h-3zM1095 652h3v1h-3zM1101 652h3v1h-3zM1107 652h2v1h-2zM1109 653h1v1h-1zM1113 653h3v1h-3zM1119 652h3v1h-3zM1125 652h3v1h-3zM1131 651h3v1h-3zM1137 650h3v1h-3zM1143 650h2v1h-2zM1145 649h1v1h-1zM1149 648h3v1h-3zM1155 648h3v1h-3zM1161 648h3v1h-3zM1167 648h3v1h-3zM1173 648h3v1h-3zM1179 648h3v1h-3zM1185 649h3v1h-3zM1191 649h3v1h-3zM1197 650h3v1h-3zM1203 650h2v1h-2zM1205 651h1v1h-1zM1209 651h3v1h-3zM1215 652h3v1h-3zM1221 652h3v1h-3zM1227 653h3v1h-3zM1233 653h3v1h-3zM1239 654h3v1h-3zM1245 654h3v1h-3zM1251 654h3v1h-3zM1257 654h3v1h-3zM1263 653h2v1h-2zM1265 652h1v1h-1z" fill="#ff0000"/>
<rect x="3" y="50" width="1592" height="2" fill="#ff0000"/>
<rect x="2" y="48" width="6" height="6" fill="#ff0000"/>
<rect x="4" y="50" width="2" height="2" fill="#fff"/>
<rect x="1589" y="48" width="6" height="6" fill="#ff0000"/>
<rect x="1591" y="50" width="2" height="2" fill="#fff"/>
<rect x="3" y="74" width="1592" height="2" fill="#ff0000"/>
<rect x="2" y="72" width="6" height="6" fill="#ff0000"/>
<rect x="4" y="74" width="2" height="2" fill="#fff"/>
<rect x="1589" y="72" width="6" height="6" fill="#ff0000"/>
<rect x="1591" y="74" width="2" height="2" fill="#fff"/>
<rect x="3" y="99" width="1592" height="2" fill="#00ff00"/>
<rect x="2" y="97" width="6" height="6" fill="#00ff00"/>
<rect x="4" y="99" width="2" height="2" fill="#fff"/>
<rect x="1589" y="97" width="6" height="6" fill="#00ff00"/>
<rect x="1591" y="99" width="2" height="2" fill="#fff"/>
<rect x="3" y="124" width="1592" height="2" fill="#0000ff"/>
<rect x="2" y="122" width="6" height="6" fill="#0000ff"/>
<rect x="4" y="124" width="2" height="2" fill="#fff"/>
<rect x="1589" y="122" width="6" height="6" fill="#0000ff"/>
<rect x="1591" y="124" width="2" height="2" fill="#fff"/>
<rect x="3" y="148" width="1592" height="2" fill="#0000ff"/>
<rect x="2" y="146" width="6" height="6" fill="#0000ff"/>
<rect x="4" y="148" width="2" height="2" fill="#fff"/>
<rect x="1589" y="146" width="6" height="6" fill="#0000ff"/>
<rect x="1591" y="148" width="2" height="2" fill="#fff"/>
<rect x="3" y="172" width="1592" height="2" fill="#0000ff"/>
<rect x="1597" y="52" width="41" height="11" fill="#000"/>
<text x="1601" y="61" font-size="9.5" fill="#fff" stroke="#fff" textLength="33" lengthAdjust="spacingAndGlyphs" >0.73786</text>
<rect x="1597" y="45" width="41" height="11" fill="#ff0000"/>
<text x="1601" y="54" font-size="9.5" fill="#fff" stroke="#fff" textLength="33" lengthAdjust="spacingAndGlyphs" >0.74021</text>
<rect x="1597" y="69" width="41" height="11" fill="#ff0000"/>
<text x="1601" y="78" font-size="9.5" fill="#fff" stroke="#fff" textLength="33" lengthAdjust="spacingAndGlyphs" >0.73033</text>
<rect x="1597" y="94" width="41" height="11" fill="#00ff00"/>
<text x="1601" y="103" font-size="9.5" fill="#fff" stroke="#fff" textLength="33" lengthAdjust="spacingAndGlyphs" >0.72022</text>
<rect x="1597" y="119" width="41" height="11" fill="#0000ff"/>
<text x="1601" y="128" font-size="9.5" fill="#fff" stroke="#fff" textLength="33" lengthAdjust="spacingAndGlyphs" >0.71010</text>
<rect x="1597" y="143" width="41" height="11" fill="#0000ff"/>
<text x="1601" y="152" font-size="9.5" fill="#fff" stroke="#fff" textLength="33" lengthAdjust="spacingAndGlyphs" >0.69999</text>
<rect x="1597" y="167" width="41" height="11" fill="#0000ff"/>
<text x="1601" y="176" font-size="9.5" fill="#fff" stroke="#fff" textLength="33" lengthAdjust="spacingAndGlyphs" >0.69025</text>
</svg>
</body></html>
